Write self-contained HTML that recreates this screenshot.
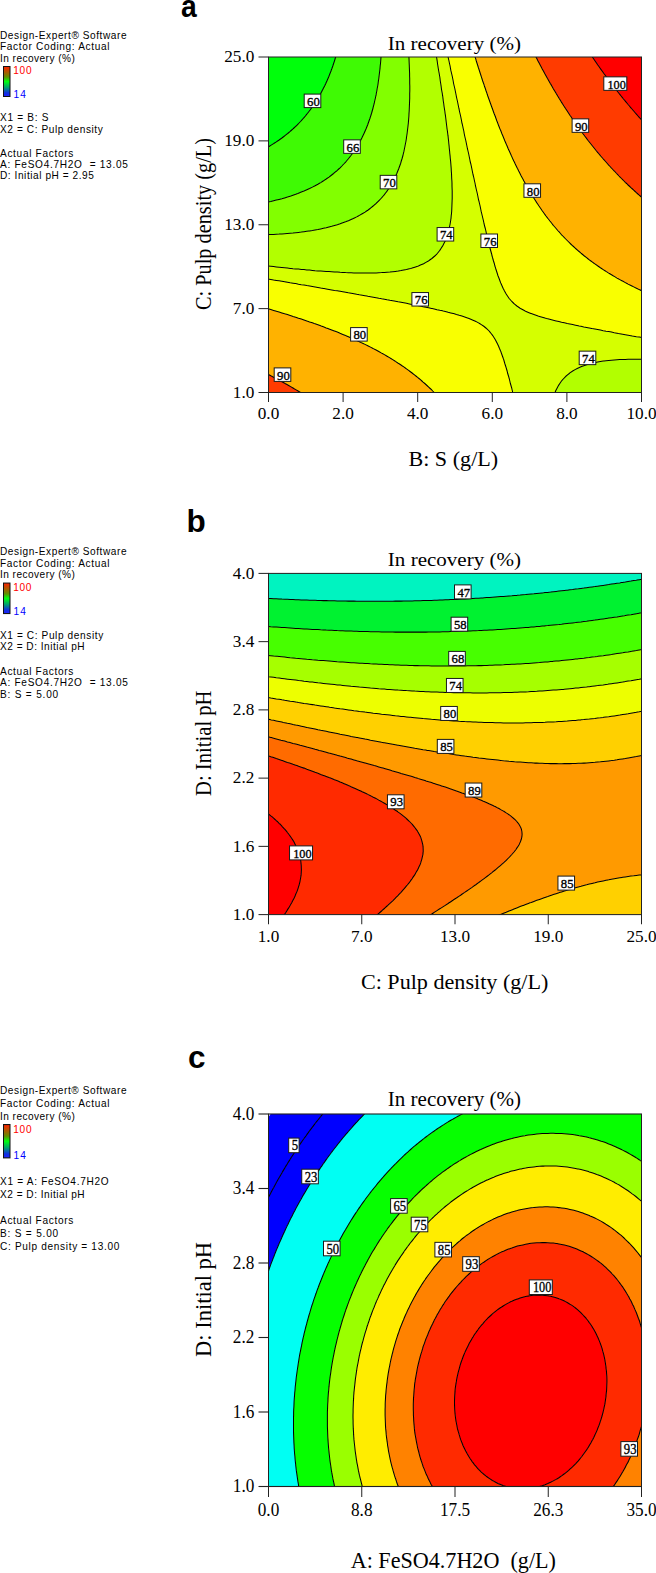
<!DOCTYPE html>
<html><head><meta charset="utf-8"><style>
html,body{margin:0;padding:0;background:#fff;width:656px;height:1573px;overflow:hidden}
svg{display:block}

</style></head><body>
<svg width="656" height="1573" viewBox="0 0 656 1573">
<defs><linearGradient id="gbar" x1="0" y1="0" x2="0" y2="1"><stop offset="0" stop-color="#ff2000"/><stop offset="0.18" stop-color="#b05800"/><stop offset="0.35" stop-color="#609000"/><stop offset="0.5" stop-color="#00ff10"/><stop offset="0.7" stop-color="#00a070"/><stop offset="0.88" stop-color="#1030e0"/><stop offset="1" stop-color="#2020ff"/></linearGradient></defs>
<clipPath id="clipa"><rect x="268.5" y="57.0" width="373.0" height="335.5"/></clipPath>
<g clip-path="url(#clipa)">
<path d="M268 51L270.8 51L273.6 51L276.3 51L279.1 51L281.9 51L284.7 51L287.4 51L290.2 51L293 51L295.7 51L298.5 51L301.3 51L304 51L306.8 51L309.6 51L312.4 51L315.1 51L317.9 51L320.7 51L323.4 51L326.2 51L329 51L331.7 51L334.5 51L337.3 51L337.4 51L337.3 51.4L336.7 53.5L336 56L335.2 58.5L334.5 60.8L334.5 61L333.6 63.5L332.8 66L331.9 68.5L331.7 69L331 71L330 73.5L329 76L329 76.1L328 78.5L326.9 81L326.2 82.5L325.8 83.5L324.6 86L323.4 88.3L323.3 88.5L322 91L320.7 93.5L320.7 93.5L319.3 96L317.9 98.4L317.8 98.5L316.3 101L315.1 102.8L314.7 103.5L313 106L312.4 106.9L311.2 108.5L309.6 110.7L309.3 111L307.4 113.5L306.8 114.2L305.4 116L304 117.6L303.2 118.5L301.3 120.7L301 121L298.6 123.5L298.5 123.6L296.1 126L295.7 126.3L293.4 128.5L293 128.9L290.6 131L290.2 131.4L287.7 133.5L287.4 133.7L284.7 135.9L284.5 136L281.9 138L281.2 138.5L279.1 140L277.6 141L276.3 141.9L273.8 143.5L273.6 143.7L270.8 145.4L269.8 146L268 147L265.4 148.5L265.3 148.6L262.5 150.1L262.5 148.5L262.5 146L262.5 143.5L262.5 141L262.5 138.5L262.5 136L262.5 133.5L262.5 131L262.5 128.5L262.5 126L262.5 123.5L262.5 121L262.5 118.5L262.5 116L262.5 113.5L262.5 111L262.5 108.5L262.5 106L262.5 103.5L262.5 101L262.5 98.5L262.5 96L262.5 93.5L262.5 91L262.5 88.5L262.5 86L262.5 83.5L262.5 81L262.5 78.5L262.5 76L262.5 73.5L262.5 71L262.5 68.5L262.5 66L262.5 63.5L262.5 61L262.5 58.5L262.5 58L264 56L265.3 54.2L265.7 53.5L267.4 51Z" fill="#00ff0b"/>
<path d="M337.3 51.4L337.4 51L340.1 51L342.8 51L345.6 51L348.4 51L351.1 51L353.9 51L356.7 51L359.4 51L362.2 51L365 51L367.8 51L370.5 51L373.3 51L376.1 51L378.8 51L381.4 51L381.3 53.5L381.1 56L380.9 58.5L380.7 61L380.5 63.5L380.2 66L380 68.5L379.7 71L379.4 73.5L379.1 76L378.8 78.3L378.8 78.5L378.4 81L378.1 83.5L377.7 86L377.2 88.5L376.8 91L376.3 93.5L376.1 94.9L375.8 96L375.3 98.5L374.7 101L374.2 103.5L373.5 106L373.3 107L372.9 108.5L372.2 111L371.5 113.5L370.7 116L370.5 116.6L369.9 118.5L369 121L368.1 123.5L367.8 124.5L367.2 126L366.2 128.5L365.1 131L365 131.3L364 133.5L362.8 136L362.2 137.3L361.6 138.5L360.3 141L359.4 142.5L358.9 143.5L357.4 146L356.7 147.2L355.9 148.5L354.2 151L353.9 151.5L352.5 153.5L351.1 155.3L350.6 156L348.6 158.5L348.4 158.8L346.5 161L345.6 162.1L344.3 163.5L342.8 165L341.9 166L340.1 167.8L339.3 168.5L337.3 170.4L336.6 171L334.5 172.7L333.6 173.5L331.7 175L330.4 176L329 177.1L326.9 178.5L326.2 179L323.4 180.8L323.2 181L320.7 182.6L319.1 183.5L317.9 184.2L315.1 185.7L314.6 186L312.4 187.1L309.6 188.5L309.6 188.5L306.8 189.8L304.1 191L304 191L301.3 192.1L298.5 193.2L297.8 193.5L295.7 194.3L293 195.2L290.8 196L290.2 196.2L287.4 197.1L284.7 197.9L282.6 198.5L281.9 198.7L279.1 199.4L276.3 200.1L273.6 200.8L272.8 201L270.8 201.5L268 202.1L265.3 202.6L262.5 203.2L262.5 201L262.5 198.5L262.5 196L262.5 193.5L262.5 191L262.5 188.5L262.5 186L262.5 183.5L262.5 181L262.5 178.5L262.5 176L262.5 173.5L262.5 171L262.5 168.5L262.5 166L262.5 163.5L262.5 161L262.5 158.5L262.5 156L262.5 153.5L262.5 151L262.5 150.1L265.3 148.6L265.4 148.5L268 147L269.8 146L270.8 145.4L273.6 143.7L273.8 143.5L276.3 141.9L277.6 141L279.1 140L281.2 138.5L281.9 138L284.5 136L284.7 135.9L287.4 133.7L287.7 133.5L290.2 131.4L290.6 131L293 128.9L293.4 128.5L295.7 126.3L296.1 126L298.5 123.6L298.6 123.5L301 121L301.3 120.7L303.2 118.5L304 117.6L305.4 116L306.8 114.2L307.4 113.5L309.3 111L309.6 110.7L311.2 108.5L312.4 106.9L313 106L314.7 103.5L315.1 102.8L316.3 101L317.8 98.5L317.9 98.4L319.3 96L320.7 93.5L320.7 93.5L322 91L323.3 88.5L323.4 88.3L324.6 86L325.8 83.5L326.2 82.5L326.9 81L328 78.5L329 76.1L329 76L330 73.5L331 71L331.7 69L331.9 68.5L332.8 66L333.6 63.5L334.5 61L334.5 60.8L335.2 58.5L336 56L336.7 53.5Z" fill="#3ffa04"/>
<path d="M381.6 51L384.4 51L387.1 51L389.9 51L392.7 51L395.4 51L398.2 51L401 51L403.8 51L406.5 51L408.6 51L408.7 53.5L408.9 56L409 58.5L409.1 61L409.2 63.5L409.3 65.6L409.3 66L409.4 68.5L409.5 71L409.6 73.5L409.6 76L409.7 78.5L409.7 81L409.7 83.5L409.8 86L409.8 88.5L409.8 91L409.7 93.5L409.7 96L409.7 98.5L409.6 101L409.5 103.5L409.4 106L409.3 108.5L409.3 108.5L409.2 111L409 113.5L408.9 116L408.7 118.5L408.5 121L408.3 123.5L408 126L407.7 128.5L407.4 131L407.1 133.5L406.7 136L406.5 137.4L406.4 138.5L406 141L405.5 143.5L405 146L404.5 148.5L404 151L403.8 151.9L403.4 153.5L402.8 156L402.1 158.5L401.3 161L401 162.1L400.6 163.5L399.7 166L398.8 168.5L398.2 170L397.8 171L396.8 173.5L395.7 176L395.4 176.6L394.5 178.5L393.3 181L392.7 182.1L391.9 183.5L390.4 186L389.9 186.8L388.8 188.5L387.1 190.9L387.1 191L385.2 193.5L384.4 194.6L383.2 196L381.6 197.9L381 198.5L378.8 200.8L378.7 201L376.1 203.5L376 203.5L373.3 205.9L373.2 206L370.5 208.1L370.1 208.5L367.8 210.2L366.6 211L365 212.1L362.7 213.5L362.2 213.8L359.4 215.4L358.3 216L356.7 216.9L353.9 218.2L353.3 218.5L351.1 219.5L348.4 220.7L347.6 221L345.6 221.8L342.8 222.8L340.8 223.5L340.1 223.8L337.3 224.7L334.5 225.5L332.7 226L331.7 226.3L329 227L326.2 227.7L323.4 228.3L322.5 228.5L320.7 228.9L317.9 229.5L315.1 230L312.4 230.5L309.6 230.9L308.9 231L306.8 231.3L304 231.7L301.3 232.1L298.5 232.4L295.7 232.7L293 233L290.2 233.2L287.4 233.5L287 233.5L284.7 233.7L281.9 233.9L279.1 234.1L276.3 234.2L273.6 234.4L270.8 234.5L268 234.6L265.3 234.7L262.5 234.8L262.5 233.5L262.5 231L262.5 228.5L262.5 226L262.5 223.5L262.5 221L262.5 218.5L262.5 216L262.5 213.5L262.5 211L262.5 208.5L262.5 206L262.5 203.5L262.5 203.2L265.3 202.6L268 202.1L270.8 201.5L272.8 201L273.6 200.8L276.3 200.1L279.1 199.4L281.9 198.7L282.6 198.5L284.7 197.9L287.4 197.1L290.2 196.2L290.8 196L293 195.2L295.7 194.3L297.8 193.5L298.5 193.2L301.3 192.1L304 191L304.1 191L306.8 189.8L309.6 188.5L309.6 188.5L312.4 187.1L314.6 186L315.1 185.7L317.9 184.2L319.1 183.5L320.7 182.6L323.2 181L323.4 180.8L326.2 179L326.9 178.5L329 177.1L330.4 176L331.7 175L333.6 173.5L334.5 172.7L336.6 171L337.3 170.4L339.3 168.5L340.1 167.8L341.9 166L342.8 165L344.3 163.5L345.6 162.1L346.5 161L348.4 158.8L348.6 158.5L350.6 156L351.1 155.3L352.5 153.5L353.9 151.5L354.2 151L355.9 148.5L356.7 147.2L357.4 146L358.9 143.5L359.4 142.5L360.3 141L361.6 138.5L362.2 137.3L362.8 136L364 133.5L365 131.3L365.1 131L366.2 128.5L367.2 126L367.8 124.5L368.1 123.5L369 121L369.9 118.5L370.5 116.6L370.7 116L371.5 113.5L372.2 111L372.9 108.5L373.3 107L373.5 106L374.2 103.5L374.7 101L375.3 98.5L375.8 96L376.1 94.9L376.3 93.5L376.8 91L377.2 88.5L377.7 86L378.1 83.5L378.4 81L378.8 78.5L378.8 78.3L379.1 76L379.4 73.5L379.7 71L380 68.5L380.2 66L380.5 63.5L380.7 61L380.9 58.5L381.1 56L381.3 53.5L381.4 51Z" fill="#82ff00"/>
<path d="M409.3 51L412.1 51L414.8 51L417.6 51L420.4 51L423.1 51L425.9 51L428.7 51L431.5 51L434.2 51L435.5 51L435.9 53.5L436.3 56L436.8 58.5L437 59.8L437.2 61L437.5 63.5L437.9 66L438.3 68.5L438.7 71L439.2 73.5L439.6 76L439.8 77L440 78.5L440.3 81L440.7 83.5L441.1 86L441.4 88.5L441.8 91L442.3 93.5L442.5 95.2L442.7 96L443 98.5L443.3 101L443.7 103.5L444 106L444.4 108.5L444.8 111L445.1 113.5L445.3 114.6L445.5 116L445.8 118.5L446.1 121L446.4 123.5L446.7 126L447 128.5L447.4 131L447.7 133.5L448 136L448.1 136.3L448.3 138.5L448.6 141L448.8 143.5L449.1 146L449.3 148.5L449.6 151L449.8 153.5L450.1 156L450.3 158.5L450.6 161L450.8 163.5L450.8 163.6L451 166L451.2 168.5L451.3 171L451.5 173.5L451.6 176L451.7 178.5L451.9 181L452 183.5L452 186L452.1 188.5L452.2 191L452.2 193.5L452.2 196L452.2 198.5L452.1 201L452 203.5L451.9 206L451.8 208.5L451.7 211L451.5 213.5L451.2 216L451 218.5L450.8 219.5L450.6 221L450.2 223.5L449.7 226L449.1 228.5L448.6 231L448.1 233L447.9 233.5L447 236L446.1 238.5L445.3 240.8L445.2 241L443.9 243.5L442.7 246L442.5 246.2L441 248.5L439.8 250.4L439.3 251L437.3 253.5L437 253.8L434.8 256L434.2 256.5L431.9 258.5L431.5 258.8L428.7 260.8L428.4 261L425.9 262.4L424 263.5L423.1 263.9L420.4 265.1L418.4 266L417.6 266.3L414.8 267.2L412.1 268.1L410.7 268.5L409.3 268.8L406.5 269.5L403.8 270L401 270.6L398.6 271L398.2 271.1L395.4 271.4L392.7 271.7L389.9 272L387.1 272.2L384.4 272.4L381.6 272.6L378.8 272.7L376.1 272.9L373.3 272.9L370.5 273L367.8 273L365 273L362.2 273L359.4 273L356.7 272.9L353.9 272.9L351.1 272.8L348.4 272.7L345.6 272.6L342.8 272.4L340.1 272.3L337.3 272.1L334.5 272L331.7 271.8L329 271.6L326.2 271.5L323.4 271.3L320.7 271.1L319 271L317.9 270.9L315.1 270.7L312.4 270.4L309.6 270.1L306.8 269.9L304 269.6L301.3 269.4L298.5 269.1L295.7 268.9L293 268.7L291.2 268.5L290.2 268.4L287.4 268.1L284.7 267.8L281.9 267.5L279.1 267.2L276.3 266.9L273.6 266.6L270.8 266.3L268 266L267.8 266L265.3 265.7L262.5 265.3L262.5 263.5L262.5 261L262.5 258.5L262.5 256L262.5 253.5L262.5 251L262.5 248.5L262.5 246L262.5 243.5L262.5 241L262.5 238.5L262.5 236L262.5 234.8L265.3 234.7L268 234.6L270.8 234.5L273.6 234.4L276.3 234.2L279.1 234.1L281.9 233.9L284.7 233.7L287 233.5L287.4 233.5L290.2 233.2L293 233L295.7 232.7L298.5 232.4L301.3 232.1L304 231.7L306.8 231.3L308.9 231L309.6 230.9L312.4 230.5L315.1 230L317.9 229.5L320.7 228.9L322.5 228.5L323.4 228.3L326.2 227.7L329 227L331.7 226.3L332.7 226L334.5 225.5L337.3 224.7L340.1 223.8L340.8 223.5L342.8 222.8L345.6 221.8L347.6 221L348.4 220.7L351.1 219.5L353.3 218.5L353.9 218.2L356.7 216.9L358.3 216L359.4 215.4L362.2 213.8L362.7 213.5L365 212.1L366.6 211L367.8 210.2L370.1 208.5L370.5 208.1L373.2 206L373.3 205.9L376 203.5L376.1 203.5L378.7 201L378.8 200.8L381 198.5L381.6 197.9L383.2 196L384.4 194.6L385.2 193.5L387.1 191L387.1 190.9L388.8 188.5L389.9 186.8L390.4 186L391.9 183.5L392.7 182.1L393.3 181L394.5 178.5L395.4 176.6L395.7 176L396.8 173.5L397.8 171L398.2 170L398.8 168.5L399.7 166L400.6 163.5L401 162.1L401.3 161L402.1 158.5L402.8 156L403.4 153.5L403.8 151.9L404 151L404.5 148.5L405 146L405.5 143.5L406 141L406.4 138.5L406.5 137.4L406.7 136L407.1 133.5L407.4 131L407.7 128.5L408 126L408.3 123.5L408.5 121L408.7 118.5L408.9 116L409 113.5L409.2 111L409.3 108.5L409.3 108.5L409.4 106L409.5 103.5L409.6 101L409.7 98.5L409.7 96L409.7 93.5L409.8 91L409.8 88.5L409.8 86L409.7 83.5L409.7 81L409.7 78.5L409.6 76L409.6 73.5L409.5 71L409.4 68.5L409.3 66L409.3 65.6L409.2 63.5L409.1 61L409 58.5L408.9 56L408.7 53.5L408.6 51ZM606 360.8L608.7 360.5L611.5 360.2L614.3 360L617 359.8L619.8 359.6L622.6 359.5L625.3 359.4L628.1 359.3L630.9 359.3L633.7 359.3L636.4 359.3L639.2 359.3L642 359.3L644.7 359.4L647.5 359.4L647.5 361L647.5 363.5L647.5 366L647.5 368.5L647.5 371L647.5 373.5L647.5 376L647.5 378.5L647.5 381L647.5 383.5L647.5 386L647.5 388.5L647.5 391L647.5 393.5L647.5 396L647.5 398.5L644.7 398.5L642 398.5L639.2 398.5L636.4 398.5L633.7 398.5L630.9 398.5L628.1 398.5L625.3 398.5L622.6 398.5L619.8 398.5L617 398.5L614.3 398.5L611.5 398.5L608.7 398.5L606 398.5L603.2 398.5L600.4 398.5L597.6 398.5L594.9 398.5L592.1 398.5L589.3 398.5L586.6 398.5L583.8 398.5L581 398.5L578.3 398.5L575.5 398.5L572.7 398.5L569.9 398.5L567.2 398.5L564.4 398.5L561.6 398.5L558.9 398.5L556.1 398.5L553.3 398.5L552.9 398.5L553.3 397L553.7 396L554.7 393.5L555.6 391L556.1 390L556.9 388.5L558.2 386L558.9 384.9L559.8 383.5L561.5 381L561.6 380.9L563.7 378.5L564.4 377.8L566.2 376L567.2 375.1L569.2 373.5L569.9 372.9L572.7 371L572.7 371L575.5 369.4L577.2 368.5L578.3 368L581 366.8L583 366L583.8 365.7L586.6 364.8L589.3 364L591 363.5L592.1 363.2L594.9 362.7L597.6 362.1L600.4 361.6L603.2 361.1L604 361Z" fill="#b2ff00"/>
<path d="M437 51L439.8 51L442.5 51L445.3 51L446.9 51L447.4 53.5L447.9 56L448.1 57L448.4 58.5L449 61L449.5 63.5L450.1 66L450.5 68.5L450.8 70.2L451 71L451.6 73.5L452.2 76L452.7 78.5L453.2 81L453.6 83.5L453.6 83.5L454.2 86L454.8 88.5L455.3 91L455.8 93.5L456.3 96L456.4 96.6L456.8 98.5L457.4 101L457.9 103.5L458.4 106L458.9 108.5L459.2 109.7L459.4 111L460 113.5L460.6 116L461.1 118.5L461.6 121L461.9 122.8L462.1 123.5L462.7 126L463.2 128.5L463.8 131L464.2 133.5L464.7 136L464.7 136L465.3 138.5L465.9 141L466.4 143.5L466.9 146L467.4 148.5L467.5 148.9L468 151L468.6 153.5L469.1 156L469.6 158.5L470.1 161L470.2 161.7L470.7 163.5L471.3 166L471.8 168.5L472.3 171L472.8 173.5L473 174.5L473.4 176L474 178.5L474.5 181L475.1 183.5L475.5 186L475.8 187.1L476.1 188.5L476.7 191L477.3 193.5L477.8 196L478.3 198.5L478.5 199.6L478.9 201L479.5 203.5L480.1 206L480.6 208.5L481.1 211L481.3 211.9L481.7 213.5L482.3 216L482.9 218.5L483.5 221L484 223.5L484.1 224L484.6 226L485.3 228.5L485.9 231L486.4 233.5L486.9 235.6L487 236L487.6 238.5L488.3 241L488.9 243.5L489.5 246L489.6 246.7L490.1 248.5L490.8 251L491.5 253.5L492.1 256L492.4 257.2L492.8 258.5L493.5 261L494.3 263.5L494.9 266L495.2 266.8L495.7 268.5L496.5 271L497.3 273.5L497.9 275.5L498.1 276L499.1 278.5L500 281L500.7 282.9L501 283.5L502.1 286L503.2 288.5L503.5 289.1L504.5 291L505.9 293.5L506.2 294.1L507.5 296L509 298.2L509.2 298.5L511.4 301L511.8 301.5L513.9 303.5L514.6 304.1L516.9 306L517.3 306.3L520.1 308.2L520.6 308.5L522.9 309.7L525.2 311L525.6 311.2L528.4 312.4L530.9 313.5L531.2 313.6L533.9 314.5L536.7 315.5L538.1 316L539.5 316.4L542.2 317.2L545 318.1L546.5 318.5L547.8 318.8L550.6 319.5L553.3 320.2L556.1 321L556.2 321L558.9 321.5L561.6 322.2L564.4 322.8L567.2 323.5L567.2 323.5L569.9 324L572.7 324.6L575.5 325.2L578.3 325.8L579.1 326L581 326.3L583.8 326.9L586.6 327.4L589.3 328L591.7 328.5L592.1 328.6L594.9 329L597.6 329.5L600.4 330.1L603.2 330.7L604.9 331L606 331.2L608.7 331.6L611.5 332.1L614.3 332.7L617 333.2L618.4 333.5L619.8 333.7L622.6 334.2L625.3 334.7L628.1 335.2L630.9 335.7L632.3 336L633.7 336.2L636.4 336.7L639.2 337.1L642 337.6L644.7 338.2L646.3 338.5L647.5 338.7L647.5 341L647.5 343.5L647.5 346L647.5 348.5L647.5 351L647.5 353.5L647.5 356L647.5 358.5L647.5 359.4L644.7 359.4L642 359.3L639.2 359.3L636.4 359.3L633.7 359.3L630.9 359.3L628.1 359.3L625.3 359.4L622.6 359.5L619.8 359.6L617 359.8L614.3 360L611.5 360.2L608.7 360.5L606 360.8L604 361L603.2 361.1L600.4 361.6L597.6 362.1L594.9 362.7L592.1 363.2L591 363.5L589.3 364L586.6 364.8L583.8 365.7L583 366L581 366.8L578.3 368L577.2 368.5L575.5 369.4L572.7 371L572.7 371L569.9 372.9L569.2 373.5L567.2 375.1L566.2 376L564.4 377.8L563.7 378.5L561.6 380.9L561.5 381L559.8 383.5L558.9 384.9L558.2 386L556.9 388.5L556.1 390L555.6 391L554.7 393.5L553.7 396L553.3 397L552.9 398.5L550.6 398.5L547.8 398.5L545 398.5L542.2 398.5L539.5 398.5L536.7 398.5L533.9 398.5L531.2 398.5L528.4 398.5L525.6 398.5L522.9 398.5L520.1 398.5L517.3 398.5L514.6 398.5L514.2 398.5L513.6 396L512.9 393.5L512.4 391L511.8 388.5L511.8 388.4L511.1 386L510.4 383.5L509.8 381L509.2 378.5L509 377.8L508.5 376L507.7 373.5L507.1 371L506.4 368.5L506.2 367.9L505.6 366L504.8 363.5L504.1 361L503.5 358.9L503.3 358.5L502.4 356L501.5 353.5L500.7 351.2L500.6 351L499.5 348.5L498.5 346L497.9 344.7L497.3 343.5L496 341L495.2 339.4L494.6 338.5L493 336L492.4 335.1L491.1 333.5L489.6 331.6L489.1 331L486.9 328.8L486.5 328.5L484.1 326.5L483.4 326L481.3 324.6L479.6 323.5L478.5 322.9L475.8 321.4L474.9 321L473 320.2L470.2 319L469 318.5L467.5 318L464.7 317L461.9 316L461.9 316L459.2 315.3L456.4 314.5L453.6 313.6L453.2 313.5L450.8 312.9L448.1 312.3L445.3 311.5L443.2 311L442.5 310.8L439.8 310.3L437 309.7L434.2 309L432.2 308.5L431.5 308.4L428.7 307.8L425.9 307.3L423.1 306.7L420.4 306L420.3 306L417.6 305.5L414.8 305L412.1 304.5L409.3 303.9L407.5 303.5L406.5 303.3L403.8 302.8L401 302.3L398.2 301.8L395.4 301.2L394.3 301L392.7 300.7L389.9 300.3L387.1 299.8L384.4 299.2L381.6 298.7L380.8 298.5L378.8 298.2L376.1 297.7L373.3 297.2L370.5 296.7L367.8 296.2L366.9 296L365 295.7L362.2 295.2L359.4 294.8L356.7 294.3L353.9 293.7L352.8 293.5L351.1 293.2L348.4 292.8L345.6 292.3L342.8 291.8L340.1 291.3L338.5 291L337.3 290.8L334.5 290.4L331.7 289.9L329 289.4L326.2 288.9L324.1 288.5L323.4 288.4L320.7 288L317.9 287.5L315.1 287L312.4 286.5L309.7 286L309.6 286L306.8 285.6L304 285.1L301.3 284.7L298.5 284.2L295.7 283.6L295 283.5L293 283.2L290.2 282.8L287.4 282.3L284.7 281.8L281.9 281.3L280.3 281L279.1 280.8L276.3 280.4L273.6 280L270.8 279.5L268 279L265.6 278.5L265.3 278.4L262.5 278L262.5 276L262.5 273.5L262.5 271L262.5 268.5L262.5 266L262.5 265.3L265.3 265.7L267.8 266L268 266L270.8 266.3L273.6 266.6L276.3 266.9L279.1 267.2L281.9 267.5L284.7 267.8L287.4 268.1L290.2 268.4L291.2 268.5L293 268.7L295.7 268.9L298.5 269.1L301.3 269.4L304 269.6L306.8 269.9L309.6 270.1L312.4 270.4L315.1 270.7L317.9 270.9L319 271L320.7 271.1L323.4 271.3L326.2 271.5L329 271.6L331.7 271.8L334.5 272L337.3 272.1L340.1 272.3L342.8 272.4L345.6 272.6L348.4 272.7L351.1 272.8L353.9 272.9L356.7 272.9L359.4 273L362.2 273L365 273L367.8 273L370.5 273L373.3 272.9L376.1 272.9L378.8 272.7L381.6 272.6L384.4 272.4L387.1 272.2L389.9 272L392.7 271.7L395.4 271.4L398.2 271.1L398.6 271L401 270.6L403.8 270L406.5 269.5L409.3 268.8L410.7 268.5L412.1 268.1L414.8 267.2L417.6 266.3L418.4 266L420.4 265.1L423.1 263.9L424 263.5L425.9 262.4L428.4 261L428.7 260.8L431.5 258.8L431.9 258.5L434.2 256.5L434.8 256L437 253.8L437.3 253.5L439.3 251L439.8 250.4L441 248.5L442.5 246.2L442.7 246L443.9 243.5L445.2 241L445.3 240.8L446.1 238.5L447 236L447.9 233.5L448.1 233L448.6 231L449.1 228.5L449.7 226L450.2 223.5L450.6 221L450.8 219.5L451 218.5L451.2 216L451.5 213.5L451.7 211L451.8 208.5L451.9 206L452 203.5L452.1 201L452.2 198.5L452.2 196L452.2 193.5L452.2 191L452.1 188.5L452 186L452 183.5L451.9 181L451.7 178.5L451.6 176L451.5 173.5L451.3 171L451.2 168.5L451 166L450.8 163.6L450.8 163.5L450.6 161L450.3 158.5L450.1 156L449.8 153.5L449.6 151L449.3 148.5L449.1 146L448.8 143.5L448.6 141L448.3 138.5L448.1 136.3L448 136L447.7 133.5L447.4 131L447 128.5L446.7 126L446.4 123.5L446.1 121L445.8 118.5L445.5 116L445.3 114.6L445.1 113.5L444.8 111L444.4 108.5L444 106L443.7 103.5L443.3 101L443 98.5L442.7 96L442.5 95.2L442.3 93.5L441.8 91L441.4 88.5L441.1 86L440.7 83.5L440.3 81L440 78.5L439.8 77L439.6 76L439.2 73.5L438.7 71L438.3 68.5L437.9 66L437.5 63.5L437.2 61L437 59.8L436.8 58.5L436.3 56L435.9 53.5L435.5 51Z" fill="#d5ff00"/>
<path d="M448.1 51L450.8 51L453.6 51L456.4 51L459.2 51L461.9 51L464.7 51L467.5 51L470.2 51L473 51L473.3 51L474 53.5L474.8 56L475.6 58.5L475.8 59.2L476.3 61L477.1 63.5L477.9 66L478.5 68L478.7 68.5L479.5 71L480.3 73.5L481.1 76L481.3 76.6L481.9 78.5L482.7 81L483.6 83.5L484.1 84.9L484.4 86L485.3 88.5L486.1 91L486.9 93.1L487 93.5L487.8 96L488.7 98.5L489.6 101L489.6 101L490.5 103.5L491.4 106L492.3 108.5L492.4 108.8L493.2 111L494.1 113.5L495.1 116L495.2 116.3L496 118.5L496.9 121L497.9 123.5L497.9 123.6L498.8 126L499.8 128.5L500.7 130.6L500.9 131L501.8 133.5L502.9 136L503.5 137.5L503.9 138.5L504.9 141L506 143.5L506.2 144.1L507.1 146L508.1 148.5L509 150.4L509.3 151L510.4 153.5L511.5 156L511.8 156.6L512.6 158.5L513.8 161L514.6 162.5L515 163.5L516.2 166L517.3 168.2L517.5 168.5L518.7 171L520 173.5L520.1 173.7L521.2 176L522.6 178.5L522.9 179L523.9 181L525.3 183.5L525.6 184.1L526.7 186L528.1 188.5L528.4 189L529.5 191L531.1 193.5L531.2 193.7L532.5 196L533.9 198.2L534.1 198.5L535.7 201L536.7 202.6L537.3 203.5L539 206L539.5 206.7L540.7 208.5L542.2 210.7L542.4 211L544.2 213.5L545 214.6L546 216L547.8 218.3L548 218.5L549.9 221L550.6 221.8L551.9 223.5L553.3 225.3L553.9 226L556.1 228.5L556.1 228.5L558.2 231L558.9 231.7L560.5 233.5L561.6 234.8L562.8 236L564.4 237.7L565.2 238.5L567.2 240.5L567.7 241L569.9 243.2L570.2 243.5L572.7 245.8L572.9 246L575.5 248.4L575.6 248.5L578.3 250.8L578.5 251L581 253.2L581.4 253.5L583.8 255.5L584.4 256L586.6 257.7L587.6 258.5L589.3 259.8L590.9 261L592.1 261.9L594.3 263.5L594.9 263.9L597.6 265.8L597.9 266L600.4 267.8L601.5 268.5L603.2 269.6L605.4 271L606 271.4L608.7 273.1L609.4 273.5L611.5 274.8L613.5 276L614.3 276.4L617 278.1L617.8 278.5L619.8 279.6L622.3 281L622.6 281.1L625.3 282.6L627 283.5L628.1 284.1L630.9 285.5L631.9 286L633.7 286.9L636.4 288.2L637 288.5L639.2 289.6L642 290.9L642.3 291L644.7 292.2L647.5 293.4L647.5 293.5L647.5 296L647.5 298.5L647.5 301L647.5 303.5L647.5 306L647.5 308.5L647.5 311L647.5 313.5L647.5 316L647.5 318.5L647.5 321L647.5 323.5L647.5 326L647.5 328.5L647.5 331L647.5 333.5L647.5 336L647.5 338.5L647.5 338.7L646.3 338.5L644.7 338.2L642 337.6L639.2 337.1L636.4 336.7L633.7 336.2L632.3 336L630.9 335.7L628.1 335.2L625.3 334.7L622.6 334.2L619.8 333.7L618.4 333.5L617 333.2L614.3 332.7L611.5 332.1L608.7 331.6L606 331.2L604.9 331L603.2 330.7L600.4 330.1L597.6 329.5L594.9 329L592.1 328.6L591.7 328.5L589.3 328L586.6 327.4L583.8 326.9L581 326.3L579.1 326L578.3 325.8L575.5 325.2L572.7 324.6L569.9 324L567.2 323.5L567.2 323.5L564.4 322.8L561.6 322.2L558.9 321.5L556.2 321L556.1 321L553.3 320.2L550.6 319.5L547.8 318.8L546.5 318.5L545 318.1L542.2 317.2L539.5 316.4L538.1 316L536.7 315.5L533.9 314.5L531.2 313.6L530.9 313.5L528.4 312.4L525.6 311.2L525.2 311L522.9 309.7L520.6 308.5L520.1 308.2L517.3 306.3L516.9 306L514.6 304.1L513.9 303.5L511.8 301.5L511.4 301L509.2 298.5L509 298.2L507.5 296L506.2 294.1L505.9 293.5L504.5 291L503.5 289.1L503.2 288.5L502.1 286L501 283.5L500.7 282.9L500 281L499.1 278.5L498.1 276L497.9 275.5L497.3 273.5L496.5 271L495.7 268.5L495.2 266.8L494.9 266L494.3 263.5L493.5 261L492.8 258.5L492.4 257.2L492.1 256L491.5 253.5L490.8 251L490.1 248.5L489.6 246.7L489.5 246L488.9 243.5L488.3 241L487.6 238.5L487 236L486.9 235.6L486.4 233.5L485.9 231L485.3 228.5L484.6 226L484.1 224L484 223.5L483.5 221L482.9 218.5L482.3 216L481.7 213.5L481.3 211.9L481.1 211L480.6 208.5L480.1 206L479.5 203.5L478.9 201L478.5 199.6L478.3 198.5L477.8 196L477.3 193.5L476.7 191L476.1 188.5L475.8 187.1L475.5 186L475.1 183.5L474.5 181L474 178.5L473.4 176L473 174.5L472.8 173.5L472.3 171L471.8 168.5L471.3 166L470.7 163.5L470.2 161.7L470.1 161L469.6 158.5L469.1 156L468.6 153.5L468 151L467.5 148.9L467.4 148.5L466.9 146L466.4 143.5L465.9 141L465.3 138.5L464.7 136L464.7 136L464.2 133.5L463.8 131L463.2 128.5L462.7 126L462.1 123.5L461.9 122.8L461.6 121L461.1 118.5L460.6 116L460 113.5L459.4 111L459.2 109.7L458.9 108.5L458.4 106L457.9 103.5L457.4 101L456.8 98.5L456.4 96.6L456.3 96L455.8 93.5L455.3 91L454.8 88.5L454.2 86L453.6 83.5L453.6 83.5L453.2 81L452.7 78.5L452.2 76L451.6 73.5L451 71L450.8 70.2L450.5 68.5L450.1 66L449.5 63.5L449 61L448.4 58.5L448.1 57L447.9 56L447.4 53.5L446.9 51ZM265.3 278.4L265.6 278.5L268 279L270.8 279.5L273.6 280L276.3 280.4L279.1 280.8L280.3 281L281.9 281.3L284.7 281.8L287.4 282.3L290.2 282.8L293 283.2L295 283.5L295.7 283.6L298.5 284.2L301.3 284.7L304 285.1L306.8 285.6L309.6 286L309.7 286L312.4 286.5L315.1 287L317.9 287.5L320.7 288L323.4 288.4L324.1 288.5L326.2 288.9L329 289.4L331.7 289.9L334.5 290.4L337.3 290.8L338.5 291L340.1 291.3L342.8 291.8L345.6 292.3L348.4 292.8L351.1 293.2L352.8 293.5L353.9 293.7L356.7 294.3L359.4 294.8L362.2 295.2L365 295.7L366.9 296L367.8 296.2L370.5 296.7L373.3 297.2L376.1 297.7L378.8 298.2L380.8 298.5L381.6 298.7L384.4 299.2L387.1 299.8L389.9 300.3L392.7 300.7L394.3 301L395.4 301.2L398.2 301.8L401 302.3L403.8 302.8L406.5 303.3L407.5 303.5L409.3 303.9L412.1 304.5L414.8 305L417.6 305.5L420.3 306L420.4 306L423.1 306.7L425.9 307.3L428.7 307.8L431.5 308.4L432.2 308.5L434.2 309L437 309.7L439.8 310.3L442.5 310.8L443.2 311L445.3 311.5L448.1 312.3L450.8 312.9L453.2 313.5L453.6 313.6L456.4 314.5L459.2 315.3L461.9 316L461.9 316L464.7 317L467.5 318L469 318.5L470.2 319L473 320.2L474.9 321L475.8 321.4L478.5 322.9L479.6 323.5L481.3 324.6L483.4 326L484.1 326.5L486.5 328.5L486.9 328.8L489.1 331L489.6 331.6L491.1 333.5L492.4 335.1L493 336L494.6 338.5L495.2 339.4L496 341L497.3 343.5L497.9 344.7L498.5 346L499.5 348.5L500.6 351L500.7 351.2L501.5 353.5L502.4 356L503.3 358.5L503.5 358.9L504.1 361L504.8 363.5L505.6 366L506.2 367.9L506.4 368.5L507.1 371L507.7 373.5L508.5 376L509 377.8L509.2 378.5L509.8 381L510.4 383.5L511.1 386L511.8 388.4L511.8 388.5L512.4 391L512.9 393.5L513.6 396L514.2 398.5L511.8 398.5L509 398.5L506.2 398.5L503.5 398.5L500.7 398.5L497.9 398.5L495.2 398.5L492.4 398.5L489.6 398.5L486.9 398.5L484.1 398.5L481.3 398.5L478.5 398.5L475.8 398.5L473 398.5L470.2 398.5L467.5 398.5L464.7 398.5L461.9 398.5L459.2 398.5L456.4 398.5L453.6 398.5L450.8 398.5L448.1 398.5L445.3 398.5L442.5 398.5L439.9 398.5L439.8 398.3L437.6 396L437 395.4L435.2 393.5L434.2 392.5L432.7 391L431.5 389.7L430.2 388.5L428.7 387.1L427.5 386L425.9 384.5L424.8 383.5L423.1 382.1L421.9 381L420.4 379.7L419 378.5L417.6 377.4L415.9 376L414.8 375.1L412.7 373.5L412.1 373L409.4 371L409.3 370.9L406.5 368.9L406 368.5L403.8 366.9L402.4 366L401 365L398.7 363.5L398.2 363.2L395.4 361.4L394.9 361L392.7 359.6L390.9 358.5L389.9 357.9L387.1 356.3L386.7 356L384.4 354.6L382.4 353.5L381.6 353.1L378.8 351.5L377.9 351L376.1 350L373.3 348.6L373.1 348.5L370.5 347.1L368.2 346L367.8 345.8L365 344.4L363.1 343.5L362.2 343.1L359.4 341.7L357.8 341L356.7 340.5L353.9 339.2L352.3 338.5L351.1 338L348.4 336.8L346.6 336L345.6 335.6L342.8 334.4L340.6 333.5L340.1 333.3L337.3 332.1L334.5 331.1L334.3 331L331.7 330L329 328.9L327.9 328.5L326.2 327.9L323.4 326.8L321.2 326L320.7 325.8L317.9 324.8L315.1 323.8L314.2 323.5L312.4 322.8L309.6 321.9L307 321L306.8 320.9L304 320L301.3 319.1L299.6 318.5L298.5 318.2L295.7 317.2L293 316.4L291.8 316L290.2 315.5L287.4 314.6L284.7 313.8L283.8 313.5L281.9 312.9L279.1 312L276.3 311.2L275.6 311L273.6 310.4L270.8 309.6L268 308.8L267.1 308.5L265.3 308L262.5 307.2L262.5 306L262.5 303.5L262.5 301L262.5 298.5L262.5 296L262.5 293.5L262.5 291L262.5 288.5L262.5 286L262.5 283.5L262.5 281L262.5 278.5L262.5 278Z" fill="#f9ff00"/>
<path d="M475.8 51L478.5 51L481.3 51L484.1 51L486.9 51L489.6 51L492.4 51L495.2 51L497.9 51L500.7 51L503.5 51L506.2 51L509 51L511.8 51L514.6 51L517.3 51L520.1 51L522.9 51L525.6 51L528.4 51L531.2 51L532.9 51L533.9 53L534.2 53.5L535.5 56L536.7 58.4L536.8 58.5L538 61L539.4 63.5L539.5 63.7L540.7 66L542 68.5L542.2 68.9L543.4 71L544.7 73.5L545 74L546.1 76L547.5 78.5L547.8 79L548.9 81L550.3 83.5L550.6 83.9L551.8 86L553.2 88.5L553.3 88.7L554.7 91L556.1 93.3L556.2 93.5L557.7 96L558.9 97.9L559.2 98.5L560.8 101L561.6 102.4L562.3 103.5L563.9 106L564.4 106.7L565.5 108.5L567.2 111L567.2 111L568.8 113.5L569.9 115.2L570.5 116L572.2 118.5L572.7 119.3L573.9 121L575.5 123.3L575.6 123.5L577.4 126L578.3 127.2L579.2 128.5L581 131L581 131L582.8 133.5L583.8 134.8L584.7 136L586.6 138.4L586.6 138.5L588.5 141L589.3 142L590.5 143.5L592.1 145.5L592.5 146L594.5 148.5L594.9 149L596.5 151L597.6 152.3L598.6 153.5L600.4 155.6L600.7 156L602.9 158.5L603.2 158.8L605.1 161L606 162L607.3 163.5L608.7 165.1L609.6 166L611.5 168.1L611.9 168.5L614.2 171L614.3 171L616.6 173.5L617 173.9L619 176L619.8 176.8L621.5 178.5L622.6 179.6L624 181L625.3 182.3L626.6 183.5L628.1 185L629.2 186L630.9 187.6L631.9 188.5L633.7 190.2L634.6 191L636.4 192.7L637.3 193.5L639.2 195.2L640.2 196L642 197.6L643 198.5L644.7 200L646 201L647.5 202.3L647.5 203.5L647.5 206L647.5 208.5L647.5 211L647.5 213.5L647.5 216L647.5 218.5L647.5 221L647.5 223.5L647.5 226L647.5 228.5L647.5 231L647.5 233.5L647.5 236L647.5 238.5L647.5 241L647.5 243.5L647.5 246L647.5 248.5L647.5 251L647.5 253.5L647.5 256L647.5 258.5L647.5 261L647.5 263.5L647.5 266L647.5 268.5L647.5 271L647.5 273.5L647.5 276L647.5 278.5L647.5 281L647.5 283.5L647.5 286L647.5 288.5L647.5 291L647.5 293.4L644.7 292.2L642.3 291L642 290.9L639.2 289.6L637 288.5L636.4 288.2L633.7 286.9L631.9 286L630.9 285.5L628.1 284.1L627 283.5L625.3 282.6L622.6 281.1L622.3 281L619.8 279.6L617.8 278.5L617 278.1L614.3 276.4L613.5 276L611.5 274.8L609.4 273.5L608.7 273.1L606 271.4L605.4 271L603.2 269.6L601.5 268.5L600.4 267.8L597.9 266L597.6 265.8L594.9 263.9L594.3 263.5L592.1 261.9L590.9 261L589.3 259.8L587.6 258.5L586.6 257.7L584.4 256L583.8 255.5L581.4 253.5L581 253.2L578.5 251L578.3 250.8L575.6 248.5L575.5 248.4L572.9 246L572.7 245.8L570.2 243.5L569.9 243.2L567.7 241L567.2 240.5L565.2 238.5L564.4 237.7L562.8 236L561.6 234.8L560.5 233.5L558.9 231.7L558.2 231L556.1 228.5L556.1 228.5L553.9 226L553.3 225.3L551.9 223.5L550.6 221.8L549.9 221L548 218.5L547.8 218.3L546 216L545 214.6L544.2 213.5L542.4 211L542.2 210.7L540.7 208.5L539.5 206.7L539 206L537.3 203.5L536.7 202.6L535.7 201L534.1 198.5L533.9 198.2L532.5 196L531.2 193.7L531.1 193.5L529.5 191L528.4 189L528.1 188.5L526.7 186L525.6 184.1L525.3 183.5L523.9 181L522.9 179L522.6 178.5L521.2 176L520.1 173.7L520 173.5L518.7 171L517.5 168.5L517.3 168.2L516.2 166L515 163.5L514.6 162.5L513.8 161L512.6 158.5L511.8 156.6L511.5 156L510.4 153.5L509.3 151L509 150.4L508.1 148.5L507.1 146L506.2 144.1L506 143.5L504.9 141L503.9 138.5L503.5 137.5L502.9 136L501.8 133.5L500.9 131L500.7 130.6L499.8 128.5L498.8 126L497.9 123.6L497.9 123.5L496.9 121L496 118.5L495.2 116.3L495.1 116L494.1 113.5L493.2 111L492.4 108.8L492.3 108.5L491.4 106L490.5 103.5L489.6 101L489.6 101L488.7 98.5L487.8 96L487 93.5L486.9 93.1L486.1 91L485.3 88.5L484.4 86L484.1 84.9L483.6 83.5L482.7 81L481.9 78.5L481.3 76.6L481.1 76L480.3 73.5L479.5 71L478.7 68.5L478.5 68L477.9 66L477.1 63.5L476.3 61L475.8 59.2L475.6 58.5L474.8 56L474 53.5L473.3 51ZM265.3 308L267.1 308.5L268 308.8L270.8 309.6L273.6 310.4L275.6 311L276.3 311.2L279.1 312L281.9 312.9L283.8 313.5L284.7 313.8L287.4 314.6L290.2 315.5L291.8 316L293 316.4L295.7 317.2L298.5 318.2L299.6 318.5L301.3 319.1L304 320L306.8 320.9L307 321L309.6 321.9L312.4 322.8L314.2 323.5L315.1 323.8L317.9 324.8L320.7 325.8L321.2 326L323.4 326.8L326.2 327.9L327.9 328.5L329 328.9L331.7 330L334.3 331L334.5 331.1L337.3 332.1L340.1 333.3L340.6 333.5L342.8 334.4L345.6 335.6L346.6 336L348.4 336.8L351.1 338L352.3 338.5L353.9 339.2L356.7 340.5L357.8 341L359.4 341.7L362.2 343.1L363.1 343.5L365 344.4L367.8 345.8L368.2 346L370.5 347.1L373.1 348.5L373.3 348.6L376.1 350L377.9 351L378.8 351.5L381.6 353.1L382.4 353.5L384.4 354.6L386.7 356L387.1 356.3L389.9 357.9L390.9 358.5L392.7 359.6L394.9 361L395.4 361.4L398.2 363.2L398.7 363.5L401 365L402.4 366L403.8 366.9L406 368.5L406.5 368.9L409.3 370.9L409.4 371L412.1 373L412.7 373.5L414.8 375.1L415.9 376L417.6 377.4L419 378.5L420.4 379.7L421.9 381L423.1 382.1L424.8 383.5L425.9 384.5L427.5 386L428.7 387.1L430.2 388.5L431.5 389.7L432.7 391L434.2 392.5L435.2 393.5L437 395.4L437.6 396L439.8 398.3L439.9 398.5L439.8 398.5L437 398.5L434.2 398.5L431.5 398.5L428.7 398.5L425.9 398.5L423.1 398.5L420.4 398.5L417.6 398.5L414.8 398.5L412.1 398.5L409.3 398.5L406.5 398.5L403.8 398.5L401 398.5L398.2 398.5L395.4 398.5L392.7 398.5L389.9 398.5L387.1 398.5L384.4 398.5L381.6 398.5L378.8 398.5L376.1 398.5L373.3 398.5L370.5 398.5L367.8 398.5L365 398.5L362.2 398.5L359.4 398.5L356.7 398.5L353.9 398.5L351.1 398.5L348.4 398.5L345.6 398.5L342.8 398.5L340.1 398.5L337.3 398.5L334.5 398.5L331.7 398.5L329 398.5L326.2 398.5L323.4 398.5L320.7 398.5L317.9 398.5L315.1 398.5L312.4 398.5L310.1 398.5L309.6 398.1L306.8 396.4L306.2 396L304 394.7L302.2 393.5L301.3 393L298.5 391.3L298.1 391L295.7 389.6L293.8 388.5L293 388L290.2 386.4L289.5 386L287.4 384.8L285.1 383.5L284.7 383.2L281.9 381.7L280.6 381L279.1 380.2L276.3 378.7L276 378.5L273.6 377.2L271.3 376L270.8 375.7L268 374.3L266.5 373.5L265.3 372.8L262.5 371.4L262.5 371L262.5 368.5L262.5 366L262.5 363.5L262.5 361L262.5 358.5L262.5 356L262.5 353.5L262.5 351L262.5 348.5L262.5 346L262.5 343.5L262.5 341L262.5 338.5L262.5 336L262.5 333.5L262.5 331L262.5 328.5L262.5 326L262.5 323.5L262.5 321L262.5 318.5L262.5 316L262.5 313.5L262.5 311L262.5 308.5L262.5 307.2Z" fill="#ffb200"/>
<path d="M533.9 51L536.7 51L539.5 51L542.2 51L545 51L547.8 51L550.6 51L553.3 51L556.1 51L558.9 51L561.6 51L564.4 51L567.2 51L569.9 51L572.7 51L575.5 51L578.3 51L581 51L583.8 51L586.6 51L588.4 51L589.3 52.5L590 53.5L591.7 56L592.1 56.6L593.4 58.5L594.9 60.7L595.1 61L596.8 63.5L597.6 64.7L598.6 66L600.3 68.5L600.4 68.6L602.1 71L603.2 72.5L603.9 73.5L605.8 76L606 76.3L607.6 78.5L608.7 80L609.5 81L611.3 83.5L611.5 83.7L613.3 86L614.3 87.3L615.2 88.5L617 90.9L617.1 91L619.1 93.5L619.8 94.4L621.1 96L622.6 97.8L623.1 98.5L625.2 101L625.3 101.2L627.3 103.5L628.1 104.5L629.4 106L630.9 107.8L631.5 108.5L633.7 111L633.7 111L635.8 113.5L636.4 114.2L638 116L639.2 117.3L640.3 118.5L642 120.3L642.6 121L644.7 123.4L644.9 123.5L647.2 126L647.5 126.3L647.5 128.5L647.5 131L647.5 133.5L647.5 136L647.5 138.5L647.5 141L647.5 143.5L647.5 146L647.5 148.5L647.5 151L647.5 153.5L647.5 156L647.5 158.5L647.5 161L647.5 163.5L647.5 166L647.5 168.5L647.5 171L647.5 173.5L647.5 176L647.5 178.5L647.5 181L647.5 183.5L647.5 186L647.5 188.5L647.5 191L647.5 193.5L647.5 196L647.5 198.5L647.5 201L647.5 202.3L646 201L644.7 200L643 198.5L642 197.6L640.2 196L639.2 195.2L637.3 193.5L636.4 192.7L634.6 191L633.7 190.2L631.9 188.5L630.9 187.6L629.2 186L628.1 185L626.6 183.5L625.3 182.3L624 181L622.6 179.6L621.5 178.5L619.8 176.8L619 176L617 173.9L616.6 173.5L614.3 171L614.2 171L611.9 168.5L611.5 168.1L609.6 166L608.7 165.1L607.3 163.5L606 162L605.1 161L603.2 158.8L602.9 158.5L600.7 156L600.4 155.6L598.6 153.5L597.6 152.3L596.5 151L594.9 149L594.5 148.5L592.5 146L592.1 145.5L590.5 143.5L589.3 142L588.5 141L586.6 138.5L586.6 138.4L584.7 136L583.8 134.8L582.8 133.5L581 131L581 131L579.2 128.5L578.3 127.2L577.4 126L575.6 123.5L575.5 123.3L573.9 121L572.7 119.3L572.2 118.5L570.5 116L569.9 115.2L568.8 113.5L567.2 111L567.2 111L565.5 108.5L564.4 106.7L563.9 106L562.3 103.5L561.6 102.4L560.8 101L559.2 98.5L558.9 97.9L557.7 96L556.2 93.5L556.1 93.3L554.7 91L553.3 88.7L553.2 88.5L551.8 86L550.6 83.9L550.3 83.5L548.9 81L547.8 79L547.5 78.5L546.1 76L545 74L544.7 73.5L543.4 71L542.2 68.9L542 68.5L540.7 66L539.5 63.7L539.4 63.5L538 61L536.8 58.5L536.7 58.4L535.5 56L534.2 53.5L533.9 53L532.9 51ZM265.3 372.8L266.5 373.5L268 374.3L270.8 375.7L271.3 376L273.6 377.2L276 378.5L276.3 378.7L279.1 380.2L280.6 381L281.9 381.7L284.7 383.2L285.1 383.5L287.4 384.8L289.5 386L290.2 386.4L293 388L293.8 388.5L295.7 389.6L298.1 391L298.5 391.3L301.3 393L302.2 393.5L304 394.7L306.2 396L306.8 396.4L309.6 398.1L310.1 398.5L309.6 398.5L306.8 398.5L304 398.5L301.3 398.5L298.5 398.5L295.7 398.5L293 398.5L290.2 398.5L287.4 398.5L284.7 398.5L281.9 398.5L279.1 398.5L276.3 398.5L273.6 398.5L270.8 398.5L268 398.5L265.3 398.5L262.5 398.5L262.5 396L262.5 393.5L262.5 391L262.5 388.5L262.5 386L262.5 383.5L262.5 381L262.5 378.5L262.5 376L262.5 373.5L262.5 371.4Z" fill="#ff3b00"/>
<path d="M589.3 51L592.1 51L594.9 51L597.6 51L600.4 51L603.2 51L606 51L608.7 51L611.5 51L614.3 51L617 51L619.8 51L622.6 51L625.3 51L628.1 51L630.9 51L633.7 51L636.4 51L638.4 51L639.2 52L640.4 53.5L642 55.4L642.4 56L644.4 58.5L644.7 58.9L646.5 61L647.5 62.2L647.5 63.5L647.5 66L647.5 68.5L647.5 71L647.5 73.5L647.5 76L647.5 78.5L647.5 81L647.5 83.5L647.5 86L647.5 88.5L647.5 91L647.5 93.5L647.5 96L647.5 98.5L647.5 101L647.5 103.5L647.5 106L647.5 108.5L647.5 111L647.5 113.5L647.5 116L647.5 118.5L647.5 121L647.5 123.5L647.5 126L647.5 126.3L647.2 126L644.9 123.5L644.7 123.4L642.6 121L642 120.3L640.3 118.5L639.2 117.3L638 116L636.4 114.2L635.8 113.5L633.7 111L633.7 111L631.5 108.5L630.9 107.8L629.4 106L628.1 104.5L627.3 103.5L625.3 101.2L625.2 101L623.1 98.5L622.6 97.8L621.1 96L619.8 94.4L619.1 93.5L617.1 91L617 90.9L615.2 88.5L614.3 87.3L613.3 86L611.5 83.7L611.3 83.5L609.5 81L608.7 80L607.6 78.5L606 76.3L605.8 76L603.9 73.5L603.2 72.5L602.1 71L600.4 68.6L600.3 68.5L598.6 66L597.6 64.7L596.8 63.5L595.1 61L594.9 60.7L593.4 58.5L592.1 56.6L591.7 56L590 53.5L589.3 52.5L588.4 51Z" fill="#ff0000"/>
<path d="M262.5 150.1L265.3 148.6L265.4 148.5L268 147L269.8 146L270.8 145.4L273.6 143.7L273.8 143.5L276.3 141.9L277.6 141L279.1 140L281.2 138.5L281.9 138L284.5 136L284.7 135.9L287.4 133.7L287.7 133.5L290.2 131.4L290.6 131L293 128.9L293.4 128.5L295.7 126.3L296.1 126L298.5 123.6L298.6 123.5L301 121L301.3 120.7L303.2 118.5L304 117.6L305.4 116L306.8 114.2L307.4 113.5L309.3 111L309.6 110.7L311.2 108.5L312.4 106.9L313 106L314.7 103.5L315.1 102.8L316.3 101L317.8 98.5L317.9 98.4L319.3 96L320.7 93.5L320.7 93.5L322 91L323.3 88.5L323.4 88.3L324.6 86L325.8 83.5L326.2 82.5L326.9 81L328 78.5L329 76.1L329 76L330 73.5L331 71L331.7 69L331.9 68.5L332.8 66L333.6 63.5L334.5 61L334.5 60.8L335.2 58.5L336 56L336.7 53.5L337.3 51.4L337.4 51" fill="none" stroke="#000" stroke-width="1.05"/>
<path d="M262.5 203.2L265.3 202.6L268 202.1L270.8 201.5L272.8 201L273.6 200.8L276.3 200.1L279.1 199.4L281.9 198.7L282.6 198.5L284.7 197.9L287.4 197.1L290.2 196.2L290.8 196L293 195.2L295.7 194.3L297.8 193.5L298.5 193.2L301.3 192.1L304 191L304.1 191L306.8 189.8L309.6 188.5L309.6 188.5L312.4 187.1L314.6 186L315.1 185.7L317.9 184.2L319.1 183.5L320.7 182.6L323.2 181L323.4 180.8L326.2 179L326.9 178.5L329 177.1L330.4 176L331.7 175L333.6 173.5L334.5 172.7L336.6 171L337.3 170.4L339.3 168.5L340.1 167.8L341.9 166L342.8 165L344.3 163.5L345.6 162.1L346.5 161L348.4 158.8L348.6 158.5L350.6 156L351.1 155.3L352.5 153.5L353.9 151.5L354.2 151L355.9 148.5L356.7 147.2L357.4 146L358.9 143.5L359.4 142.5L360.3 141L361.6 138.5L362.2 137.3L362.8 136L364 133.5L365 131.3L365.1 131L366.2 128.5L367.2 126L367.8 124.5L368.1 123.5L369 121L369.9 118.5L370.5 116.6L370.7 116L371.5 113.5L372.2 111L372.9 108.5L373.3 107L373.5 106L374.2 103.5L374.7 101L375.3 98.5L375.8 96L376.1 94.9L376.3 93.5L376.8 91L377.2 88.5L377.7 86L378.1 83.5L378.4 81L378.8 78.5L378.8 78.3L379.1 76L379.4 73.5L379.7 71L380 68.5L380.2 66L380.5 63.5L380.7 61L380.9 58.5L381.1 56L381.3 53.5L381.4 51" fill="none" stroke="#000" stroke-width="1.05"/>
<path d="M262.5 234.8L265.3 234.7L268 234.6L270.8 234.5L273.6 234.4L276.3 234.2L279.1 234.1L281.9 233.9L284.7 233.7L287 233.5L287.4 233.5L290.2 233.2L293 233L295.7 232.7L298.5 232.4L301.3 232.1L304 231.7L306.8 231.3L308.9 231L309.6 230.9L312.4 230.5L315.1 230L317.9 229.5L320.7 228.9L322.5 228.5L323.4 228.3L326.2 227.7L329 227L331.7 226.3L332.7 226L334.5 225.5L337.3 224.7L340.1 223.8L340.8 223.5L342.8 222.8L345.6 221.8L347.6 221L348.4 220.7L351.1 219.5L353.3 218.5L353.9 218.2L356.7 216.9L358.3 216L359.4 215.4L362.2 213.8L362.7 213.5L365 212.1L366.6 211L367.8 210.2L370.1 208.5L370.5 208.1L373.2 206L373.3 205.9L376 203.5L376.1 203.5L378.7 201L378.8 200.8L381 198.5L381.6 197.9L383.2 196L384.4 194.6L385.2 193.5L387.1 191L387.1 190.9L388.8 188.5L389.9 186.8L390.4 186L391.9 183.5L392.7 182.1L393.3 181L394.5 178.5L395.4 176.6L395.7 176L396.8 173.5L397.8 171L398.2 170L398.8 168.5L399.7 166L400.6 163.5L401 162.1L401.3 161L402.1 158.5L402.8 156L403.4 153.5L403.8 151.9L404 151L404.5 148.5L405 146L405.5 143.5L406 141L406.4 138.5L406.5 137.4L406.7 136L407.1 133.5L407.4 131L407.7 128.5L408 126L408.3 123.5L408.5 121L408.7 118.5L408.9 116L409 113.5L409.2 111L409.3 108.5L409.3 108.5L409.4 106L409.5 103.5L409.6 101L409.7 98.5L409.7 96L409.7 93.5L409.8 91L409.8 88.5L409.8 86L409.7 83.5L409.7 81L409.7 78.5L409.6 76L409.6 73.5L409.5 71L409.4 68.5L409.3 66L409.3 65.6L409.2 63.5L409.1 61L409 58.5L408.9 56L408.7 53.5L408.6 51" fill="none" stroke="#000" stroke-width="1.05"/>
<path d="M262.5 265.3L265.3 265.7L267.8 266L268 266L270.8 266.3L273.6 266.6L276.3 266.9L279.1 267.2L281.9 267.5L284.7 267.8L287.4 268.1L290.2 268.4L291.2 268.5L293 268.7L295.7 268.9L298.5 269.1L301.3 269.4L304 269.6L306.8 269.9L309.6 270.1L312.4 270.4L315.1 270.7L317.9 270.9L319 271L320.7 271.1L323.4 271.3L326.2 271.5L329 271.6L331.7 271.8L334.5 272L337.3 272.1L340.1 272.3L342.8 272.4L345.6 272.6L348.4 272.7L351.1 272.8L353.9 272.9L356.7 272.9L359.4 273L362.2 273L365 273L367.8 273L370.5 273L373.3 272.9L376.1 272.9L378.8 272.7L381.6 272.6L384.4 272.4L387.1 272.2L389.9 272L392.7 271.7L395.4 271.4L398.2 271.1L398.6 271L401 270.6L403.8 270L406.5 269.5L409.3 268.8L410.7 268.5L412.1 268.1L414.8 267.2L417.6 266.3L418.4 266L420.4 265.1L423.1 263.9L424 263.5L425.9 262.4L428.4 261L428.7 260.8L431.5 258.8L431.9 258.5L434.2 256.5L434.8 256L437 253.8L437.3 253.5L439.3 251L439.8 250.4L441 248.5L442.5 246.2L442.7 246L443.9 243.5L445.2 241L445.3 240.8L446.1 238.5L447 236L447.9 233.5L448.1 233L448.6 231L449.1 228.5L449.7 226L450.2 223.5L450.6 221L450.8 219.5L451 218.5L451.2 216L451.5 213.5L451.7 211L451.8 208.5L451.9 206L452 203.5L452.1 201L452.2 198.5L452.2 196L452.2 193.5L452.2 191L452.1 188.5L452 186L452 183.5L451.9 181L451.7 178.5L451.6 176L451.5 173.5L451.3 171L451.2 168.5L451 166L450.8 163.6L450.8 163.5L450.6 161L450.3 158.5L450.1 156L449.8 153.5L449.6 151L449.3 148.5L449.1 146L448.8 143.5L448.6 141L448.3 138.5L448.1 136.3L448 136L447.7 133.5L447.4 131L447 128.5L446.7 126L446.4 123.5L446.1 121L445.8 118.5L445.5 116L445.3 114.6L445.1 113.5L444.8 111L444.4 108.5L444 106L443.7 103.5L443.3 101L443 98.5L442.7 96L442.5 95.2L442.3 93.5L441.8 91L441.4 88.5L441.1 86L440.7 83.5L440.3 81L440 78.5L439.8 77L439.6 76L439.2 73.5L438.7 71L438.3 68.5L437.9 66L437.5 63.5L437.2 61L437 59.8L436.8 58.5L436.3 56L435.9 53.5L435.5 51M647.5 359.4L644.7 359.4L642 359.3L639.2 359.3L636.4 359.3L633.7 359.3L630.9 359.3L628.1 359.3L625.3 359.4L622.6 359.5L619.8 359.6L617 359.8L614.3 360L611.5 360.2L608.7 360.5L606 360.8L604 361L603.2 361.1L600.4 361.6L597.6 362.1L594.9 362.7L592.1 363.2L591 363.5L589.3 364L586.6 364.8L583.8 365.7L583 366L581 366.8L578.3 368L577.2 368.5L575.5 369.4L572.7 371L572.7 371L569.9 372.9L569.2 373.5L567.2 375.1L566.2 376L564.4 377.8L563.7 378.5L561.6 380.9L561.5 381L559.8 383.5L558.9 384.9L558.2 386L556.9 388.5L556.1 390L555.6 391L554.7 393.5L553.7 396L553.3 397L552.9 398.5" fill="none" stroke="#000" stroke-width="1.05"/>
<path d="M262.5 278L265.3 278.4L265.6 278.5L268 279L270.8 279.5L273.6 280L276.3 280.4L279.1 280.8L280.3 281L281.9 281.3L284.7 281.8L287.4 282.3L290.2 282.8L293 283.2L295 283.5L295.7 283.6L298.5 284.2L301.3 284.7L304 285.1L306.8 285.6L309.6 286L309.7 286L312.4 286.5L315.1 287L317.9 287.5L320.7 288L323.4 288.4L324.1 288.5L326.2 288.9L329 289.4L331.7 289.9L334.5 290.4L337.3 290.8L338.5 291L340.1 291.3L342.8 291.8L345.6 292.3L348.4 292.8L351.1 293.2L352.8 293.5L353.9 293.7L356.7 294.3L359.4 294.8L362.2 295.2L365 295.7L366.9 296L367.8 296.2L370.5 296.7L373.3 297.2L376.1 297.7L378.8 298.2L380.8 298.5L381.6 298.7L384.4 299.2L387.1 299.8L389.9 300.3L392.7 300.7L394.3 301L395.4 301.2L398.2 301.8L401 302.3L403.8 302.8L406.5 303.3L407.5 303.5L409.3 303.9L412.1 304.5L414.8 305L417.6 305.5L420.3 306L420.4 306L423.1 306.7L425.9 307.3L428.7 307.8L431.5 308.4L432.2 308.5L434.2 309L437 309.7L439.8 310.3L442.5 310.8L443.2 311L445.3 311.5L448.1 312.3L450.8 312.9L453.2 313.5L453.6 313.6L456.4 314.5L459.2 315.3L461.9 316L461.9 316L464.7 317L467.5 318L469 318.5L470.2 319L473 320.2L474.9 321L475.8 321.4L478.5 322.9L479.6 323.5L481.3 324.6L483.4 326L484.1 326.5L486.5 328.5L486.9 328.8L489.1 331L489.6 331.6L491.1 333.5L492.4 335.1L493 336L494.6 338.5L495.2 339.4L496 341L497.3 343.5L497.9 344.7L498.5 346L499.5 348.5L500.6 351L500.7 351.2L501.5 353.5L502.4 356L503.3 358.5L503.5 358.9L504.1 361L504.8 363.5L505.6 366L506.2 367.9L506.4 368.5L507.1 371L507.7 373.5L508.5 376L509 377.8L509.2 378.5L509.8 381L510.4 383.5L511.1 386L511.8 388.4L511.8 388.5L512.4 391L512.9 393.5L513.6 396L514.2 398.5M647.5 338.7L646.3 338.5L644.7 338.2L642 337.6L639.2 337.1L636.4 336.7L633.7 336.2L632.3 336L630.9 335.7L628.1 335.2L625.3 334.7L622.6 334.2L619.8 333.7L618.4 333.5L617 333.2L614.3 332.7L611.5 332.1L608.7 331.6L606 331.2L604.9 331L603.2 330.7L600.4 330.1L597.6 329.5L594.9 329L592.1 328.6L591.7 328.5L589.3 328L586.6 327.4L583.8 326.9L581 326.3L579.1 326L578.3 325.8L575.5 325.2L572.7 324.6L569.9 324L567.2 323.5L567.2 323.5L564.4 322.8L561.6 322.2L558.9 321.5L556.2 321L556.1 321L553.3 320.2L550.6 319.5L547.8 318.8L546.5 318.5L545 318.1L542.2 317.2L539.5 316.4L538.1 316L536.7 315.5L533.9 314.5L531.2 313.6L530.9 313.5L528.4 312.4L525.6 311.2L525.2 311L522.9 309.7L520.6 308.5L520.1 308.2L517.3 306.3L516.9 306L514.6 304.1L513.9 303.5L511.8 301.5L511.4 301L509.2 298.5L509 298.2L507.5 296L506.2 294.1L505.9 293.5L504.5 291L503.5 289.1L503.2 288.5L502.1 286L501 283.5L500.7 282.9L500 281L499.1 278.5L498.1 276L497.9 275.5L497.3 273.5L496.5 271L495.7 268.5L495.2 266.8L494.9 266L494.3 263.5L493.5 261L492.8 258.5L492.4 257.2L492.1 256L491.5 253.5L490.8 251L490.1 248.5L489.6 246.7L489.5 246L488.9 243.5L488.3 241L487.6 238.5L487 236L486.9 235.6L486.4 233.5L485.9 231L485.3 228.5L484.6 226L484.1 224L484 223.5L483.5 221L482.9 218.5L482.3 216L481.7 213.5L481.3 211.9L481.1 211L480.6 208.5L480.1 206L479.5 203.5L478.9 201L478.5 199.6L478.3 198.5L477.8 196L477.3 193.5L476.7 191L476.1 188.5L475.8 187.1L475.5 186L475.1 183.5L474.5 181L474 178.5L473.4 176L473 174.5L472.8 173.5L472.3 171L471.8 168.5L471.3 166L470.7 163.5L470.2 161.7L470.1 161L469.6 158.5L469.1 156L468.6 153.5L468 151L467.5 148.9L467.4 148.5L466.9 146L466.4 143.5L465.9 141L465.3 138.5L464.7 136L464.7 136L464.2 133.5L463.8 131L463.2 128.5L462.7 126L462.1 123.5L461.9 122.8L461.6 121L461.1 118.5L460.6 116L460 113.5L459.4 111L459.2 109.7L458.9 108.5L458.4 106L457.9 103.5L457.4 101L456.8 98.5L456.4 96.6L456.3 96L455.8 93.5L455.3 91L454.8 88.5L454.2 86L453.6 83.5L453.6 83.5L453.2 81L452.7 78.5L452.2 76L451.6 73.5L451 71L450.8 70.2L450.5 68.5L450.1 66L449.5 63.5L449 61L448.4 58.5L448.1 57L447.9 56L447.4 53.5L446.9 51" fill="none" stroke="#000" stroke-width="1.05"/>
<path d="M647.5 293.4L644.7 292.2L642.3 291L642 290.9L639.2 289.6L637 288.5L636.4 288.2L633.7 286.9L631.9 286L630.9 285.5L628.1 284.1L627 283.5L625.3 282.6L622.6 281.1L622.3 281L619.8 279.6L617.8 278.5L617 278.1L614.3 276.4L613.5 276L611.5 274.8L609.4 273.5L608.7 273.1L606 271.4L605.4 271L603.2 269.6L601.5 268.5L600.4 267.8L597.9 266L597.6 265.8L594.9 263.9L594.3 263.5L592.1 261.9L590.9 261L589.3 259.8L587.6 258.5L586.6 257.7L584.4 256L583.8 255.5L581.4 253.5L581 253.2L578.5 251L578.3 250.8L575.6 248.5L575.5 248.4L572.9 246L572.7 245.8L570.2 243.5L569.9 243.2L567.7 241L567.2 240.5L565.2 238.5L564.4 237.7L562.8 236L561.6 234.8L560.5 233.5L558.9 231.7L558.2 231L556.1 228.5L556.1 228.5L553.9 226L553.3 225.3L551.9 223.5L550.6 221.8L549.9 221L548 218.5L547.8 218.3L546 216L545 214.6L544.2 213.5L542.4 211L542.2 210.7L540.7 208.5L539.5 206.7L539 206L537.3 203.5L536.7 202.6L535.7 201L534.1 198.5L533.9 198.2L532.5 196L531.2 193.7L531.1 193.5L529.5 191L528.4 189L528.1 188.5L526.7 186L525.6 184.1L525.3 183.5L523.9 181L522.9 179L522.6 178.5L521.2 176L520.1 173.7L520 173.5L518.7 171L517.5 168.5L517.3 168.2L516.2 166L515 163.5L514.6 162.5L513.8 161L512.6 158.5L511.8 156.6L511.5 156L510.4 153.5L509.3 151L509 150.4L508.1 148.5L507.1 146L506.2 144.1L506 143.5L504.9 141L503.9 138.5L503.5 137.5L502.9 136L501.8 133.5L500.9 131L500.7 130.6L499.8 128.5L498.8 126L497.9 123.6L497.9 123.5L496.9 121L496 118.5L495.2 116.3L495.1 116L494.1 113.5L493.2 111L492.4 108.8L492.3 108.5L491.4 106L490.5 103.5L489.6 101L489.6 101L488.7 98.5L487.8 96L487 93.5L486.9 93.1L486.1 91L485.3 88.5L484.4 86L484.1 84.9L483.6 83.5L482.7 81L481.9 78.5L481.3 76.6L481.1 76L480.3 73.5L479.5 71L478.7 68.5L478.5 68L477.9 66L477.1 63.5L476.3 61L475.8 59.2L475.6 58.5L474.8 56L474 53.5L473.3 51M262.5 307.2L265.3 308L267.1 308.5L268 308.8L270.8 309.6L273.6 310.4L275.6 311L276.3 311.2L279.1 312L281.9 312.9L283.8 313.5L284.7 313.8L287.4 314.6L290.2 315.5L291.8 316L293 316.4L295.7 317.2L298.5 318.2L299.6 318.5L301.3 319.1L304 320L306.8 320.9L307 321L309.6 321.9L312.4 322.8L314.2 323.5L315.1 323.8L317.9 324.8L320.7 325.8L321.2 326L323.4 326.8L326.2 327.9L327.9 328.5L329 328.9L331.7 330L334.3 331L334.5 331.1L337.3 332.1L340.1 333.3L340.6 333.5L342.8 334.4L345.6 335.6L346.6 336L348.4 336.8L351.1 338L352.3 338.5L353.9 339.2L356.7 340.5L357.8 341L359.4 341.7L362.2 343.1L363.1 343.5L365 344.4L367.8 345.8L368.2 346L370.5 347.1L373.1 348.5L373.3 348.6L376.1 350L377.9 351L378.8 351.5L381.6 353.1L382.4 353.5L384.4 354.6L386.7 356L387.1 356.3L389.9 357.9L390.9 358.5L392.7 359.6L394.9 361L395.4 361.4L398.2 363.2L398.7 363.5L401 365L402.4 366L403.8 366.9L406 368.5L406.5 368.9L409.3 370.9L409.4 371L412.1 373L412.7 373.5L414.8 375.1L415.9 376L417.6 377.4L419 378.5L420.4 379.7L421.9 381L423.1 382.1L424.8 383.5L425.9 384.5L427.5 386L428.7 387.1L430.2 388.5L431.5 389.7L432.7 391L434.2 392.5L435.2 393.5L437 395.4L437.6 396L439.8 398.3L439.9 398.5" fill="none" stroke="#000" stroke-width="1.05"/>
<path d="M647.5 202.3L646 201L644.7 200L643 198.5L642 197.6L640.2 196L639.2 195.2L637.3 193.5L636.4 192.7L634.6 191L633.7 190.2L631.9 188.5L630.9 187.6L629.2 186L628.1 185L626.6 183.5L625.3 182.3L624 181L622.6 179.6L621.5 178.5L619.8 176.8L619 176L617 173.9L616.6 173.5L614.3 171L614.2 171L611.9 168.5L611.5 168.1L609.6 166L608.7 165.1L607.3 163.5L606 162L605.1 161L603.2 158.8L602.9 158.5L600.7 156L600.4 155.6L598.6 153.5L597.6 152.3L596.5 151L594.9 149L594.5 148.5L592.5 146L592.1 145.5L590.5 143.5L589.3 142L588.5 141L586.6 138.5L586.6 138.4L584.7 136L583.8 134.8L582.8 133.5L581 131L581 131L579.2 128.5L578.3 127.2L577.4 126L575.6 123.5L575.5 123.3L573.9 121L572.7 119.3L572.2 118.5L570.5 116L569.9 115.2L568.8 113.5L567.2 111L567.2 111L565.5 108.5L564.4 106.7L563.9 106L562.3 103.5L561.6 102.4L560.8 101L559.2 98.5L558.9 97.9L557.7 96L556.2 93.5L556.1 93.3L554.7 91L553.3 88.7L553.2 88.5L551.8 86L550.6 83.9L550.3 83.5L548.9 81L547.8 79L547.5 78.5L546.1 76L545 74L544.7 73.5L543.4 71L542.2 68.9L542 68.5L540.7 66L539.5 63.7L539.4 63.5L538 61L536.8 58.5L536.7 58.4L535.5 56L534.2 53.5L533.9 53L532.9 51M262.5 371.4L265.3 372.8L266.5 373.5L268 374.3L270.8 375.7L271.3 376L273.6 377.2L276 378.5L276.3 378.7L279.1 380.2L280.6 381L281.9 381.7L284.7 383.2L285.1 383.5L287.4 384.8L289.5 386L290.2 386.4L293 388L293.8 388.5L295.7 389.6L298.1 391L298.5 391.3L301.3 393L302.2 393.5L304 394.7L306.2 396L306.8 396.4L309.6 398.1L310.1 398.5" fill="none" stroke="#000" stroke-width="1.05"/>
<path d="M647.5 126.3L647.2 126L644.9 123.5L644.7 123.4L642.6 121L642 120.3L640.3 118.5L639.2 117.3L638 116L636.4 114.2L635.8 113.5L633.7 111L633.7 111L631.5 108.5L630.9 107.8L629.4 106L628.1 104.5L627.3 103.5L625.3 101.2L625.2 101L623.1 98.5L622.6 97.8L621.1 96L619.8 94.4L619.1 93.5L617.1 91L617 90.9L615.2 88.5L614.3 87.3L613.3 86L611.5 83.7L611.3 83.5L609.5 81L608.7 80L607.6 78.5L606 76.3L605.8 76L603.9 73.5L603.2 72.5L602.1 71L600.4 68.6L600.3 68.5L598.6 66L597.6 64.7L596.8 63.5L595.1 61L594.9 60.7L593.4 58.5L592.1 56.6L591.7 56L590 53.5L589.3 52.5L588.4 51" fill="none" stroke="#000" stroke-width="1.05"/>
</g>
<g transform="translate(0 0.000) scale(1 1.00000)">
<text x="0.00" y="38.90" font-family="Liberation Sans" font-size="10.10" fill="#000" textLength="126.60" lengthAdjust="spacing">Design-Expert® Software</text>
<text x="0.00" y="50.40" font-family="Liberation Sans" font-size="10.10" fill="#000" textLength="109.50" lengthAdjust="spacing">Factor Coding: Actual</text>
<text x="0.00" y="62.00" font-family="Liberation Sans" font-size="10.10" fill="#000" textLength="74.80" lengthAdjust="spacing">In recovery (%)</text>
<rect x="3.5" y="66.5" width="6.5" height="30" fill="url(#gbar)" stroke="#111" stroke-width="1"/>
<text x="13.20" y="74.30" font-family="Liberation Sans" font-size="10.10" fill="#ff0000" textLength="18.30" lengthAdjust="spacing">100</text>
<text x="13.50" y="97.60" font-family="Liberation Sans" font-size="10.10" fill="#0000ff" textLength="12.30" lengthAdjust="spacing">14</text>
<text x="0.00" y="121.20" font-family="Liberation Sans" font-size="10.10" fill="#000" textLength="48.40" lengthAdjust="spacing">X1 = B: S</text>
<text x="0.00" y="132.70" font-family="Liberation Sans" font-size="10.10" fill="#000" textLength="102.80" lengthAdjust="spacing">X2 = C: Pulp density</text>
<text x="0.00" y="156.50" font-family="Liberation Sans" font-size="10.10" fill="#000" textLength="73.30" lengthAdjust="spacing">Actual Factors</text>
<text x="0.00" y="168.00" font-family="Liberation Sans" font-size="10.10" fill="#000" textLength="127.90" lengthAdjust="spacing">A: FeSO4.7H2O  = 13.05</text>
<text x="0.00" y="179.30" font-family="Liberation Sans" font-size="10.10" fill="#000" textLength="93.90" lengthAdjust="spacing">D: Initial pH = 2.95</text>
<text transform="translate(454.40 49.80) scale(1.0850 1)" font-family="Liberation Serif" font-size="19.40" text-anchor="middle" fill="#000">In recovery (%)</text>
<rect x="268.5" y="57.0" width="373.0" height="335.5" fill="none" stroke="#222" stroke-width="1"/>
<line x1="268.50" y1="392.5" x2="268.50" y2="402.0" stroke="#222" stroke-width="1"/>
<text transform="translate(268.50 419.20) scale(1.0500 1)" font-family="Liberation Serif" font-size="16.40" text-anchor="middle" fill="#000">0.0</text>
<line x1="343.10" y1="392.5" x2="343.10" y2="402.0" stroke="#222" stroke-width="1"/>
<text transform="translate(343.10 419.20) scale(1.0500 1)" font-family="Liberation Serif" font-size="16.40" text-anchor="middle" fill="#000">2.0</text>
<line x1="417.70" y1="392.5" x2="417.70" y2="402.0" stroke="#222" stroke-width="1"/>
<text transform="translate(417.70 419.20) scale(1.0500 1)" font-family="Liberation Serif" font-size="16.40" text-anchor="middle" fill="#000">4.0</text>
<line x1="492.30" y1="392.5" x2="492.30" y2="402.0" stroke="#222" stroke-width="1"/>
<text transform="translate(492.30 419.20) scale(1.0500 1)" font-family="Liberation Serif" font-size="16.40" text-anchor="middle" fill="#000">6.0</text>
<line x1="566.90" y1="392.5" x2="566.90" y2="402.0" stroke="#222" stroke-width="1"/>
<text transform="translate(566.90 419.20) scale(1.0500 1)" font-family="Liberation Serif" font-size="16.40" text-anchor="middle" fill="#000">8.0</text>
<line x1="641.50" y1="392.5" x2="641.50" y2="402.0" stroke="#222" stroke-width="1"/>
<text transform="translate(641.50 419.20) scale(1.0500 1)" font-family="Liberation Serif" font-size="16.40" text-anchor="middle" fill="#000">10.0</text>
<line x1="258.5" y1="392.50" x2="268.5" y2="392.50" stroke="#222" stroke-width="1"/>
<text transform="translate(254.30 397.60) scale(1.0500 1)" font-family="Liberation Serif" font-size="16.40" text-anchor="end" fill="#000">1.0</text>
<line x1="258.5" y1="308.62" x2="268.5" y2="308.62" stroke="#222" stroke-width="1"/>
<text transform="translate(254.30 313.73) scale(1.0500 1)" font-family="Liberation Serif" font-size="16.40" text-anchor="end" fill="#000">7.0</text>
<line x1="258.5" y1="224.75" x2="268.5" y2="224.75" stroke="#222" stroke-width="1"/>
<text transform="translate(254.30 229.85) scale(1.0500 1)" font-family="Liberation Serif" font-size="16.40" text-anchor="end" fill="#000">13.0</text>
<line x1="258.5" y1="140.88" x2="268.5" y2="140.88" stroke="#222" stroke-width="1"/>
<text transform="translate(254.30 145.97) scale(1.0500 1)" font-family="Liberation Serif" font-size="16.40" text-anchor="end" fill="#000">19.0</text>
<line x1="258.5" y1="57.00" x2="268.5" y2="57.00" stroke="#222" stroke-width="1"/>
<text transform="translate(254.30 62.10) scale(1.0500 1)" font-family="Liberation Serif" font-size="16.40" text-anchor="end" fill="#000">25.0</text>
<text transform="translate(453.30 465.90) scale(1.0800 1)" font-family="Liberation Serif" font-size="20.50" text-anchor="middle" fill="#000">B: S (g/L)</text>
<text transform="translate(210.6 224) scale(1.13 1) rotate(-90)" font-family="Liberation Serif" font-size="20.3" text-anchor="middle">C: Pulp density (g/L)</text>
</g>
<rect x="304.20" y="94.10" width="16.60" height="13.50" fill="#fff" stroke="#1a1a1a" stroke-width="1"/>
<text x="307.10" y="105.85" font-family="Liberation Serif" font-size="13.5" textLength="12.7" lengthAdjust="spacingAndGlyphs" stroke="#000" stroke-width="0.35">60</text>
<rect x="343.70" y="139.85" width="16.60" height="13.50" fill="#fff" stroke="#1a1a1a" stroke-width="1"/>
<text x="346.60" y="151.60" font-family="Liberation Serif" font-size="13.5" textLength="12.7" lengthAdjust="spacingAndGlyphs" stroke="#000" stroke-width="0.35">66</text>
<rect x="380.20" y="175.35" width="16.60" height="13.50" fill="#fff" stroke="#1a1a1a" stroke-width="1"/>
<text x="383.10" y="187.10" font-family="Liberation Serif" font-size="13.5" textLength="12.7" lengthAdjust="spacingAndGlyphs" stroke="#000" stroke-width="0.35">70</text>
<rect x="437.10" y="227.55" width="16.60" height="13.50" fill="#fff" stroke="#1a1a1a" stroke-width="1"/>
<text x="440.00" y="239.30" font-family="Liberation Serif" font-size="13.5" textLength="12.7" lengthAdjust="spacingAndGlyphs" stroke="#000" stroke-width="0.35">74</text>
<rect x="480.90" y="234.00" width="16.60" height="13.50" fill="#fff" stroke="#1a1a1a" stroke-width="1"/>
<text x="483.80" y="245.75" font-family="Liberation Serif" font-size="13.5" textLength="12.7" lengthAdjust="spacingAndGlyphs" stroke="#000" stroke-width="0.35">76</text>
<rect x="523.95" y="183.80" width="16.60" height="13.50" fill="#fff" stroke="#1a1a1a" stroke-width="1"/>
<text x="526.85" y="195.55" font-family="Liberation Serif" font-size="13.5" textLength="12.7" lengthAdjust="spacingAndGlyphs" stroke="#000" stroke-width="0.35">80</text>
<rect x="572.10" y="118.85" width="16.60" height="13.50" fill="#fff" stroke="#1a1a1a" stroke-width="1"/>
<text x="575.00" y="130.60" font-family="Liberation Serif" font-size="13.5" textLength="12.7" lengthAdjust="spacingAndGlyphs" stroke="#000" stroke-width="0.35">90</text>
<rect x="603.80" y="76.85" width="23.00" height="13.50" fill="#fff" stroke="#1a1a1a" stroke-width="1"/>
<text x="607.40" y="88.60" font-family="Liberation Serif" font-size="13.5" textLength="18.4" lengthAdjust="spacingAndGlyphs" stroke="#000" stroke-width="0.35">100</text>
<rect x="411.90" y="292.55" width="16.60" height="13.50" fill="#fff" stroke="#1a1a1a" stroke-width="1"/>
<text x="414.80" y="304.30" font-family="Liberation Serif" font-size="13.5" textLength="12.7" lengthAdjust="spacingAndGlyphs" stroke="#000" stroke-width="0.35">76</text>
<rect x="350.60" y="327.60" width="16.60" height="13.50" fill="#fff" stroke="#1a1a1a" stroke-width="1"/>
<text x="353.50" y="339.35" font-family="Liberation Serif" font-size="13.5" textLength="12.7" lengthAdjust="spacingAndGlyphs" stroke="#000" stroke-width="0.35">80</text>
<rect x="579.20" y="351.15" width="16.60" height="13.50" fill="#fff" stroke="#1a1a1a" stroke-width="1"/>
<text x="582.10" y="362.90" font-family="Liberation Serif" font-size="13.5" textLength="12.7" lengthAdjust="spacingAndGlyphs" stroke="#000" stroke-width="0.35">74</text>
<rect x="274.20" y="367.90" width="16.60" height="13.50" fill="#fff" stroke="#1a1a1a" stroke-width="1"/>
<text x="277.10" y="379.65" font-family="Liberation Serif" font-size="13.5" textLength="12.7" lengthAdjust="spacingAndGlyphs" stroke="#000" stroke-width="0.35">90</text>
<clipPath id="clipb"><rect x="268.5" y="573.4" width="373.0" height="341.20000000000005"/></clipPath>
<g clip-path="url(#clipb)">
<path d="M448.1 569.8L450.8 569.7L453.6 569.5L456.4 569.3L459.2 569.2L461.9 569L464.7 568.8L467.5 568.6L470.2 568.5L473 568.3L475.8 568.1L478.5 567.9L481.3 567.7L484.1 567.5L485 567.4L486.9 567.4L489.6 567.4L492.4 567.4L495.2 567.4L497.9 567.4L500.7 567.4L503.5 567.4L506.2 567.4L509 567.4L511.8 567.4L514.6 567.4L517.3 567.4L520.1 567.4L522.9 567.4L525.6 567.4L528.4 567.4L531.2 567.4L533.9 567.4L536.7 567.4L539.5 567.4L542.2 567.4L545 567.4L547.8 567.4L550.6 567.4L553.3 567.4L556.1 567.4L558.9 567.4L561.6 567.4L564.4 567.4L567.2 567.4L569.9 567.4L572.7 567.4L575.5 567.4L578.3 567.4L581 567.4L583.8 567.4L586.6 567.4L589.3 567.4L592.1 567.4L594.9 567.4L597.6 567.4L600.4 567.4L603.2 567.4L606 567.4L608.7 567.4L611.5 567.4L614.3 567.4L617 567.4L619.8 567.4L622.6 567.4L625.3 567.4L628.1 567.4L630.9 567.4L633.7 567.4L636.4 567.4L639.2 567.4L642 567.4L644.7 567.4L647.5 567.4L647.5 569.9L647.5 572.5L647.5 575L647.5 577.6L647.5 578.3L644.7 578.8L642 579.2L639.2 579.7L636.9 580.1L636.4 580.2L633.7 580.6L630.9 581.1L628.1 581.5L625.3 582L622.6 582.4L621.3 582.6L619.8 582.9L617 583.3L614.3 583.7L611.5 584.1L608.7 584.6L606 585L604.5 585.2L603.2 585.4L600.4 585.8L597.6 586.2L594.9 586.6L592.1 586.9L589.3 587.3L586.6 587.7L586.4 587.7L583.8 588.1L581 588.4L578.3 588.8L575.5 589.1L572.7 589.5L569.9 589.8L567.2 590.2L566.2 590.3L564.4 590.5L561.6 590.8L558.9 591.1L556.1 591.4L553.3 591.7L550.6 592.1L547.8 592.4L545 592.6L543.5 592.8L542.2 592.9L539.5 593.2L536.7 593.5L533.9 593.8L531.2 594L528.4 594.3L525.6 594.6L522.9 594.8L520.1 595.1L517.3 595.3L516.7 595.4L514.6 595.5L511.8 595.8L509 596L506.2 596.2L503.5 596.4L500.7 596.6L497.9 596.8L495.2 597L492.4 597.2L489.6 597.4L486.9 597.6L484.1 597.8L482.9 597.9L481.3 598L478.5 598.2L475.8 598.3L473 598.5L470.2 598.6L467.5 598.8L464.7 598.9L461.9 599.1L459.2 599.2L456.4 599.4L453.6 599.5L450.8 599.6L448.1 599.7L445.3 599.8L442.5 600L439.8 600.1L437 600.2L434.2 600.3L431.5 600.4L429.1 600.4L428.7 600.4L425.9 600.5L423.1 600.6L420.4 600.7L417.6 600.7L414.8 600.8L412.1 600.9L409.3 600.9L406.5 601L403.8 601L401 601.1L398.2 601.1L395.4 601.1L392.7 601.2L389.9 601.2L387.1 601.2L384.4 601.2L381.6 601.2L378.8 601.2L376.1 601.3L373.3 601.3L370.5 601.2L367.8 601.2L365 601.2L362.2 601.2L359.4 601.2L356.7 601.2L353.9 601.1L351.1 601.1L348.4 601.1L345.6 601L342.8 601L340.1 600.9L337.3 600.9L334.5 600.8L331.7 600.8L329 600.7L326.2 600.6L323.4 600.6L320.7 600.5L318.2 600.4L317.9 600.4L315.1 600.3L312.4 600.3L309.6 600.2L306.8 600.1L304 600L301.3 599.9L298.5 599.8L295.7 599.7L293 599.5L290.2 599.4L287.4 599.3L284.7 599.2L281.9 599.1L279.1 598.9L276.3 598.8L273.6 598.7L270.8 598.5L268 598.4L265.3 598.2L262.5 598.1L262.5 597.9L262.5 595.4L262.5 592.8L262.5 590.3L262.5 587.7L262.5 585.2L262.5 582.6L262.5 580.1L262.5 577.6L262.5 575L262.5 572.5L262.5 571.2L265.3 571.3L268 571.4L270.8 571.5L273.6 571.6L276.3 571.7L279.1 571.7L281.9 571.8L284.7 571.9L287.4 572L290.2 572L293 572.1L295.7 572.2L298.5 572.2L301.3 572.3L304 572.3L306.8 572.4L309.6 572.4L312.4 572.4L314.8 572.5L315.1 572.5L317.9 572.5L320.7 572.5L323.4 572.6L326.2 572.6L329 572.6L331.7 572.6L334.5 572.6L337.3 572.7L340.1 572.7L342.8 572.7L345.6 572.7L348.4 572.6L351.1 572.6L353.9 572.6L356.7 572.6L359.4 572.6L362.2 572.6L365 572.5L367.8 572.5L368.6 572.5L370.5 572.5L373.3 572.4L376.1 572.4L378.8 572.3L381.6 572.3L384.4 572.2L387.1 572.2L389.9 572.1L392.7 572L395.4 572L398.2 571.9L401 571.8L403.8 571.7L406.5 571.6L409.3 571.5L412.1 571.4L414.8 571.3L417.6 571.2L420.4 571.1L423.1 571L425.9 570.9L428.7 570.8L431.5 570.7L434.2 570.5L437 570.4L439.8 570.3L442.5 570.1L445.3 570L445.7 569.9Z" fill="#00f3c0"/>
<path d="M639.2 579.7L642 579.2L644.7 578.8L647.5 578.3L647.5 580.1L647.5 582.6L647.5 585.2L647.5 587.7L647.5 590.3L647.5 592.8L647.5 595.4L647.5 597.9L647.5 600.4L647.5 603L647.5 605.5L647.5 608.1L647.5 610.6L647.5 611.8L644.7 612.3L642 612.8L639.8 613.1L639.2 613.2L636.4 613.7L633.7 614.2L630.9 614.7L628.1 615.1L625.3 615.5L624.5 615.7L622.6 616L619.8 616.4L617 616.9L614.3 617.3L611.5 617.7L608.7 618.1L607.9 618.2L606 618.5L603.2 618.9L600.4 619.3L597.6 619.7L594.9 620.1L592.1 620.4L589.7 620.8L589.3 620.8L586.6 621.2L583.8 621.5L581 621.9L578.3 622.2L575.5 622.6L572.7 622.9L569.9 623.2L569.1 623.3L567.2 623.5L564.4 623.8L561.6 624.2L558.9 624.5L556.1 624.7L553.3 625L550.6 625.3L547.8 625.6L545.1 625.8L545 625.9L542.2 626.1L539.5 626.4L536.7 626.6L533.9 626.9L531.2 627.1L528.4 627.4L525.6 627.6L522.9 627.8L520.1 628L517.3 628.2L515.1 628.4L514.6 628.4L511.8 628.6L509 628.8L506.2 629L503.5 629.2L500.7 629.4L497.9 629.5L495.2 629.7L492.4 629.9L489.6 630L486.9 630.2L484.1 630.3L481.3 630.4L478.5 630.6L475.8 630.7L473 630.8L470.4 630.9L470.2 630.9L467.5 631L464.7 631.1L461.9 631.2L459.2 631.3L456.4 631.4L453.6 631.5L450.8 631.6L448.1 631.7L445.3 631.7L442.5 631.8L439.8 631.9L437 631.9L434.2 631.9L431.5 632L428.7 632L425.9 632.1L423.1 632.1L420.4 632.1L417.6 632.1L414.8 632.1L412.1 632.1L409.3 632.1L406.5 632.1L403.8 632.1L401 632.1L398.2 632.1L395.4 632.1L392.7 632L389.9 632L387.1 632L384.4 631.9L381.6 631.9L378.8 631.8L376.1 631.8L373.3 631.7L370.5 631.7L367.8 631.6L365 631.5L362.2 631.4L359.4 631.4L356.7 631.3L353.9 631.2L351.1 631.1L348.4 631L346.7 630.9L345.6 630.9L342.8 630.8L340.1 630.7L337.3 630.6L334.5 630.4L331.7 630.3L329 630.2L326.2 630.1L323.4 629.9L320.7 629.8L317.9 629.6L315.1 629.5L312.4 629.4L309.6 629.2L306.8 629L304 628.9L301.3 628.7L298.5 628.5L296.1 628.4L295.7 628.4L293 628.2L290.2 628L287.4 627.8L284.7 627.6L281.9 627.5L279.1 627.3L276.3 627.1L273.6 626.9L270.8 626.7L268 626.4L265.3 626.2L262.5 626L262.5 625.8L262.5 623.3L262.5 620.8L262.5 618.2L262.5 615.7L262.5 613.1L262.5 610.6L262.5 608.1L262.5 605.5L262.5 603L262.5 600.4L262.5 598.1L265.3 598.2L268 598.4L270.8 598.5L273.6 598.7L276.3 598.8L279.1 598.9L281.9 599.1L284.7 599.2L287.4 599.3L290.2 599.4L293 599.5L295.7 599.7L298.5 599.8L301.3 599.9L304 600L306.8 600.1L309.6 600.2L312.4 600.3L315.1 600.3L317.9 600.4L318.2 600.4L320.7 600.5L323.4 600.6L326.2 600.6L329 600.7L331.7 600.8L334.5 600.8L337.3 600.9L340.1 600.9L342.8 601L345.6 601L348.4 601.1L351.1 601.1L353.9 601.1L356.7 601.2L359.4 601.2L362.2 601.2L365 601.2L367.8 601.2L370.5 601.2L373.3 601.3L376.1 601.3L378.8 601.2L381.6 601.2L384.4 601.2L387.1 601.2L389.9 601.2L392.7 601.2L395.4 601.1L398.2 601.1L401 601.1L403.8 601L406.5 601L409.3 600.9L412.1 600.9L414.8 600.8L417.6 600.7L420.4 600.7L423.1 600.6L425.9 600.5L428.7 600.4L429.1 600.4L431.5 600.4L434.2 600.3L437 600.2L439.8 600.1L442.5 600L445.3 599.8L448.1 599.7L450.8 599.6L453.6 599.5L456.4 599.4L459.2 599.2L461.9 599.1L464.7 598.9L467.5 598.8L470.2 598.6L473 598.5L475.8 598.3L478.5 598.2L481.3 598L482.9 597.9L484.1 597.8L486.9 597.6L489.6 597.4L492.4 597.2L495.2 597L497.9 596.8L500.7 596.6L503.5 596.4L506.2 596.2L509 596L511.8 595.8L514.6 595.5L516.7 595.4L517.3 595.3L520.1 595.1L522.9 594.8L525.6 594.6L528.4 594.3L531.2 594L533.9 593.8L536.7 593.5L539.5 593.2L542.2 592.9L543.5 592.8L545 592.6L547.8 592.4L550.6 592.1L553.3 591.7L556.1 591.4L558.9 591.1L561.6 590.8L564.4 590.5L566.2 590.3L567.2 590.2L569.9 589.8L572.7 589.5L575.5 589.1L578.3 588.8L581 588.4L583.8 588.1L586.4 587.7L586.6 587.7L589.3 587.3L592.1 586.9L594.9 586.6L597.6 586.2L600.4 585.8L603.2 585.4L604.5 585.2L606 585L608.7 584.6L611.5 584.1L614.3 583.7L617 583.3L619.8 582.9L621.3 582.6L622.6 582.4L625.3 582L628.1 581.5L630.9 581.1L633.7 580.6L636.4 580.2L636.9 580.1Z" fill="#00f230"/>
<path d="M642 612.8L644.7 612.3L647.5 611.8L647.5 613.1L647.5 615.7L647.5 618.2L647.5 620.8L647.5 623.3L647.5 625.8L647.5 628.4L647.5 630.9L647.5 633.5L647.5 636L647.5 638.5L647.5 641.1L647.5 643.6L647.5 646.2L647.5 648.5L646.2 648.7L644.7 649L642 649.5L639.2 650L636.4 650.5L633.7 650.9L631.6 651.3L630.9 651.4L628.1 651.9L625.3 652.3L622.6 652.8L619.8 653.2L617 653.6L615.7 653.8L614.3 654L611.5 654.5L608.7 654.9L606 655.3L603.2 655.7L600.4 656L597.9 656.3L597.6 656.4L594.9 656.8L592.1 657.1L589.3 657.5L586.6 657.8L583.8 658.2L581 658.5L578.3 658.8L577.4 658.9L575.5 659.1L572.7 659.4L569.9 659.7L567.2 660L564.4 660.3L561.6 660.6L558.9 660.9L556.1 661.1L553.3 661.3L552.5 661.4L550.6 661.6L547.8 661.9L545 662.1L542.2 662.3L539.5 662.6L536.7 662.8L533.9 663L531.2 663.2L528.4 663.4L525.6 663.5L522.9 663.7L520.1 663.9L518.1 664L517.3 664L514.6 664.2L511.8 664.3L509 664.5L506.2 664.6L503.5 664.8L500.7 664.9L497.9 665L495.2 665.1L492.4 665.2L489.6 665.3L486.9 665.4L484.1 665.5L481.3 665.6L478.5 665.6L475.8 665.7L473 665.7L470.2 665.8L467.5 665.8L464.7 665.9L461.9 665.9L459.2 665.9L456.4 666L453.6 666L450.8 666L448.1 666L445.3 666L442.5 666L439.8 665.9L437 665.9L434.2 665.9L431.5 665.9L428.7 665.8L425.9 665.8L423.1 665.7L420.4 665.7L417.6 665.6L414.8 665.6L412.1 665.5L409.3 665.4L406.5 665.3L403.8 665.3L401 665.2L398.2 665.1L395.4 665L392.7 664.8L389.9 664.7L387.1 664.6L384.4 664.5L381.6 664.3L378.8 664.2L376.1 664L374.4 664L373.3 663.9L370.5 663.8L367.8 663.6L365 663.5L362.2 663.3L359.4 663.2L356.7 663L353.9 662.8L351.1 662.7L348.4 662.5L345.6 662.3L342.8 662.1L340.1 661.9L337.3 661.7L334.5 661.4L334.3 661.4L331.7 661.2L329 661L326.2 660.8L323.4 660.6L320.7 660.4L317.9 660.2L315.1 659.9L312.4 659.7L309.6 659.4L306.8 659.2L304 658.9L303.6 658.9L301.3 658.7L298.5 658.4L295.7 658.2L293 657.9L290.2 657.7L287.4 657.4L284.7 657.1L281.9 656.8L279.1 656.5L277.2 656.3L276.3 656.2L273.6 656L270.8 655.7L268 655.4L265.3 655.1L262.5 654.8L262.5 653.8L262.5 651.3L262.5 648.7L262.5 646.2L262.5 643.6L262.5 641.1L262.5 638.5L262.5 636L262.5 633.5L262.5 630.9L262.5 628.4L262.5 626L265.3 626.2L268 626.4L270.8 626.7L273.6 626.9L276.3 627.1L279.1 627.3L281.9 627.5L284.7 627.6L287.4 627.8L290.2 628L293 628.2L295.7 628.4L296.1 628.4L298.5 628.5L301.3 628.7L304 628.9L306.8 629L309.6 629.2L312.4 629.4L315.1 629.5L317.9 629.6L320.7 629.8L323.4 629.9L326.2 630.1L329 630.2L331.7 630.3L334.5 630.4L337.3 630.6L340.1 630.7L342.8 630.8L345.6 630.9L346.7 630.9L348.4 631L351.1 631.1L353.9 631.2L356.7 631.3L359.4 631.4L362.2 631.4L365 631.5L367.8 631.6L370.5 631.7L373.3 631.7L376.1 631.8L378.8 631.8L381.6 631.9L384.4 631.9L387.1 632L389.9 632L392.7 632L395.4 632.1L398.2 632.1L401 632.1L403.8 632.1L406.5 632.1L409.3 632.1L412.1 632.1L414.8 632.1L417.6 632.1L420.4 632.1L423.1 632.1L425.9 632.1L428.7 632L431.5 632L434.2 631.9L437 631.9L439.8 631.9L442.5 631.8L445.3 631.7L448.1 631.7L450.8 631.6L453.6 631.5L456.4 631.4L459.2 631.3L461.9 631.2L464.7 631.1L467.5 631L470.2 630.9L470.4 630.9L473 630.8L475.8 630.7L478.5 630.6L481.3 630.4L484.1 630.3L486.9 630.2L489.6 630L492.4 629.9L495.2 629.7L497.9 629.5L500.7 629.4L503.5 629.2L506.2 629L509 628.8L511.8 628.6L514.6 628.4L515.1 628.4L517.3 628.2L520.1 628L522.9 627.8L525.6 627.6L528.4 627.4L531.2 627.1L533.9 626.9L536.7 626.6L539.5 626.4L542.2 626.1L545 625.9L545.1 625.8L547.8 625.6L550.6 625.3L553.3 625L556.1 624.7L558.9 624.5L561.6 624.2L564.4 623.8L567.2 623.5L569.1 623.3L569.9 623.2L572.7 622.9L575.5 622.6L578.3 622.2L581 621.9L583.8 621.5L586.6 621.2L589.3 620.8L589.7 620.8L592.1 620.4L594.9 620.1L597.6 619.7L600.4 619.3L603.2 618.9L606 618.5L607.9 618.2L608.7 618.1L611.5 617.7L614.3 617.3L617 616.9L619.8 616.4L622.6 616L624.5 615.7L625.3 615.5L628.1 615.1L630.9 614.7L633.7 614.2L636.4 613.7L639.2 613.2L639.8 613.1Z" fill="#47ff00"/>
<path d="M647.5 648.5L647.5 648.7L647.5 651.3L647.5 653.8L647.5 656.3L647.5 658.9L647.5 661.4L647.5 664L647.5 666.5L647.5 669L647.5 671.6L647.5 674.1L647.5 676.7L647.5 677.7L644.7 678.2L642 678.7L639.6 679.2L639.2 679.3L636.4 679.7L633.7 680.2L630.9 680.7L628.1 681.1L625.3 681.6L624.6 681.7L622.6 682.1L619.8 682.5L617 682.9L614.3 683.3L611.5 683.7L608.7 684.1L607.8 684.3L606 684.5L603.2 684.9L600.4 685.2L597.6 685.6L594.9 685.9L592.1 686.3L589.3 686.7L588 686.8L586.6 687L583.8 687.3L581 687.6L578.3 687.9L575.5 688.1L572.7 688.4L569.9 688.7L567.2 689L564.4 689.3L563.3 689.4L561.6 689.5L558.9 689.7L556.1 689.9L553.3 690.1L550.6 690.3L547.8 690.5L545 690.7L542.2 690.9L539.5 691.1L536.7 691.3L533.9 691.4L531.2 691.6L528.4 691.8L525.6 691.9L525.4 691.9L522.9 692L520.1 692.1L517.3 692.2L514.6 692.3L511.8 692.4L509 692.5L506.2 692.5L503.5 692.6L500.7 692.7L497.9 692.7L495.2 692.8L492.4 692.8L489.6 692.8L486.9 692.9L484.1 692.9L481.3 692.9L478.5 692.9L475.8 692.9L473 692.9L470.2 692.8L467.5 692.8L464.7 692.8L461.9 692.7L459.2 692.7L456.4 692.6L453.6 692.6L450.8 692.5L448.1 692.5L445.3 692.4L442.5 692.3L439.8 692.2L437 692.1L434.2 692L431.5 691.9L431 691.9L428.7 691.8L425.9 691.7L423.1 691.5L420.4 691.4L417.6 691.2L414.8 691.1L412.1 690.9L409.3 690.7L406.5 690.6L403.8 690.4L401 690.2L398.2 690.1L395.4 689.9L392.7 689.7L389.9 689.5L387.3 689.4L387.1 689.4L384.4 689.1L381.6 688.9L378.8 688.7L376.1 688.4L373.3 688.2L370.5 688L367.8 687.7L365 687.5L362.2 687.3L359.4 687.1L356.7 686.8L356.7 686.8L353.9 686.5L351.1 686.3L348.4 686L345.6 685.7L342.8 685.4L340.1 685.1L337.3 684.9L334.5 684.6L331.7 684.3L331.2 684.3L329 684L326.2 683.7L323.4 683.4L320.7 683.1L317.9 682.8L315.1 682.4L312.4 682.1L309.6 681.9L308.6 681.7L306.8 681.5L304 681.2L301.3 680.8L298.5 680.5L295.7 680.1L293 679.8L290.2 679.5L287.8 679.2L287.4 679.2L284.7 678.8L281.9 678.4L279.1 678L276.3 677.7L273.6 677.3L270.8 677L268.4 676.7L268 676.6L265.3 676.2L262.5 675.8L262.5 674.1L262.5 671.6L262.5 669L262.5 666.5L262.5 664L262.5 661.4L262.5 658.9L262.5 656.3L262.5 654.8L265.3 655.1L268 655.4L270.8 655.7L273.6 656L276.3 656.2L277.2 656.3L279.1 656.5L281.9 656.8L284.7 657.1L287.4 657.4L290.2 657.7L293 657.9L295.7 658.2L298.5 658.4L301.3 658.7L303.6 658.9L304 658.9L306.8 659.2L309.6 659.4L312.4 659.7L315.1 659.9L317.9 660.2L320.7 660.4L323.4 660.6L326.2 660.8L329 661L331.7 661.2L334.3 661.4L334.5 661.4L337.3 661.7L340.1 661.9L342.8 662.1L345.6 662.3L348.4 662.5L351.1 662.7L353.9 662.8L356.7 663L359.4 663.2L362.2 663.3L365 663.5L367.8 663.6L370.5 663.8L373.3 663.9L374.4 664L376.1 664L378.8 664.2L381.6 664.3L384.4 664.5L387.1 664.6L389.9 664.7L392.7 664.8L395.4 665L398.2 665.1L401 665.2L403.8 665.3L406.5 665.3L409.3 665.4L412.1 665.5L414.8 665.6L417.6 665.6L420.4 665.7L423.1 665.7L425.9 665.8L428.7 665.8L431.5 665.9L434.2 665.9L437 665.9L439.8 665.9L442.5 666L445.3 666L448.1 666L450.8 666L453.6 666L456.4 666L459.2 665.9L461.9 665.9L464.7 665.9L467.5 665.8L470.2 665.8L473 665.7L475.8 665.7L478.5 665.6L481.3 665.6L484.1 665.5L486.9 665.4L489.6 665.3L492.4 665.2L495.2 665.1L497.9 665L500.7 664.9L503.5 664.8L506.2 664.6L509 664.5L511.8 664.3L514.6 664.2L517.3 664L518.1 664L520.1 663.9L522.9 663.7L525.6 663.5L528.4 663.4L531.2 663.2L533.9 663L536.7 662.8L539.5 662.6L542.2 662.3L545 662.1L547.8 661.9L550.6 661.6L552.5 661.4L553.3 661.3L556.1 661.1L558.9 660.9L561.6 660.6L564.4 660.3L567.2 660L569.9 659.7L572.7 659.4L575.5 659.1L577.4 658.9L578.3 658.8L581 658.5L583.8 658.2L586.6 657.8L589.3 657.5L592.1 657.1L594.9 656.8L597.6 656.4L597.9 656.3L600.4 656L603.2 655.7L606 655.3L608.7 654.9L611.5 654.5L614.3 654L615.7 653.8L617 653.6L619.8 653.2L622.6 652.8L625.3 652.3L628.1 651.9L630.9 651.4L631.6 651.3L633.7 650.9L636.4 650.5L639.2 650L642 649.5L644.7 649L646.2 648.7Z" fill="#a6ff00"/>
<path d="M265.3 676.2L268 676.6L268.4 676.7L270.8 677L273.6 677.3L276.3 677.7L279.1 678L281.9 678.4L284.7 678.8L287.4 679.2L287.8 679.2L290.2 679.5L293 679.8L295.7 680.1L298.5 680.5L301.3 680.8L304 681.2L306.8 681.5L308.6 681.7L309.6 681.9L312.4 682.1L315.1 682.4L317.9 682.8L320.7 683.1L323.4 683.4L326.2 683.7L329 684L331.2 684.3L331.7 684.3L334.5 684.6L337.3 684.9L340.1 685.1L342.8 685.4L345.6 685.7L348.4 686L351.1 686.3L353.9 686.5L356.7 686.8L356.7 686.8L359.4 687.1L362.2 687.3L365 687.5L367.8 687.7L370.5 688L373.3 688.2L376.1 688.4L378.8 688.7L381.6 688.9L384.4 689.1L387.1 689.4L387.3 689.4L389.9 689.5L392.7 689.7L395.4 689.9L398.2 690.1L401 690.2L403.8 690.4L406.5 690.6L409.3 690.7L412.1 690.9L414.8 691.1L417.6 691.2L420.4 691.4L423.1 691.5L425.9 691.7L428.7 691.8L431 691.9L431.5 691.9L434.2 692L437 692.1L439.8 692.2L442.5 692.3L445.3 692.4L448.1 692.5L450.8 692.5L453.6 692.6L456.4 692.6L459.2 692.7L461.9 692.7L464.7 692.8L467.5 692.8L470.2 692.8L473 692.9L475.8 692.9L478.5 692.9L481.3 692.9L484.1 692.9L486.9 692.9L489.6 692.8L492.4 692.8L495.2 692.8L497.9 692.7L500.7 692.7L503.5 692.6L506.2 692.5L509 692.5L511.8 692.4L514.6 692.3L517.3 692.2L520.1 692.1L522.9 692L525.4 691.9L525.6 691.9L528.4 691.8L531.2 691.6L533.9 691.4L536.7 691.3L539.5 691.1L542.2 690.9L545 690.7L547.8 690.5L550.6 690.3L553.3 690.1L556.1 689.9L558.9 689.7L561.6 689.5L563.3 689.4L564.4 689.3L567.2 689L569.9 688.7L572.7 688.4L575.5 688.1L578.3 687.9L581 687.6L583.8 687.3L586.6 687L588 686.8L589.3 686.7L592.1 686.3L594.9 685.9L597.6 685.6L600.4 685.2L603.2 684.9L606 684.5L607.8 684.3L608.7 684.1L611.5 683.7L614.3 683.3L617 682.9L619.8 682.5L622.6 682.1L624.6 681.7L625.3 681.6L628.1 681.1L630.9 680.7L633.7 680.2L636.4 679.7L639.2 679.3L639.6 679.2L642 678.7L644.7 678.2L647.5 677.7L647.5 679.2L647.5 681.7L647.5 684.3L647.5 686.8L647.5 689.4L647.5 691.9L647.5 694.5L647.5 697L647.5 699.5L647.5 702.1L647.5 704.6L647.5 707.2L647.5 709.7L647.5 710.2L644.7 710.8L642 711.3L639.2 711.8L636.5 712.2L636.4 712.3L633.7 712.8L630.9 713.3L628.1 713.8L625.3 714.2L622.6 714.6L621.5 714.8L619.8 715.1L617 715.5L614.3 715.9L611.5 716.3L608.7 716.7L606 717L603.6 717.3L603.2 717.4L600.4 717.8L597.6 718.1L594.9 718.5L592.1 718.8L589.3 719.1L586.6 719.3L583.8 719.6L581 719.8L580.7 719.9L578.3 720.1L575.5 720.4L572.7 720.6L569.9 720.8L567.2 721.1L564.4 721.2L561.6 721.4L558.9 721.6L556.1 721.8L553.3 721.9L550.6 722L547.8 722.1L545 722.3L542.2 722.4L540.8 722.4L539.5 722.4L536.7 722.5L533.9 722.6L531.2 722.7L528.4 722.8L525.6 722.8L522.9 722.9L520.1 722.9L517.3 722.9L514.6 722.9L511.8 722.9L509 722.9L506.2 722.9L503.5 722.9L500.7 722.8L497.9 722.8L495.2 722.7L492.4 722.6L489.6 722.5L486.9 722.5L485.4 722.4L484.1 722.4L481.3 722.3L478.5 722.2L475.8 722.1L473 722L470.2 721.8L467.5 721.7L464.7 721.6L461.9 721.4L459.2 721.3L456.4 721.1L453.6 720.9L450.8 720.7L448.1 720.5L445.3 720.3L442.5 720.1L439.8 719.9L439.7 719.9L437 719.7L434.2 719.5L431.5 719.3L428.7 719L425.9 718.8L423.1 718.6L420.4 718.3L417.6 718L414.8 717.7L412.1 717.4L410.9 717.3L409.3 717.2L406.5 716.9L403.8 716.6L401 716.4L398.2 716.1L395.4 715.8L392.7 715.4L389.9 715.1L387.3 714.8L387.1 714.8L384.4 714.5L381.6 714.2L378.8 713.8L376.1 713.5L373.3 713.2L370.5 712.8L367.8 712.4L366.3 712.2L365 712.1L362.2 711.7L359.4 711.4L356.7 711L353.9 710.7L351.1 710.3L348.4 709.9L347.2 709.7L345.6 709.5L342.8 709.1L340.1 708.8L337.3 708.4L334.5 708L331.7 707.5L329.4 707.2L329 707.1L326.2 706.7L323.4 706.3L320.7 705.9L317.9 705.5L315.1 705.1L312.5 704.6L312.4 704.6L309.6 704.2L306.8 703.8L304 703.4L301.3 702.9L298.5 702.5L296.2 702.1L295.7 702L293 701.6L290.2 701.2L287.4 700.7L284.7 700.3L281.9 699.8L280.6 699.5L279.1 699.3L276.3 698.9L273.6 698.4L270.8 698L268 697.5L265.5 697L265.3 697L262.5 696.5L262.5 694.5L262.5 691.9L262.5 689.4L262.5 686.8L262.5 684.3L262.5 681.7L262.5 679.2L262.5 676.7L262.5 675.8ZM630.9 920.4L633.7 920L636.4 919.6L639.2 919.2L642 918.8L644.7 918.5L647.5 918.2L647.5 920.6L644.7 920.6L642 920.6L639.2 920.6L636.4 920.6L633.7 920.6L630.9 920.6L629.6 920.6Z" fill="#edff00"/>
<path d="M265.3 697L265.5 697L268 697.5L270.8 698L273.6 698.4L276.3 698.9L279.1 699.3L280.6 699.5L281.9 699.8L284.7 700.3L287.4 700.7L290.2 701.2L293 701.6L295.7 702L296.2 702.1L298.5 702.5L301.3 702.9L304 703.4L306.8 703.8L309.6 704.2L312.4 704.6L312.5 704.6L315.1 705.1L317.9 705.5L320.7 705.9L323.4 706.3L326.2 706.7L329 707.1L329.4 707.2L331.7 707.5L334.5 708L337.3 708.4L340.1 708.8L342.8 709.1L345.6 709.5L347.2 709.7L348.4 709.9L351.1 710.3L353.9 710.7L356.7 711L359.4 711.4L362.2 711.7L365 712.1L366.3 712.2L367.8 712.4L370.5 712.8L373.3 713.2L376.1 713.5L378.8 713.8L381.6 714.2L384.4 714.5L387.1 714.8L387.3 714.8L389.9 715.1L392.7 715.4L395.4 715.8L398.2 716.1L401 716.4L403.8 716.6L406.5 716.9L409.3 717.2L410.9 717.3L412.1 717.4L414.8 717.7L417.6 718L420.4 718.3L423.1 718.6L425.9 718.8L428.7 719L431.5 719.3L434.2 719.5L437 719.7L439.7 719.9L439.8 719.9L442.5 720.1L445.3 720.3L448.1 720.5L450.8 720.7L453.6 720.9L456.4 721.1L459.2 721.3L461.9 721.4L464.7 721.6L467.5 721.7L470.2 721.8L473 722L475.8 722.1L478.5 722.2L481.3 722.3L484.1 722.4L485.4 722.4L486.9 722.5L489.6 722.5L492.4 722.6L495.2 722.7L497.9 722.8L500.7 722.8L503.5 722.9L506.2 722.9L509 722.9L511.8 722.9L514.6 722.9L517.3 722.9L520.1 722.9L522.9 722.9L525.6 722.8L528.4 722.8L531.2 722.7L533.9 722.6L536.7 722.5L539.5 722.4L540.8 722.4L542.2 722.4L545 722.3L547.8 722.1L550.6 722L553.3 721.9L556.1 721.8L558.9 721.6L561.6 721.4L564.4 721.2L567.2 721.1L569.9 720.8L572.7 720.6L575.5 720.4L578.3 720.1L580.7 719.9L581 719.8L583.8 719.6L586.6 719.3L589.3 719.1L592.1 718.8L594.9 718.5L597.6 718.1L600.4 717.8L603.2 717.4L603.6 717.3L606 717L608.7 716.7L611.5 716.3L614.3 715.9L617 715.5L619.8 715.1L621.5 714.8L622.6 714.6L625.3 714.2L628.1 713.8L630.9 713.3L633.7 712.8L636.4 712.3L636.5 712.2L639.2 711.8L642 711.3L644.7 710.8L647.5 710.2L647.5 712.2L647.5 714.8L647.5 717.3L647.5 719.9L647.5 722.4L647.5 724.9L647.5 727.5L647.5 730L647.5 732.6L647.5 735.1L647.5 737.6L647.5 740.2L647.5 742.7L647.5 745.3L647.5 747.8L647.5 750.4L647.5 752.9L647.5 754.1L644.7 754.7L642 755.4L641.7 755.4L639.2 755.9L636.4 756.5L633.7 757L630.9 757.5L628.5 758L628.1 758L625.3 758.5L622.6 758.9L619.8 759.3L617 759.8L614.3 760.2L611.8 760.5L611.5 760.6L608.7 760.9L606 761.2L603.2 761.5L600.4 761.8L597.6 762L594.9 762.3L592.1 762.5L589.3 762.7L586.6 762.9L584.2 763.1L583.8 763.1L581 763.2L578.3 763.3L575.5 763.4L572.7 763.5L569.9 763.6L567.2 763.6L564.4 763.6L561.6 763.7L558.9 763.7L556.1 763.6L553.3 763.6L550.6 763.6L547.8 763.5L545 763.4L542.2 763.3L539.5 763.3L536.7 763.1L535 763.1L533.9 763L531.2 762.8L528.4 762.7L525.6 762.5L522.9 762.3L520.1 762.1L517.3 761.9L514.6 761.7L511.8 761.4L509 761.2L506.2 760.9L503.5 760.7L501.5 760.5L500.7 760.4L497.9 760.1L495.2 759.8L492.4 759.5L489.6 759.2L486.9 758.9L484.1 758.6L481.3 758.3L478.9 758L478.5 757.9L475.8 757.5L473 757.2L470.2 756.8L467.5 756.4L464.7 756.1L461.9 755.7L460 755.4L459.2 755.3L456.4 754.9L453.6 754.5L450.8 754L448.1 753.6L445.3 753.2L442.9 752.9L442.5 752.8L439.8 752.4L437 751.9L434.2 751.5L431.5 751L428.7 750.6L427.1 750.4L425.9 750.1L423.1 749.7L420.4 749.2L417.6 748.7L414.8 748.3L412.1 747.8L412.1 747.8L409.3 747.3L406.5 746.8L403.8 746.3L401 745.8L398.2 745.3L397.8 745.3L395.4 744.8L392.7 744.3L389.9 743.8L387.1 743.3L384.4 742.8L383.9 742.7L381.6 742.3L378.8 741.7L376.1 741.2L373.3 740.7L370.5 740.2L370.5 740.2L367.8 739.6L365 739.1L362.2 738.5L359.4 738L357.4 737.6L356.7 737.5L353.9 736.9L351.1 736.4L348.4 735.8L345.6 735.3L344.6 735.1L342.8 734.7L340.1 734.2L337.3 733.6L334.5 733.1L331.9 732.6L331.7 732.5L329 731.9L326.2 731.3L323.4 730.8L320.7 730.3L319.5 730L317.9 729.7L315.1 729.1L312.4 728.5L309.6 727.9L307.2 727.5L306.8 727.4L304 726.8L301.3 726.2L298.5 725.6L295.7 725.1L295.1 724.9L293 724.5L290.2 723.8L287.4 723.3L284.7 722.7L283.2 722.4L281.9 722.1L279.1 721.5L276.3 720.9L273.6 720.3L271.3 719.9L270.8 719.8L268 719.1L265.3 718.5L262.5 717.9L262.5 717.3L262.5 714.8L262.5 712.2L262.5 709.7L262.5 707.2L262.5 704.6L262.5 702.1L262.5 699.5L262.5 697L262.5 696.5ZM642 874.8L644.7 874.5L647.5 874.3L647.5 874.9L647.5 877.4L647.5 879.9L647.5 882.5L647.5 885L647.5 887.6L647.5 890.1L647.5 892.6L647.5 895.2L647.5 897.7L647.5 900.3L647.5 902.8L647.5 905.4L647.5 907.9L647.5 910.4L647.5 913L647.5 915.5L647.5 918.1L647.5 918.2L644.7 918.5L642 918.8L639.2 919.2L636.4 919.6L633.7 920L630.9 920.4L629.6 920.6L628.1 920.6L625.3 920.6L622.6 920.6L619.8 920.6L617 920.6L614.3 920.6L611.5 920.6L608.7 920.6L606 920.6L603.2 920.6L600.4 920.6L597.6 920.6L594.9 920.6L592.1 920.6L589.3 920.6L586.6 920.6L583.8 920.6L581 920.6L578.3 920.6L575.5 920.6L572.7 920.6L569.9 920.6L567.2 920.6L564.4 920.6L561.6 920.6L558.9 920.6L556.1 920.6L553.3 920.6L550.6 920.6L547.8 920.6L545 920.6L542.2 920.6L539.5 920.6L536.7 920.6L533.9 920.6L531.2 920.6L528.4 920.6L525.6 920.6L522.9 920.6L520.1 920.6L517.3 920.6L514.6 920.6L511.8 920.6L509 920.6L506.2 920.6L503.5 920.6L500.7 920.6L497.9 920.6L495.2 920.6L492.4 920.6L489.6 920.6L486.9 920.6L486.2 920.6L486.9 920.3L489.6 919.2L492.1 918.1L492.4 917.9L495.2 916.8L497.9 915.6L498.1 915.5L500.7 914.5L503.5 913.3L504.2 913L506.2 912.2L509 911L510.5 910.4L511.8 909.9L514.6 908.8L516.8 907.9L517.3 907.7L520.1 906.6L522.9 905.5L523.3 905.4L525.6 904.5L528.4 903.4L530 902.8L531.2 902.4L533.9 901.4L536.7 900.3L536.9 900.3L539.5 899.4L542.2 898.4L544.1 897.7L545 897.4L547.8 896.5L550.6 895.5L551.5 895.2L553.3 894.6L556.1 893.7L558.9 892.8L559.2 892.6L561.6 891.9L564.4 891.1L567.2 890.2L567.4 890.1L569.9 889.4L572.7 888.6L575.5 887.8L576.2 887.6L578.3 887L581 886.3L583.8 885.5L585.6 885L586.6 884.8L589.3 884.1L592.1 883.4L594.9 882.8L596 882.5L597.6 882.1L600.4 881.5L603.2 880.9L606 880.3L607.9 879.9L608.7 879.8L611.5 879.3L614.3 878.8L617 878.3L619.8 877.8L622 877.4L622.6 877.3L625.3 876.9L628.1 876.5L630.9 876.1L633.7 875.8L636.4 875.4L639.2 875.1L641.1 874.9Z" fill="#ffd000"/>
<path d="M265.3 718.5L268 719.1L270.8 719.8L271.3 719.9L273.6 720.3L276.3 720.9L279.1 721.5L281.9 722.1L283.2 722.4L284.7 722.7L287.4 723.3L290.2 723.8L293 724.5L295.1 724.9L295.7 725.1L298.5 725.6L301.3 726.2L304 726.8L306.8 727.4L307.2 727.5L309.6 727.9L312.4 728.5L315.1 729.1L317.9 729.7L319.5 730L320.7 730.3L323.4 730.8L326.2 731.3L329 731.9L331.7 732.5L331.9 732.6L334.5 733.1L337.3 733.6L340.1 734.2L342.8 734.7L344.6 735.1L345.6 735.3L348.4 735.8L351.1 736.4L353.9 736.9L356.7 737.5L357.4 737.6L359.4 738L362.2 738.5L365 739.1L367.8 739.6L370.5 740.2L370.5 740.2L373.3 740.7L376.1 741.2L378.8 741.7L381.6 742.3L383.9 742.7L384.4 742.8L387.1 743.3L389.9 743.8L392.7 744.3L395.4 744.8L397.8 745.3L398.2 745.3L401 745.8L403.8 746.3L406.5 746.8L409.3 747.3L412.1 747.8L412.1 747.8L414.8 748.3L417.6 748.7L420.4 749.2L423.1 749.7L425.9 750.1L427.1 750.4L428.7 750.6L431.5 751L434.2 751.5L437 751.9L439.8 752.4L442.5 752.8L442.9 752.9L445.3 753.2L448.1 753.6L450.8 754L453.6 754.5L456.4 754.9L459.2 755.3L460 755.4L461.9 755.7L464.7 756.1L467.5 756.4L470.2 756.8L473 757.2L475.8 757.5L478.5 757.9L478.9 758L481.3 758.3L484.1 758.6L486.9 758.9L489.6 759.2L492.4 759.5L495.2 759.8L497.9 760.1L500.7 760.4L501.5 760.5L503.5 760.7L506.2 760.9L509 761.2L511.8 761.4L514.6 761.7L517.3 761.9L520.1 762.1L522.9 762.3L525.6 762.5L528.4 762.7L531.2 762.8L533.9 763L535 763.1L536.7 763.1L539.5 763.3L542.2 763.3L545 763.4L547.8 763.5L550.6 763.6L553.3 763.6L556.1 763.6L558.9 763.7L561.6 763.7L564.4 763.6L567.2 763.6L569.9 763.6L572.7 763.5L575.5 763.4L578.3 763.3L581 763.2L583.8 763.1L584.2 763.1L586.6 762.9L589.3 762.7L592.1 762.5L594.9 762.3L597.6 762L600.4 761.8L603.2 761.5L606 761.2L608.7 760.9L611.5 760.6L611.8 760.5L614.3 760.2L617 759.8L619.8 759.3L622.6 758.9L625.3 758.5L628.1 758L628.5 758L630.9 757.5L633.7 757L636.4 756.5L639.2 755.9L641.7 755.4L642 755.4L644.7 754.7L647.5 754.1L647.5 755.4L647.5 758L647.5 760.5L647.5 763.1L647.5 765.6L647.5 768.1L647.5 770.7L647.5 773.2L647.5 775.8L647.5 778.3L647.5 780.8L647.5 783.4L647.5 785.9L647.5 788.5L647.5 791L647.5 793.5L647.5 796.1L647.5 798.6L647.5 801.2L647.5 803.7L647.5 806.3L647.5 808.8L647.5 811.3L647.5 813.9L647.5 816.4L647.5 819L647.5 821.5L647.5 824L647.5 826.6L647.5 829.1L647.5 831.7L647.5 834.2L647.5 836.7L647.5 839.3L647.5 841.8L647.5 844.4L647.5 846.9L647.5 849.5L647.5 852L647.5 854.5L647.5 857.1L647.5 859.6L647.5 862.2L647.5 864.7L647.5 867.2L647.5 869.8L647.5 872.3L647.5 874.3L644.7 874.5L642 874.8L641.1 874.9L639.2 875.1L636.4 875.4L633.7 875.8L630.9 876.1L628.1 876.5L625.3 876.9L622.6 877.3L622 877.4L619.8 877.8L617 878.3L614.3 878.8L611.5 879.3L608.7 879.8L607.9 879.9L606 880.3L603.2 880.9L600.4 881.5L597.6 882.1L596 882.5L594.9 882.8L592.1 883.4L589.3 884.1L586.6 884.8L585.6 885L583.8 885.5L581 886.3L578.3 887L576.2 887.6L575.5 887.8L572.7 888.6L569.9 889.4L567.4 890.1L567.2 890.2L564.4 891.1L561.6 891.9L559.2 892.6L558.9 892.8L556.1 893.7L553.3 894.6L551.5 895.2L550.6 895.5L547.8 896.5L545 897.4L544.1 897.7L542.2 898.4L539.5 899.4L536.9 900.3L536.7 900.3L533.9 901.4L531.2 902.4L530 902.8L528.4 903.4L525.6 904.5L523.3 905.4L522.9 905.5L520.1 906.6L517.3 907.7L516.8 907.9L514.6 908.8L511.8 909.9L510.5 910.4L509 911L506.2 912.2L504.2 913L503.5 913.3L500.7 914.5L498.1 915.5L497.9 915.6L495.2 916.8L492.4 917.9L492.1 918.1L489.6 919.2L486.9 920.3L486.2 920.6L484.1 920.6L481.3 920.6L478.5 920.6L475.8 920.6L473 920.6L470.2 920.6L467.5 920.6L464.7 920.6L461.9 920.6L459.2 920.6L456.4 920.6L453.6 920.6L450.8 920.6L448.1 920.6L445.3 920.6L442.5 920.6L439.8 920.6L437 920.6L434.2 920.6L431.5 920.6L428.7 920.6L425.9 920.6L423.1 920.6L421.2 920.6L423.1 919.4L425.3 918.1L425.9 917.6L428.7 915.9L429.3 915.5L431.5 914.2L433.3 913L434.2 912.4L437 910.6L437.3 910.4L439.8 908.8L441.3 907.9L442.5 907.1L445.2 905.4L445.3 905.3L448.1 903.5L449.1 902.8L450.8 901.7L452.9 900.3L453.6 899.8L456.4 898L456.8 897.7L459.2 896.1L460.6 895.2L461.9 894.3L464.3 892.6L464.7 892.4L467.5 890.5L468 890.1L470.2 888.6L471.7 887.6L473 886.6L475.3 885L475.8 884.7L478.5 882.7L478.8 882.5L481.3 880.7L482.3 879.9L484.1 878.6L485.7 877.4L486.9 876.5L489 874.9L489.6 874.4L492.3 872.3L492.4 872.2L495.2 870L495.4 869.8L497.9 867.7L498.5 867.2L500.7 865.3L501.4 864.7L503.5 862.8L504.3 862.2L506.2 860.3L506.9 859.6L509 857.5L509.4 857.1L511.8 854.5L511.8 854.5L514 852L514.6 851.2L516 849.5L517.3 847.4L517.7 846.9L519.2 844.4L520.1 842.4L520.4 841.8L521.3 839.3L521.9 836.7L522.1 834.2L521.9 831.7L521.4 829.1L520.3 826.6L520.1 826.3L518.8 824L517.3 822.2L516.8 821.5L514.6 819.2L514.3 819L511.8 816.8L511.3 816.4L509 814.7L507.8 813.9L506.2 812.9L503.8 811.3L503.5 811.1L500.7 809.6L499.4 808.8L497.9 808.1L495.2 806.6L494.4 806.3L492.4 805.3L489.6 804L489 803.7L486.9 802.7L484.1 801.5L483.3 801.2L481.3 800.3L478.5 799.2L477.1 798.6L475.8 798.1L473 797L470.6 796.1L470.2 796L467.5 794.9L464.7 793.9L463.8 793.5L461.9 792.9L459.2 791.9L456.6 791L456.4 790.9L453.6 789.9L450.8 789L449.3 788.5L448.1 788.1L445.3 787.1L442.5 786.2L441.6 785.9L439.8 785.3L437 784.4L434.2 783.5L433.8 783.4L431.5 782.6L428.7 781.8L425.9 780.9L425.7 780.8L423.1 780L420.4 779.2L417.6 778.4L417.5 778.3L414.8 777.5L412.1 776.6L409.3 775.8L409.1 775.8L406.5 775L403.8 774.2L401 773.4L400.5 773.2L398.2 772.5L395.4 771.7L392.7 770.9L391.9 770.7L389.9 770.1L387.1 769.3L384.4 768.5L383.1 768.1L381.6 767.7L378.8 766.9L376.1 766.1L374.2 765.6L373.3 765.3L370.5 764.5L367.8 763.8L365.2 763.1L365 763L362.2 762.2L359.4 761.4L356.7 760.7L356.1 760.5L353.9 759.9L351.1 759.1L348.4 758.4L346.9 758L345.6 757.6L342.8 756.8L340.1 756.1L337.7 755.4L337.3 755.3L334.5 754.5L331.7 753.8L329 753.1L328.4 752.9L326.2 752.3L323.4 751.5L320.7 750.8L319 750.4L317.9 750L315.1 749.3L312.4 748.5L309.6 747.8L309.5 747.8L306.8 747.1L304 746.3L301.3 745.6L300.1 745.3L298.5 744.8L295.7 744.1L293 743.4L290.6 742.7L290.2 742.6L287.4 741.9L284.7 741.1L281.9 740.4L281 740.2L279.1 739.7L276.3 738.9L273.6 738.2L271.4 737.6L270.8 737.5L268 736.7L265.3 736L262.5 735.3L262.5 735.1L262.5 732.6L262.5 730L262.5 727.5L262.5 724.9L262.5 722.4L262.5 719.9L262.5 717.9Z" fill="#ff9a00"/>
<path d="M265.3 736L268 736.7L270.8 737.5L271.4 737.6L273.6 738.2L276.3 738.9L279.1 739.7L281 740.2L281.9 740.4L284.7 741.1L287.4 741.9L290.2 742.6L290.6 742.7L293 743.4L295.7 744.1L298.5 744.8L300.1 745.3L301.3 745.6L304 746.3L306.8 747.1L309.5 747.8L309.6 747.8L312.4 748.5L315.1 749.3L317.9 750L319 750.4L320.7 750.8L323.4 751.5L326.2 752.3L328.4 752.9L329 753.1L331.7 753.8L334.5 754.5L337.3 755.3L337.7 755.4L340.1 756.1L342.8 756.8L345.6 757.6L346.9 758L348.4 758.4L351.1 759.1L353.9 759.9L356.1 760.5L356.7 760.7L359.4 761.4L362.2 762.2L365 763L365.2 763.1L367.8 763.8L370.5 764.5L373.3 765.3L374.2 765.6L376.1 766.1L378.8 766.9L381.6 767.7L383.1 768.1L384.4 768.5L387.1 769.3L389.9 770.1L391.9 770.7L392.7 770.9L395.4 771.7L398.2 772.5L400.5 773.2L401 773.4L403.8 774.2L406.5 775L409.1 775.8L409.3 775.8L412.1 776.6L414.8 777.5L417.5 778.3L417.6 778.4L420.4 779.2L423.1 780L425.7 780.8L425.9 780.9L428.7 781.8L431.5 782.6L433.8 783.4L434.2 783.5L437 784.4L439.8 785.3L441.6 785.9L442.5 786.2L445.3 787.1L448.1 788.1L449.3 788.5L450.8 789L453.6 789.9L456.4 790.9L456.6 791L459.2 791.9L461.9 792.9L463.8 793.5L464.7 793.9L467.5 794.9L470.2 796L470.6 796.1L473 797L475.8 798.1L477.1 798.6L478.5 799.2L481.3 800.3L483.3 801.2L484.1 801.5L486.9 802.7L489 803.7L489.6 804L492.4 805.3L494.4 806.3L495.2 806.6L497.9 808.1L499.4 808.8L500.7 809.6L503.5 811.1L503.8 811.3L506.2 812.9L507.8 813.9L509 814.7L511.3 816.4L511.8 816.8L514.3 819L514.6 819.2L516.8 821.5L517.3 822.2L518.8 824L520.1 826.3L520.3 826.6L521.4 829.1L521.9 831.7L522.1 834.2L521.9 836.7L521.3 839.3L520.4 841.8L520.1 842.4L519.2 844.4L517.7 846.9L517.3 847.4L516 849.5L514.6 851.2L514 852L511.8 854.5L511.8 854.5L509.4 857.1L509 857.5L506.9 859.6L506.2 860.3L504.3 862.2L503.5 862.8L501.4 864.7L500.7 865.3L498.5 867.2L497.9 867.7L495.4 869.8L495.2 870L492.4 872.2L492.3 872.3L489.6 874.4L489 874.9L486.9 876.5L485.7 877.4L484.1 878.6L482.3 879.9L481.3 880.7L478.8 882.5L478.5 882.7L475.8 884.7L475.3 885L473 886.6L471.7 887.6L470.2 888.6L468 890.1L467.5 890.5L464.7 892.4L464.3 892.6L461.9 894.3L460.6 895.2L459.2 896.1L456.8 897.7L456.4 898L453.6 899.8L452.9 900.3L450.8 901.7L449.1 902.8L448.1 903.5L445.3 905.3L445.2 905.4L442.5 907.1L441.3 907.9L439.8 908.8L437.3 910.4L437 910.6L434.2 912.4L433.3 913L431.5 914.2L429.3 915.5L428.7 915.9L425.9 917.6L425.3 918.1L423.1 919.4L421.2 920.6L420.4 920.6L417.6 920.6L414.8 920.6L412.1 920.6L409.3 920.6L406.5 920.6L403.8 920.6L401 920.6L398.2 920.6L395.4 920.6L392.7 920.6L389.9 920.6L387.1 920.6L384.4 920.6L381.6 920.6L378.8 920.6L376.1 920.6L373.3 920.6L370.5 920.6L370.3 920.6L370.5 920.4L373.3 918.1L373.4 918.1L376.1 915.8L376.4 915.5L378.8 913.4L379.3 913L381.6 911L382.2 910.4L384.4 908.5L385 907.9L387.1 906L387.8 905.4L389.9 903.4L390.5 902.8L392.7 900.8L393.2 900.3L395.4 898.1L395.8 897.7L398.2 895.3L398.3 895.2L400.7 892.6L401 892.3L402.9 890.1L403.8 889.2L405.1 887.6L406.5 885.9L407.3 885L409.3 882.6L409.4 882.5L411.2 879.9L412.1 878.7L412.9 877.4L414.7 874.9L414.8 874.7L416.1 872.3L417.6 869.9L417.7 869.8L418.8 867.2L420 864.7L420.4 863.7L420.9 862.2L421.7 859.6L422.3 857.1L422.9 854.5L423.1 852.2L423.2 852L423.2 849.5L423.1 847.2L423.1 846.9L422.7 844.4L422.1 841.8L421.4 839.3L420.5 836.7L420.4 836.5L419.2 834.2L417.8 831.7L417.6 831.3L416 829.1L414.8 827.5L414.1 826.6L412.1 824.1L412 824L409.5 821.5L409.3 821.3L406.8 819L406.5 818.7L403.9 816.4L403.8 816.3L401 814.1L400.7 813.9L398.2 812.1L397.2 811.3L395.4 810.2L393.5 808.8L392.7 808.3L389.9 806.5L389.6 806.3L387.1 804.9L385.3 803.7L384.4 803.2L381.6 801.6L380.9 801.2L378.8 800.1L376.3 798.6L376.1 798.5L373.3 797.2L371.3 796.1L370.5 795.7L367.8 794.4L366.1 793.5L365 793L362.2 791.7L360.8 791L359.4 790.4L356.7 789.2L355.2 788.5L353.9 787.9L351.1 786.7L349.5 785.9L348.4 785.5L345.6 784.3L343.5 783.4L342.8 783.1L340.1 782L337.5 780.8L337.3 780.8L334.5 779.8L331.7 778.6L331.1 778.3L329 777.6L326.2 776.5L324.5 775.8L323.4 775.4L320.7 774.4L318 773.2L317.9 773.2L315.1 772.3L312.4 771.2L311 770.7L309.6 770.2L306.8 769.2L304.2 768.1L304 768.1L301.3 767.2L298.5 766.2L296.9 765.6L295.7 765.2L293 764.3L290.2 763.2L289.7 763.1L287.4 762.4L284.7 761.4L282.3 760.5L281.9 760.4L279.1 759.5L276.3 758.6L274.8 758L273.6 757.6L270.8 756.7L268 755.7L267.1 755.4L265.3 754.9L262.5 754L262.5 752.9L262.5 750.4L262.5 747.8L262.5 745.3L262.5 742.7L262.5 740.2L262.5 737.6L262.5 735.3Z" fill="#ff6b00"/>
<path d="M265.3 754.9L267.1 755.4L268 755.7L270.8 756.7L273.6 757.6L274.8 758L276.3 758.6L279.1 759.5L281.9 760.4L282.3 760.5L284.7 761.4L287.4 762.4L289.7 763.1L290.2 763.2L293 764.3L295.7 765.2L296.9 765.6L298.5 766.2L301.3 767.2L304 768.1L304.2 768.1L306.8 769.2L309.6 770.2L311 770.7L312.4 771.2L315.1 772.3L317.9 773.2L318 773.2L320.7 774.4L323.4 775.4L324.5 775.8L326.2 776.5L329 777.6L331.1 778.3L331.7 778.6L334.5 779.8L337.3 780.8L337.5 780.8L340.1 782L342.8 783.1L343.5 783.4L345.6 784.3L348.4 785.5L349.5 785.9L351.1 786.7L353.9 787.9L355.2 788.5L356.7 789.2L359.4 790.4L360.8 791L362.2 791.7L365 793L366.1 793.5L367.8 794.4L370.5 795.7L371.3 796.1L373.3 797.2L376.1 798.5L376.3 798.6L378.8 800.1L380.9 801.2L381.6 801.6L384.4 803.2L385.3 803.7L387.1 804.9L389.6 806.3L389.9 806.5L392.7 808.3L393.5 808.8L395.4 810.2L397.2 811.3L398.2 812.1L400.7 813.9L401 814.1L403.8 816.3L403.9 816.4L406.5 818.7L406.8 819L409.3 821.3L409.5 821.5L412 824L412.1 824.1L414.1 826.6L414.8 827.5L416 829.1L417.6 831.3L417.8 831.7L419.2 834.2L420.4 836.5L420.5 836.7L421.4 839.3L422.1 841.8L422.7 844.4L423.1 846.9L423.1 847.2L423.2 849.5L423.2 852L423.1 852.2L422.9 854.5L422.3 857.1L421.7 859.6L420.9 862.2L420.4 863.7L420 864.7L418.8 867.2L417.7 869.8L417.6 869.9L416.1 872.3L414.8 874.7L414.7 874.9L412.9 877.4L412.1 878.7L411.2 879.9L409.4 882.5L409.3 882.6L407.3 885L406.5 885.9L405.1 887.6L403.8 889.2L402.9 890.1L401 892.3L400.7 892.6L398.3 895.2L398.2 895.3L395.8 897.7L395.4 898.1L393.2 900.3L392.7 900.8L390.5 902.8L389.9 903.4L387.8 905.4L387.1 906L385 907.9L384.4 908.5L382.2 910.4L381.6 911L379.3 913L378.8 913.4L376.4 915.5L376.1 915.8L373.4 918.1L373.3 918.1L370.5 920.4L370.3 920.6L367.8 920.6L365 920.6L362.2 920.6L359.4 920.6L356.7 920.6L353.9 920.6L351.1 920.6L348.4 920.6L345.6 920.6L342.8 920.6L340.1 920.6L337.3 920.6L334.5 920.6L331.7 920.6L329 920.6L326.2 920.6L323.4 920.6L320.7 920.6L317.9 920.6L315.1 920.6L312.4 920.6L309.6 920.6L306.8 920.6L304 920.6L301.3 920.6L298.5 920.6L295.7 920.6L293 920.6L290.2 920.6L287.4 920.6L284.7 920.6L281.9 920.6L280 920.6L281.8 918.1L281.9 918L283.7 915.5L284.7 914.1L285.5 913L287.1 910.4L287.4 909.9L288.7 907.9L290.2 905.4L290.2 905.3L291.7 902.8L292.9 900.3L293 900.2L294.3 897.7L295.4 895.2L295.7 894.3L296.5 892.6L297.5 890.1L298.3 887.6L298.5 886.8L299.1 885L299.8 882.5L300.3 879.9L300.7 877.4L301.1 874.9L301.3 872.3L301.3 872L301.4 869.8L301.3 867.2L301.3 866.1L301.2 864.7L300.9 862.2L300.6 859.6L300 857.1L299.3 854.5L298.5 852.1L298.5 852L297.6 849.5L296.5 846.9L295.7 845.4L295.2 844.4L293.9 841.8L293 840.4L292.3 839.3L290.6 836.7L290.2 836.2L288.8 834.2L287.4 832.5L286.8 831.7L284.7 829.2L284.6 829.1L282.3 826.6L281.9 826.1L279.9 824L279.1 823.3L277.3 821.5L276.3 820.7L274.5 819L273.6 818.2L271.6 816.4L270.8 815.8L268.4 813.9L268 813.6L265.3 811.4L265.2 811.3L262.5 809.3L262.5 808.8L262.5 806.3L262.5 803.7L262.5 801.2L262.5 798.6L262.5 796.1L262.5 793.5L262.5 791L262.5 788.5L262.5 785.9L262.5 783.4L262.5 780.8L262.5 778.3L262.5 775.8L262.5 773.2L262.5 770.7L262.5 768.1L262.5 765.6L262.5 763.1L262.5 760.5L262.5 758L262.5 755.4L262.5 754Z" fill="#ff2a00"/>
<path d="M265.2 811.3L265.3 811.4L268 813.6L268.4 813.9L270.8 815.8L271.6 816.4L273.6 818.2L274.5 819L276.3 820.7L277.3 821.5L279.1 823.3L279.9 824L281.9 826.1L282.3 826.6L284.6 829.1L284.7 829.2L286.8 831.7L287.4 832.5L288.8 834.2L290.2 836.2L290.6 836.7L292.3 839.3L293 840.4L293.9 841.8L295.2 844.4L295.7 845.4L296.5 846.9L297.6 849.5L298.5 852L298.5 852.1L299.3 854.5L300 857.1L300.6 859.6L300.9 862.2L301.2 864.7L301.3 866.1L301.3 867.2L301.4 869.8L301.3 872L301.3 872.3L301.1 874.9L300.7 877.4L300.3 879.9L299.8 882.5L299.1 885L298.5 886.8L298.3 887.6L297.5 890.1L296.5 892.6L295.7 894.3L295.4 895.2L294.3 897.7L293 900.2L292.9 900.3L291.7 902.8L290.2 905.3L290.2 905.4L288.7 907.9L287.4 909.9L287.1 910.4L285.5 913L284.7 914.1L283.7 915.5L281.9 918L281.8 918.1L280 920.6L279.1 920.6L276.3 920.6L273.6 920.6L270.8 920.6L268 920.6L265.3 920.6L262.5 920.6L262.5 918.1L262.5 915.5L262.5 913L262.5 910.4L262.5 907.9L262.5 905.4L262.5 902.8L262.5 900.3L262.5 897.7L262.5 895.2L262.5 892.6L262.5 890.1L262.5 887.6L262.5 885L262.5 882.5L262.5 879.9L262.5 877.4L262.5 874.9L262.5 872.3L262.5 869.8L262.5 867.2L262.5 864.7L262.5 862.2L262.5 859.6L262.5 857.1L262.5 854.5L262.5 852L262.5 849.5L262.5 846.9L262.5 844.4L262.5 841.8L262.5 839.3L262.5 836.7L262.5 834.2L262.5 831.7L262.5 829.1L262.5 826.6L262.5 824L262.5 821.5L262.5 819L262.5 816.4L262.5 813.9L262.5 811.3L262.5 809.3Z" fill="#ff0000"/>
<path d="M262.5 598.1L265.3 598.2L268 598.4L270.8 598.5L273.6 598.7L276.3 598.8L279.1 598.9L281.9 599.1L284.7 599.2L287.4 599.3L290.2 599.4L293 599.5L295.7 599.7L298.5 599.8L301.3 599.9L304 600L306.8 600.1L309.6 600.2L312.4 600.3L315.1 600.3L317.9 600.4L318.2 600.4L320.7 600.5L323.4 600.6L326.2 600.6L329 600.7L331.7 600.8L334.5 600.8L337.3 600.9L340.1 600.9L342.8 601L345.6 601L348.4 601.1L351.1 601.1L353.9 601.1L356.7 601.2L359.4 601.2L362.2 601.2L365 601.2L367.8 601.2L370.5 601.2L373.3 601.3L376.1 601.3L378.8 601.2L381.6 601.2L384.4 601.2L387.1 601.2L389.9 601.2L392.7 601.2L395.4 601.1L398.2 601.1L401 601.1L403.8 601L406.5 601L409.3 600.9L412.1 600.9L414.8 600.8L417.6 600.7L420.4 600.7L423.1 600.6L425.9 600.5L428.7 600.4L429.1 600.4L431.5 600.4L434.2 600.3L437 600.2L439.8 600.1L442.5 600L445.3 599.8L448.1 599.7L450.8 599.6L453.6 599.5L456.4 599.4L459.2 599.2L461.9 599.1L464.7 598.9L467.5 598.8L470.2 598.6L473 598.5L475.8 598.3L478.5 598.2L481.3 598L482.9 597.9L484.1 597.8L486.9 597.6L489.6 597.4L492.4 597.2L495.2 597L497.9 596.8L500.7 596.6L503.5 596.4L506.2 596.2L509 596L511.8 595.8L514.6 595.5L516.7 595.4L517.3 595.3L520.1 595.1L522.9 594.8L525.6 594.6L528.4 594.3L531.2 594L533.9 593.8L536.7 593.5L539.5 593.2L542.2 592.9L543.5 592.8L545 592.6L547.8 592.4L550.6 592.1L553.3 591.7L556.1 591.4L558.9 591.1L561.6 590.8L564.4 590.5L566.2 590.3L567.2 590.2L569.9 589.8L572.7 589.5L575.5 589.1L578.3 588.8L581 588.4L583.8 588.1L586.4 587.7L586.6 587.7L589.3 587.3L592.1 586.9L594.9 586.6L597.6 586.2L600.4 585.8L603.2 585.4L604.5 585.2L606 585L608.7 584.6L611.5 584.1L614.3 583.7L617 583.3L619.8 582.9L621.3 582.6L622.6 582.4L625.3 582L628.1 581.5L630.9 581.1L633.7 580.6L636.4 580.2L636.9 580.1L639.2 579.7L642 579.2L644.7 578.8L647.5 578.3" fill="none" stroke="#000" stroke-width="1.05"/>
<path d="M262.5 626L265.3 626.2L268 626.4L270.8 626.7L273.6 626.9L276.3 627.1L279.1 627.3L281.9 627.5L284.7 627.6L287.4 627.8L290.2 628L293 628.2L295.7 628.4L296.1 628.4L298.5 628.5L301.3 628.7L304 628.9L306.8 629L309.6 629.2L312.4 629.4L315.1 629.5L317.9 629.6L320.7 629.8L323.4 629.9L326.2 630.1L329 630.2L331.7 630.3L334.5 630.4L337.3 630.6L340.1 630.7L342.8 630.8L345.6 630.9L346.7 630.9L348.4 631L351.1 631.1L353.9 631.2L356.7 631.3L359.4 631.4L362.2 631.4L365 631.5L367.8 631.6L370.5 631.7L373.3 631.7L376.1 631.8L378.8 631.8L381.6 631.9L384.4 631.9L387.1 632L389.9 632L392.7 632L395.4 632.1L398.2 632.1L401 632.1L403.8 632.1L406.5 632.1L409.3 632.1L412.1 632.1L414.8 632.1L417.6 632.1L420.4 632.1L423.1 632.1L425.9 632.1L428.7 632L431.5 632L434.2 631.9L437 631.9L439.8 631.9L442.5 631.8L445.3 631.7L448.1 631.7L450.8 631.6L453.6 631.5L456.4 631.4L459.2 631.3L461.9 631.2L464.7 631.1L467.5 631L470.2 630.9L470.4 630.9L473 630.8L475.8 630.7L478.5 630.6L481.3 630.4L484.1 630.3L486.9 630.2L489.6 630L492.4 629.9L495.2 629.7L497.9 629.5L500.7 629.4L503.5 629.2L506.2 629L509 628.8L511.8 628.6L514.6 628.4L515.1 628.4L517.3 628.2L520.1 628L522.9 627.8L525.6 627.6L528.4 627.4L531.2 627.1L533.9 626.9L536.7 626.6L539.5 626.4L542.2 626.1L545 625.9L545.1 625.8L547.8 625.6L550.6 625.3L553.3 625L556.1 624.7L558.9 624.5L561.6 624.2L564.4 623.8L567.2 623.5L569.1 623.3L569.9 623.2L572.7 622.9L575.5 622.6L578.3 622.2L581 621.9L583.8 621.5L586.6 621.2L589.3 620.8L589.7 620.8L592.1 620.4L594.9 620.1L597.6 619.7L600.4 619.3L603.2 618.9L606 618.5L607.9 618.2L608.7 618.1L611.5 617.7L614.3 617.3L617 616.9L619.8 616.4L622.6 616L624.5 615.7L625.3 615.5L628.1 615.1L630.9 614.7L633.7 614.2L636.4 613.7L639.2 613.2L639.8 613.1L642 612.8L644.7 612.3L647.5 611.8" fill="none" stroke="#000" stroke-width="1.05"/>
<path d="M262.5 654.8L265.3 655.1L268 655.4L270.8 655.7L273.6 656L276.3 656.2L277.2 656.3L279.1 656.5L281.9 656.8L284.7 657.1L287.4 657.4L290.2 657.7L293 657.9L295.7 658.2L298.5 658.4L301.3 658.7L303.6 658.9L304 658.9L306.8 659.2L309.6 659.4L312.4 659.7L315.1 659.9L317.9 660.2L320.7 660.4L323.4 660.6L326.2 660.8L329 661L331.7 661.2L334.3 661.4L334.5 661.4L337.3 661.7L340.1 661.9L342.8 662.1L345.6 662.3L348.4 662.5L351.1 662.7L353.9 662.8L356.7 663L359.4 663.2L362.2 663.3L365 663.5L367.8 663.6L370.5 663.8L373.3 663.9L374.4 664L376.1 664L378.8 664.2L381.6 664.3L384.4 664.5L387.1 664.6L389.9 664.7L392.7 664.8L395.4 665L398.2 665.1L401 665.2L403.8 665.3L406.5 665.3L409.3 665.4L412.1 665.5L414.8 665.6L417.6 665.6L420.4 665.7L423.1 665.7L425.9 665.8L428.7 665.8L431.5 665.9L434.2 665.9L437 665.9L439.8 665.9L442.5 666L445.3 666L448.1 666L450.8 666L453.6 666L456.4 666L459.2 665.9L461.9 665.9L464.7 665.9L467.5 665.8L470.2 665.8L473 665.7L475.8 665.7L478.5 665.6L481.3 665.6L484.1 665.5L486.9 665.4L489.6 665.3L492.4 665.2L495.2 665.1L497.9 665L500.7 664.9L503.5 664.8L506.2 664.6L509 664.5L511.8 664.3L514.6 664.2L517.3 664L518.1 664L520.1 663.9L522.9 663.7L525.6 663.5L528.4 663.4L531.2 663.2L533.9 663L536.7 662.8L539.5 662.6L542.2 662.3L545 662.1L547.8 661.9L550.6 661.6L552.5 661.4L553.3 661.3L556.1 661.1L558.9 660.9L561.6 660.6L564.4 660.3L567.2 660L569.9 659.7L572.7 659.4L575.5 659.1L577.4 658.9L578.3 658.8L581 658.5L583.8 658.2L586.6 657.8L589.3 657.5L592.1 657.1L594.9 656.8L597.6 656.4L597.9 656.3L600.4 656L603.2 655.7L606 655.3L608.7 654.9L611.5 654.5L614.3 654L615.7 653.8L617 653.6L619.8 653.2L622.6 652.8L625.3 652.3L628.1 651.9L630.9 651.4L631.6 651.3L633.7 650.9L636.4 650.5L639.2 650L642 649.5L644.7 649L646.2 648.7L647.5 648.5" fill="none" stroke="#000" stroke-width="1.05"/>
<path d="M262.5 675.8L265.3 676.2L268 676.6L268.4 676.7L270.8 677L273.6 677.3L276.3 677.7L279.1 678L281.9 678.4L284.7 678.8L287.4 679.2L287.8 679.2L290.2 679.5L293 679.8L295.7 680.1L298.5 680.5L301.3 680.8L304 681.2L306.8 681.5L308.6 681.7L309.6 681.9L312.4 682.1L315.1 682.4L317.9 682.8L320.7 683.1L323.4 683.4L326.2 683.7L329 684L331.2 684.3L331.7 684.3L334.5 684.6L337.3 684.9L340.1 685.1L342.8 685.4L345.6 685.7L348.4 686L351.1 686.3L353.9 686.5L356.7 686.8L356.7 686.8L359.4 687.1L362.2 687.3L365 687.5L367.8 687.7L370.5 688L373.3 688.2L376.1 688.4L378.8 688.7L381.6 688.9L384.4 689.1L387.1 689.4L387.3 689.4L389.9 689.5L392.7 689.7L395.4 689.9L398.2 690.1L401 690.2L403.8 690.4L406.5 690.6L409.3 690.7L412.1 690.9L414.8 691.1L417.6 691.2L420.4 691.4L423.1 691.5L425.9 691.7L428.7 691.8L431 691.9L431.5 691.9L434.2 692L437 692.1L439.8 692.2L442.5 692.3L445.3 692.4L448.1 692.5L450.8 692.5L453.6 692.6L456.4 692.6L459.2 692.7L461.9 692.7L464.7 692.8L467.5 692.8L470.2 692.8L473 692.9L475.8 692.9L478.5 692.9L481.3 692.9L484.1 692.9L486.9 692.9L489.6 692.8L492.4 692.8L495.2 692.8L497.9 692.7L500.7 692.7L503.5 692.6L506.2 692.5L509 692.5L511.8 692.4L514.6 692.3L517.3 692.2L520.1 692.1L522.9 692L525.4 691.9L525.6 691.9L528.4 691.8L531.2 691.6L533.9 691.4L536.7 691.3L539.5 691.1L542.2 690.9L545 690.7L547.8 690.5L550.6 690.3L553.3 690.1L556.1 689.9L558.9 689.7L561.6 689.5L563.3 689.4L564.4 689.3L567.2 689L569.9 688.7L572.7 688.4L575.5 688.1L578.3 687.9L581 687.6L583.8 687.3L586.6 687L588 686.8L589.3 686.7L592.1 686.3L594.9 685.9L597.6 685.6L600.4 685.2L603.2 684.9L606 684.5L607.8 684.3L608.7 684.1L611.5 683.7L614.3 683.3L617 682.9L619.8 682.5L622.6 682.1L624.6 681.7L625.3 681.6L628.1 681.1L630.9 680.7L633.7 680.2L636.4 679.7L639.2 679.3L639.6 679.2L642 678.7L644.7 678.2L647.5 677.7" fill="none" stroke="#000" stroke-width="1.05"/>
<path d="M262.5 696.5L265.3 697L265.5 697L268 697.5L270.8 698L273.6 698.4L276.3 698.9L279.1 699.3L280.6 699.5L281.9 699.8L284.7 700.3L287.4 700.7L290.2 701.2L293 701.6L295.7 702L296.2 702.1L298.5 702.5L301.3 702.9L304 703.4L306.8 703.8L309.6 704.2L312.4 704.6L312.5 704.6L315.1 705.1L317.9 705.5L320.7 705.9L323.4 706.3L326.2 706.7L329 707.1L329.4 707.2L331.7 707.5L334.5 708L337.3 708.4L340.1 708.8L342.8 709.1L345.6 709.5L347.2 709.7L348.4 709.9L351.1 710.3L353.9 710.7L356.7 711L359.4 711.4L362.2 711.7L365 712.1L366.3 712.2L367.8 712.4L370.5 712.8L373.3 713.2L376.1 713.5L378.8 713.8L381.6 714.2L384.4 714.5L387.1 714.8L387.3 714.8L389.9 715.1L392.7 715.4L395.4 715.8L398.2 716.1L401 716.4L403.8 716.6L406.5 716.9L409.3 717.2L410.9 717.3L412.1 717.4L414.8 717.7L417.6 718L420.4 718.3L423.1 718.6L425.9 718.8L428.7 719L431.5 719.3L434.2 719.5L437 719.7L439.7 719.9L439.8 719.9L442.5 720.1L445.3 720.3L448.1 720.5L450.8 720.7L453.6 720.9L456.4 721.1L459.2 721.3L461.9 721.4L464.7 721.6L467.5 721.7L470.2 721.8L473 722L475.8 722.1L478.5 722.2L481.3 722.3L484.1 722.4L485.4 722.4L486.9 722.5L489.6 722.5L492.4 722.6L495.2 722.7L497.9 722.8L500.7 722.8L503.5 722.9L506.2 722.9L509 722.9L511.8 722.9L514.6 722.9L517.3 722.9L520.1 722.9L522.9 722.9L525.6 722.8L528.4 722.8L531.2 722.7L533.9 722.6L536.7 722.5L539.5 722.4L540.8 722.4L542.2 722.4L545 722.3L547.8 722.1L550.6 722L553.3 721.9L556.1 721.8L558.9 721.6L561.6 721.4L564.4 721.2L567.2 721.1L569.9 720.8L572.7 720.6L575.5 720.4L578.3 720.1L580.7 719.9L581 719.8L583.8 719.6L586.6 719.3L589.3 719.1L592.1 718.8L594.9 718.5L597.6 718.1L600.4 717.8L603.2 717.4L603.6 717.3L606 717L608.7 716.7L611.5 716.3L614.3 715.9L617 715.5L619.8 715.1L621.5 714.8L622.6 714.6L625.3 714.2L628.1 713.8L630.9 713.3L633.7 712.8L636.4 712.3L636.5 712.2L639.2 711.8L642 711.3L644.7 710.8L647.5 710.2M647.5 918.2L644.7 918.5L642 918.8L639.2 919.2L636.4 919.6L633.7 920L630.9 920.4L629.6 920.6" fill="none" stroke="#000" stroke-width="1.05"/>
<path d="M262.5 717.9L265.3 718.5L268 719.1L270.8 719.8L271.3 719.9L273.6 720.3L276.3 720.9L279.1 721.5L281.9 722.1L283.2 722.4L284.7 722.7L287.4 723.3L290.2 723.8L293 724.5L295.1 724.9L295.7 725.1L298.5 725.6L301.3 726.2L304 726.8L306.8 727.4L307.2 727.5L309.6 727.9L312.4 728.5L315.1 729.1L317.9 729.7L319.5 730L320.7 730.3L323.4 730.8L326.2 731.3L329 731.9L331.7 732.5L331.9 732.6L334.5 733.1L337.3 733.6L340.1 734.2L342.8 734.7L344.6 735.1L345.6 735.3L348.4 735.8L351.1 736.4L353.9 736.9L356.7 737.5L357.4 737.6L359.4 738L362.2 738.5L365 739.1L367.8 739.6L370.5 740.2L370.5 740.2L373.3 740.7L376.1 741.2L378.8 741.7L381.6 742.3L383.9 742.7L384.4 742.8L387.1 743.3L389.9 743.8L392.7 744.3L395.4 744.8L397.8 745.3L398.2 745.3L401 745.8L403.8 746.3L406.5 746.8L409.3 747.3L412.1 747.8L412.1 747.8L414.8 748.3L417.6 748.7L420.4 749.2L423.1 749.7L425.9 750.1L427.1 750.4L428.7 750.6L431.5 751L434.2 751.5L437 751.9L439.8 752.4L442.5 752.8L442.9 752.9L445.3 753.2L448.1 753.6L450.8 754L453.6 754.5L456.4 754.9L459.2 755.3L460 755.4L461.9 755.7L464.7 756.1L467.5 756.4L470.2 756.8L473 757.2L475.8 757.5L478.5 757.9L478.9 758L481.3 758.3L484.1 758.6L486.9 758.9L489.6 759.2L492.4 759.5L495.2 759.8L497.9 760.1L500.7 760.4L501.5 760.5L503.5 760.7L506.2 760.9L509 761.2L511.8 761.4L514.6 761.7L517.3 761.9L520.1 762.1L522.9 762.3L525.6 762.5L528.4 762.7L531.2 762.8L533.9 763L535 763.1L536.7 763.1L539.5 763.3L542.2 763.3L545 763.4L547.8 763.5L550.6 763.6L553.3 763.6L556.1 763.6L558.9 763.7L561.6 763.7L564.4 763.6L567.2 763.6L569.9 763.6L572.7 763.5L575.5 763.4L578.3 763.3L581 763.2L583.8 763.1L584.2 763.1L586.6 762.9L589.3 762.7L592.1 762.5L594.9 762.3L597.6 762L600.4 761.8L603.2 761.5L606 761.2L608.7 760.9L611.5 760.6L611.8 760.5L614.3 760.2L617 759.8L619.8 759.3L622.6 758.9L625.3 758.5L628.1 758L628.5 758L630.9 757.5L633.7 757L636.4 756.5L639.2 755.9L641.7 755.4L642 755.4L644.7 754.7L647.5 754.1M647.5 874.3L644.7 874.5L642 874.8L641.1 874.9L639.2 875.1L636.4 875.4L633.7 875.8L630.9 876.1L628.1 876.5L625.3 876.9L622.6 877.3L622 877.4L619.8 877.8L617 878.3L614.3 878.8L611.5 879.3L608.7 879.8L607.9 879.9L606 880.3L603.2 880.9L600.4 881.5L597.6 882.1L596 882.5L594.9 882.8L592.1 883.4L589.3 884.1L586.6 884.8L585.6 885L583.8 885.5L581 886.3L578.3 887L576.2 887.6L575.5 887.8L572.7 888.6L569.9 889.4L567.4 890.1L567.2 890.2L564.4 891.1L561.6 891.9L559.2 892.6L558.9 892.8L556.1 893.7L553.3 894.6L551.5 895.2L550.6 895.5L547.8 896.5L545 897.4L544.1 897.7L542.2 898.4L539.5 899.4L536.9 900.3L536.7 900.3L533.9 901.4L531.2 902.4L530 902.8L528.4 903.4L525.6 904.5L523.3 905.4L522.9 905.5L520.1 906.6L517.3 907.7L516.8 907.9L514.6 908.8L511.8 909.9L510.5 910.4L509 911L506.2 912.2L504.2 913L503.5 913.3L500.7 914.5L498.1 915.5L497.9 915.6L495.2 916.8L492.4 917.9L492.1 918.1L489.6 919.2L486.9 920.3L486.2 920.6" fill="none" stroke="#000" stroke-width="1.05"/>
<path d="M262.5 735.3L265.3 736L268 736.7L270.8 737.5L271.4 737.6L273.6 738.2L276.3 738.9L279.1 739.7L281 740.2L281.9 740.4L284.7 741.1L287.4 741.9L290.2 742.6L290.6 742.7L293 743.4L295.7 744.1L298.5 744.8L300.1 745.3L301.3 745.6L304 746.3L306.8 747.1L309.5 747.8L309.6 747.8L312.4 748.5L315.1 749.3L317.9 750L319 750.4L320.7 750.8L323.4 751.5L326.2 752.3L328.4 752.9L329 753.1L331.7 753.8L334.5 754.5L337.3 755.3L337.7 755.4L340.1 756.1L342.8 756.8L345.6 757.6L346.9 758L348.4 758.4L351.1 759.1L353.9 759.9L356.1 760.5L356.7 760.7L359.4 761.4L362.2 762.2L365 763L365.2 763.1L367.8 763.8L370.5 764.5L373.3 765.3L374.2 765.6L376.1 766.1L378.8 766.9L381.6 767.7L383.1 768.1L384.4 768.5L387.1 769.3L389.9 770.1L391.9 770.7L392.7 770.9L395.4 771.7L398.2 772.5L400.5 773.2L401 773.4L403.8 774.2L406.5 775L409.1 775.8L409.3 775.8L412.1 776.6L414.8 777.5L417.5 778.3L417.6 778.4L420.4 779.2L423.1 780L425.7 780.8L425.9 780.9L428.7 781.8L431.5 782.6L433.8 783.4L434.2 783.5L437 784.4L439.8 785.3L441.6 785.9L442.5 786.2L445.3 787.1L448.1 788.1L449.3 788.5L450.8 789L453.6 789.9L456.4 790.9L456.6 791L459.2 791.9L461.9 792.9L463.8 793.5L464.7 793.9L467.5 794.9L470.2 796L470.6 796.1L473 797L475.8 798.1L477.1 798.6L478.5 799.2L481.3 800.3L483.3 801.2L484.1 801.5L486.9 802.7L489 803.7L489.6 804L492.4 805.3L494.4 806.3L495.2 806.6L497.9 808.1L499.4 808.8L500.7 809.6L503.5 811.1L503.8 811.3L506.2 812.9L507.8 813.9L509 814.7L511.3 816.4L511.8 816.8L514.3 819L514.6 819.2L516.8 821.5L517.3 822.2L518.8 824L520.1 826.3L520.3 826.6L521.4 829.1L521.9 831.7L522.1 834.2L521.9 836.7L521.3 839.3L520.4 841.8L520.1 842.4L519.2 844.4L517.7 846.9L517.3 847.4L516 849.5L514.6 851.2L514 852L511.8 854.5L511.8 854.5L509.4 857.1L509 857.5L506.9 859.6L506.2 860.3L504.3 862.2L503.5 862.8L501.4 864.7L500.7 865.3L498.5 867.2L497.9 867.7L495.4 869.8L495.2 870L492.4 872.2L492.3 872.3L489.6 874.4L489 874.9L486.9 876.5L485.7 877.4L484.1 878.6L482.3 879.9L481.3 880.7L478.8 882.5L478.5 882.7L475.8 884.7L475.3 885L473 886.6L471.7 887.6L470.2 888.6L468 890.1L467.5 890.5L464.7 892.4L464.3 892.6L461.9 894.3L460.6 895.2L459.2 896.1L456.8 897.7L456.4 898L453.6 899.8L452.9 900.3L450.8 901.7L449.1 902.8L448.1 903.5L445.3 905.3L445.2 905.4L442.5 907.1L441.3 907.9L439.8 908.8L437.3 910.4L437 910.6L434.2 912.4L433.3 913L431.5 914.2L429.3 915.5L428.7 915.9L425.9 917.6L425.3 918.1L423.1 919.4L421.2 920.6" fill="none" stroke="#000" stroke-width="1.05"/>
<path d="M262.5 754L265.3 754.9L267.1 755.4L268 755.7L270.8 756.7L273.6 757.6L274.8 758L276.3 758.6L279.1 759.5L281.9 760.4L282.3 760.5L284.7 761.4L287.4 762.4L289.7 763.1L290.2 763.2L293 764.3L295.7 765.2L296.9 765.6L298.5 766.2L301.3 767.2L304 768.1L304.2 768.1L306.8 769.2L309.6 770.2L311 770.7L312.4 771.2L315.1 772.3L317.9 773.2L318 773.2L320.7 774.4L323.4 775.4L324.5 775.8L326.2 776.5L329 777.6L331.1 778.3L331.7 778.6L334.5 779.8L337.3 780.8L337.5 780.8L340.1 782L342.8 783.1L343.5 783.4L345.6 784.3L348.4 785.5L349.5 785.9L351.1 786.7L353.9 787.9L355.2 788.5L356.7 789.2L359.4 790.4L360.8 791L362.2 791.7L365 793L366.1 793.5L367.8 794.4L370.5 795.7L371.3 796.1L373.3 797.2L376.1 798.5L376.3 798.6L378.8 800.1L380.9 801.2L381.6 801.6L384.4 803.2L385.3 803.7L387.1 804.9L389.6 806.3L389.9 806.5L392.7 808.3L393.5 808.8L395.4 810.2L397.2 811.3L398.2 812.1L400.7 813.9L401 814.1L403.8 816.3L403.9 816.4L406.5 818.7L406.8 819L409.3 821.3L409.5 821.5L412 824L412.1 824.1L414.1 826.6L414.8 827.5L416 829.1L417.6 831.3L417.8 831.7L419.2 834.2L420.4 836.5L420.5 836.7L421.4 839.3L422.1 841.8L422.7 844.4L423.1 846.9L423.1 847.2L423.2 849.5L423.2 852L423.1 852.2L422.9 854.5L422.3 857.1L421.7 859.6L420.9 862.2L420.4 863.7L420 864.7L418.8 867.2L417.7 869.8L417.6 869.9L416.1 872.3L414.8 874.7L414.7 874.9L412.9 877.4L412.1 878.7L411.2 879.9L409.4 882.5L409.3 882.6L407.3 885L406.5 885.9L405.1 887.6L403.8 889.2L402.9 890.1L401 892.3L400.7 892.6L398.3 895.2L398.2 895.3L395.8 897.7L395.4 898.1L393.2 900.3L392.7 900.8L390.5 902.8L389.9 903.4L387.8 905.4L387.1 906L385 907.9L384.4 908.5L382.2 910.4L381.6 911L379.3 913L378.8 913.4L376.4 915.5L376.1 915.8L373.4 918.1L373.3 918.1L370.5 920.4L370.3 920.6" fill="none" stroke="#000" stroke-width="1.05"/>
<path d="M262.5 809.3L265.2 811.3L265.3 811.4L268 813.6L268.4 813.9L270.8 815.8L271.6 816.4L273.6 818.2L274.5 819L276.3 820.7L277.3 821.5L279.1 823.3L279.9 824L281.9 826.1L282.3 826.6L284.6 829.1L284.7 829.2L286.8 831.7L287.4 832.5L288.8 834.2L290.2 836.2L290.6 836.7L292.3 839.3L293 840.4L293.9 841.8L295.2 844.4L295.7 845.4L296.5 846.9L297.6 849.5L298.5 852L298.5 852.1L299.3 854.5L300 857.1L300.6 859.6L300.9 862.2L301.2 864.7L301.3 866.1L301.3 867.2L301.4 869.8L301.3 872L301.3 872.3L301.1 874.9L300.7 877.4L300.3 879.9L299.8 882.5L299.1 885L298.5 886.8L298.3 887.6L297.5 890.1L296.5 892.6L295.7 894.3L295.4 895.2L294.3 897.7L293 900.2L292.9 900.3L291.7 902.8L290.2 905.3L290.2 905.4L288.7 907.9L287.4 909.9L287.1 910.4L285.5 913L284.7 914.1L283.7 915.5L281.9 918L281.8 918.1L280 920.6" fill="none" stroke="#000" stroke-width="1.05"/>
</g>
<g transform="translate(0 515.432) scale(1 1.01699)">
<text x="0.00" y="38.90" font-family="Liberation Sans" font-size="10.10" fill="#000" textLength="126.60" lengthAdjust="spacing">Design-Expert® Software</text>
<text x="0.00" y="50.40" font-family="Liberation Sans" font-size="10.10" fill="#000" textLength="109.50" lengthAdjust="spacing">Factor Coding: Actual</text>
<text x="0.00" y="62.00" font-family="Liberation Sans" font-size="10.10" fill="#000" textLength="74.80" lengthAdjust="spacing">In recovery (%)</text>
<rect x="3.5" y="66.5" width="6.5" height="30" fill="url(#gbar)" stroke="#111" stroke-width="1"/>
<text x="13.20" y="74.30" font-family="Liberation Sans" font-size="10.10" fill="#ff0000" textLength="18.30" lengthAdjust="spacing">100</text>
<text x="13.50" y="97.60" font-family="Liberation Sans" font-size="10.10" fill="#0000ff" textLength="12.30" lengthAdjust="spacing">14</text>
<text x="0.00" y="121.20" font-family="Liberation Sans" font-size="10.10" fill="#000" textLength="103.20" lengthAdjust="spacing">X1 = C: Pulp density</text>
<text x="0.00" y="132.70" font-family="Liberation Sans" font-size="10.10" fill="#000" textLength="84.60" lengthAdjust="spacing">X2 = D: Initial pH</text>
<text x="0.00" y="156.50" font-family="Liberation Sans" font-size="10.10" fill="#000" textLength="73.30" lengthAdjust="spacing">Actual Factors</text>
<text x="0.00" y="168.00" font-family="Liberation Sans" font-size="10.10" fill="#000" textLength="127.90" lengthAdjust="spacing">A: FeSO4.7H2O  = 13.05</text>
<text x="0.00" y="179.30" font-family="Liberation Sans" font-size="10.10" fill="#000" textLength="58.20" lengthAdjust="spacing">B: S = 5.00</text>
<text transform="translate(454.40 49.80) scale(1.0850 1)" font-family="Liberation Serif" font-size="19.40" text-anchor="middle" fill="#000">In recovery (%)</text>
<rect x="268.5" y="57.0" width="373.0" height="335.5" fill="none" stroke="#222" stroke-width="1"/>
<line x1="268.50" y1="392.5" x2="268.50" y2="402.0" stroke="#222" stroke-width="1"/>
<text transform="translate(268.50 419.20) scale(1.0500 1)" font-family="Liberation Serif" font-size="16.40" text-anchor="middle" fill="#000">1.0</text>
<line x1="361.75" y1="392.5" x2="361.75" y2="402.0" stroke="#222" stroke-width="1"/>
<text transform="translate(361.75 419.20) scale(1.0500 1)" font-family="Liberation Serif" font-size="16.40" text-anchor="middle" fill="#000">7.0</text>
<line x1="455.00" y1="392.5" x2="455.00" y2="402.0" stroke="#222" stroke-width="1"/>
<text transform="translate(455.00 419.20) scale(1.0500 1)" font-family="Liberation Serif" font-size="16.40" text-anchor="middle" fill="#000">13.0</text>
<line x1="548.25" y1="392.5" x2="548.25" y2="402.0" stroke="#222" stroke-width="1"/>
<text transform="translate(548.25 419.20) scale(1.0500 1)" font-family="Liberation Serif" font-size="16.40" text-anchor="middle" fill="#000">19.0</text>
<line x1="641.50" y1="392.5" x2="641.50" y2="402.0" stroke="#222" stroke-width="1"/>
<text transform="translate(641.50 419.20) scale(1.0500 1)" font-family="Liberation Serif" font-size="16.40" text-anchor="middle" fill="#000">25.0</text>
<line x1="258.5" y1="392.50" x2="268.5" y2="392.50" stroke="#222" stroke-width="1"/>
<text transform="translate(254.30 397.60) scale(1.0500 1)" font-family="Liberation Serif" font-size="16.40" text-anchor="end" fill="#000">1.0</text>
<line x1="258.5" y1="325.40" x2="268.5" y2="325.40" stroke="#222" stroke-width="1"/>
<text transform="translate(254.30 330.50) scale(1.0500 1)" font-family="Liberation Serif" font-size="16.40" text-anchor="end" fill="#000">1.6</text>
<line x1="258.5" y1="258.30" x2="268.5" y2="258.30" stroke="#222" stroke-width="1"/>
<text transform="translate(254.30 263.40) scale(1.0500 1)" font-family="Liberation Serif" font-size="16.40" text-anchor="end" fill="#000">2.2</text>
<line x1="258.5" y1="191.20" x2="268.5" y2="191.20" stroke="#222" stroke-width="1"/>
<text transform="translate(254.30 196.30) scale(1.0500 1)" font-family="Liberation Serif" font-size="16.40" text-anchor="end" fill="#000">2.8</text>
<line x1="258.5" y1="124.10" x2="268.5" y2="124.10" stroke="#222" stroke-width="1"/>
<text transform="translate(254.30 129.20) scale(1.0500 1)" font-family="Liberation Serif" font-size="16.40" text-anchor="end" fill="#000">3.4</text>
<line x1="258.5" y1="57.00" x2="268.5" y2="57.00" stroke="#222" stroke-width="1"/>
<text transform="translate(254.30 62.10) scale(1.0500 1)" font-family="Liberation Serif" font-size="16.40" text-anchor="end" fill="#000">4.0</text>
<text transform="translate(454.65 465.90) scale(1.0800 1)" font-family="Liberation Serif" font-size="20.50" text-anchor="middle" fill="#000">C: Pulp density (g/L)</text>
<text transform="translate(210.6 224) scale(1.13 1) rotate(-90)" font-family="Liberation Serif" font-size="20.3" text-anchor="middle">D: Initial pH</text>
</g>
<rect x="454.50" y="584.90" width="16.60" height="14.00" fill="#fff" stroke="#1a1a1a" stroke-width="1"/>
<text x="457.40" y="596.55" font-family="Liberation Serif" font-size="13.3" textLength="12.7" lengthAdjust="spacingAndGlyphs" stroke="#000" stroke-width="0.35">47</text>
<rect x="451.10" y="617.20" width="16.60" height="14.00" fill="#fff" stroke="#1a1a1a" stroke-width="1"/>
<text x="454.00" y="628.85" font-family="Liberation Serif" font-size="13.3" textLength="12.7" lengthAdjust="spacingAndGlyphs" stroke="#000" stroke-width="0.35">58</text>
<rect x="448.70" y="651.40" width="16.60" height="14.00" fill="#fff" stroke="#1a1a1a" stroke-width="1"/>
<text x="451.60" y="663.05" font-family="Liberation Serif" font-size="13.3" textLength="12.7" lengthAdjust="spacingAndGlyphs" stroke="#000" stroke-width="0.35">68</text>
<rect x="446.45" y="678.45" width="16.60" height="14.00" fill="#fff" stroke="#1a1a1a" stroke-width="1"/>
<text x="449.35" y="690.10" font-family="Liberation Serif" font-size="13.3" textLength="12.7" lengthAdjust="spacingAndGlyphs" stroke="#000" stroke-width="0.35">74</text>
<rect x="440.70" y="706.45" width="16.60" height="14.00" fill="#fff" stroke="#1a1a1a" stroke-width="1"/>
<text x="443.60" y="718.10" font-family="Liberation Serif" font-size="13.3" textLength="12.7" lengthAdjust="spacingAndGlyphs" stroke="#000" stroke-width="0.35">80</text>
<rect x="437.30" y="739.40" width="16.60" height="14.00" fill="#fff" stroke="#1a1a1a" stroke-width="1"/>
<text x="440.20" y="751.05" font-family="Liberation Serif" font-size="13.3" textLength="12.7" lengthAdjust="spacingAndGlyphs" stroke="#000" stroke-width="0.35">85</text>
<rect x="465.20" y="783.05" width="16.60" height="14.00" fill="#fff" stroke="#1a1a1a" stroke-width="1"/>
<text x="468.10" y="794.70" font-family="Liberation Serif" font-size="13.3" textLength="12.7" lengthAdjust="spacingAndGlyphs" stroke="#000" stroke-width="0.35">89</text>
<rect x="387.45" y="794.80" width="16.60" height="14.00" fill="#fff" stroke="#1a1a1a" stroke-width="1"/>
<text x="390.35" y="806.45" font-family="Liberation Serif" font-size="13.3" textLength="12.7" lengthAdjust="spacingAndGlyphs" stroke="#000" stroke-width="0.35">93</text>
<rect x="289.55" y="845.90" width="23.00" height="14.00" fill="#fff" stroke="#1a1a1a" stroke-width="1"/>
<text x="293.15" y="857.55" font-family="Liberation Serif" font-size="13.3" textLength="18.4" lengthAdjust="spacingAndGlyphs" stroke="#000" stroke-width="0.35">100</text>
<rect x="557.95" y="876.10" width="16.60" height="14.00" fill="#fff" stroke="#1a1a1a" stroke-width="1"/>
<text x="560.85" y="887.75" font-family="Liberation Serif" font-size="13.3" textLength="12.7" lengthAdjust="spacingAndGlyphs" stroke="#000" stroke-width="0.35">85</text>
<clipPath id="clipc"><rect x="268.5" y="1114.0" width="373.0" height="372.5"/></clipPath>
<g clip-path="url(#clipc)">
<path d="M273.6 1109.7L274.8 1108L276.3 1108L279.1 1108L281.9 1108L284.7 1108L287.4 1108L290.2 1108L293 1108L295.7 1108L298.5 1108L301.3 1108L304 1108L306.8 1108L309.6 1108L312.4 1108L315.1 1108L317.9 1108L320.7 1108L323.4 1108L326.2 1108L327.7 1108L326.2 1109.8L325.4 1110.8L323.4 1113.1L323.1 1113.5L320.8 1116.3L320.7 1116.5L318.6 1119.1L317.9 1120L316.4 1121.8L315.1 1123.5L314.3 1124.6L312.4 1127.1L312.2 1127.4L310.1 1130.1L309.6 1130.8L308.1 1132.9L306.8 1134.6L306.1 1135.7L304.1 1138.4L304 1138.5L302.1 1141.2L301.3 1142.4L300.2 1144L298.5 1146.5L298.4 1146.7L296.5 1149.5L295.7 1150.6L294.7 1152.3L293 1154.9L292.9 1155L291.1 1157.8L290.2 1159.2L289.3 1160.6L287.6 1163.3L287.4 1163.7L285.9 1166.1L284.7 1168.2L284.3 1168.9L282.6 1171.6L281.9 1172.9L281 1174.4L279.4 1177.2L279.1 1177.7L277.8 1179.9L276.3 1182.6L276.3 1182.7L274.8 1185.5L273.6 1187.7L273.3 1188.2L271.8 1191L270.8 1192.9L270.4 1193.8L268.9 1196.5L268 1198.3L267.5 1199.3L266.1 1202.1L265.3 1203.8L264.8 1204.8L263.4 1207.6L262.5 1209.5L262.5 1207.6L262.5 1204.8L262.5 1202.1L262.5 1199.3L262.5 1196.5L262.5 1193.8L262.5 1191L262.5 1188.2L262.5 1185.5L262.5 1182.7L262.5 1179.9L262.5 1177.2L262.5 1174.4L262.5 1171.6L262.5 1168.9L262.5 1166.1L262.5 1163.3L262.5 1160.6L262.5 1157.8L262.5 1155L262.5 1152.3L262.5 1149.5L262.5 1146.7L262.5 1144L262.5 1141.2L262.5 1138.4L262.5 1135.7L262.5 1132.9L262.5 1130.1L262.5 1127.4L262.5 1126.2L263.6 1124.6L265.3 1122L265.4 1121.8L267.2 1119.1L268 1117.8L269.1 1116.3L270.8 1113.7L270.9 1113.5L272.8 1110.8Z" fill="#0000ff"/>
<path d="M326.2 1109.8L327.7 1108L329 1108L331.7 1108L334.5 1108L337.3 1108L340.1 1108L342.8 1108L345.6 1108L348.4 1108L351.1 1108L353.9 1108L356.7 1108L359.4 1108L362.2 1108L365 1108L367.8 1108L370.4 1108L367.8 1110.6L367.6 1110.8L365 1113.4L364.9 1113.5L362.2 1116.3L362.2 1116.3L359.5 1119.1L359.4 1119.2L357 1121.8L356.7 1122.1L354.4 1124.6L353.9 1125.2L352 1127.4L351.1 1128.3L349.5 1130.1L348.4 1131.5L347.2 1132.9L345.6 1134.7L344.8 1135.7L342.8 1138L342.5 1138.4L340.2 1141.2L340.1 1141.4L338 1144L337.3 1144.9L335.9 1146.7L334.5 1148.5L333.7 1149.5L331.7 1152.1L331.6 1152.3L329.6 1155L329 1155.8L327.5 1157.8L326.2 1159.6L325.5 1160.6L323.6 1163.3L323.4 1163.5L321.7 1166.1L320.7 1167.5L319.8 1168.9L317.9 1171.6L317.9 1171.6L316.1 1174.4L315.1 1175.9L314.3 1177.2L312.5 1179.9L312.4 1180.2L310.8 1182.7L309.6 1184.6L309.1 1185.5L307.4 1188.2L306.8 1189.2L305.8 1191L304.1 1193.8L304 1193.9L302.5 1196.5L301.3 1198.7L301 1199.3L299.4 1202.1L298.5 1203.7L297.9 1204.8L296.4 1207.6L295.7 1208.8L295 1210.3L293.5 1213.1L293 1214.1L292.1 1215.9L290.7 1218.6L290.2 1219.6L289.3 1221.4L288 1224.2L287.4 1225.3L286.7 1226.9L285.3 1229.7L284.7 1231.2L284.1 1232.5L282.8 1235.2L281.9 1237.3L281.6 1238L280.4 1240.8L279.1 1243.5L279.1 1243.6L278 1246.3L276.8 1249.1L276.3 1250.3L275.7 1251.8L274.6 1254.6L273.6 1257.2L273.5 1257.4L272.5 1260.1L271.4 1262.9L270.8 1264.4L270.4 1265.7L269.4 1268.4L268.4 1271.2L268 1272.1L267.4 1274L266.5 1276.7L265.5 1279.5L265.3 1280.2L264.6 1282.3L263.7 1285L262.8 1287.8L262.5 1288.8L262.5 1287.8L262.5 1285L262.5 1282.3L262.5 1279.5L262.5 1276.7L262.5 1274L262.5 1271.2L262.5 1268.4L262.5 1265.7L262.5 1262.9L262.5 1260.1L262.5 1257.4L262.5 1254.6L262.5 1251.8L262.5 1249.1L262.5 1246.3L262.5 1243.5L262.5 1240.8L262.5 1238L262.5 1235.2L262.5 1232.5L262.5 1229.7L262.5 1226.9L262.5 1224.2L262.5 1221.4L262.5 1218.6L262.5 1215.9L262.5 1213.1L262.5 1210.3L262.5 1209.5L263.4 1207.6L264.8 1204.8L265.3 1203.8L266.1 1202.1L267.5 1199.3L268 1198.3L268.9 1196.5L270.4 1193.8L270.8 1192.9L271.8 1191L273.3 1188.2L273.6 1187.7L274.8 1185.5L276.3 1182.7L276.3 1182.6L277.8 1179.9L279.1 1177.7L279.4 1177.2L281 1174.4L281.9 1172.9L282.6 1171.6L284.3 1168.9L284.7 1168.2L285.9 1166.1L287.4 1163.7L287.6 1163.3L289.3 1160.6L290.2 1159.2L291.1 1157.8L292.9 1155L293 1154.9L294.7 1152.3L295.7 1150.6L296.5 1149.5L298.4 1146.7L298.5 1146.5L300.2 1144L301.3 1142.4L302.1 1141.2L304 1138.5L304.1 1138.4L306.1 1135.7L306.8 1134.6L308.1 1132.9L309.6 1130.8L310.1 1130.1L312.2 1127.4L312.4 1127.1L314.3 1124.6L315.1 1123.5L316.4 1121.8L317.9 1120L318.6 1119.1L320.7 1116.5L320.8 1116.3L323.1 1113.5L323.4 1113.1L325.4 1110.8Z" fill="#0000ff"/>
<path d="M367.8 1110.6L370.4 1108L370.5 1108L373.3 1108L376.1 1108L378.8 1108L381.6 1108L384.4 1108L387.1 1108L389.9 1108L392.7 1108L395.4 1108L398.2 1108L401 1108L403.8 1108L406.5 1108L409.3 1108L412.1 1108L414.8 1108L417.6 1108L420.4 1108L423.1 1108L425.9 1108L428.7 1108L431.5 1108L434.2 1108L437 1108L439.8 1108L442.5 1108L445.3 1108L448.1 1108L450.8 1108L453.6 1108L456.4 1108L459.2 1108L461.9 1108L464.7 1108L467.5 1108L470.2 1108L473 1108L474.7 1108L473 1108.8L470.2 1110L468.7 1110.8L467.5 1111.4L464.7 1112.7L463.1 1113.5L461.9 1114.1L459.2 1115.6L457.9 1116.3L456.4 1117.1L453.6 1118.7L452.9 1119.1L450.8 1120.3L448.3 1121.8L448.1 1121.9L445.3 1123.6L443.8 1124.6L442.5 1125.4L439.8 1127.2L439.5 1127.4L437 1129L435.4 1130.1L434.2 1131L431.5 1132.9L431.5 1132.9L428.7 1134.9L427.7 1135.7L425.9 1137L424.1 1138.4L423.1 1139.1L420.6 1141.2L420.4 1141.3L417.6 1143.6L417.1 1144L414.8 1145.9L413.8 1146.7L412.1 1148.2L410.6 1149.5L409.3 1150.7L407.5 1152.3L406.5 1153.2L404.5 1155L403.8 1155.7L401.6 1157.8L401 1158.4L398.7 1160.6L398.2 1161.1L396 1163.3L395.4 1163.8L393.2 1166.1L392.7 1166.7L390.6 1168.9L389.9 1169.6L388 1171.6L387.1 1172.6L385.5 1174.4L384.4 1175.7L383.1 1177.2L381.6 1178.8L380.7 1179.9L378.8 1182.1L378.3 1182.7L376.1 1185.4L376.1 1185.5L373.8 1188.2L373.3 1188.9L371.6 1191L370.5 1192.4L369.5 1193.8L367.8 1196L367.4 1196.5L365.3 1199.3L365 1199.8L363.3 1202.1L362.2 1203.6L361.4 1204.8L359.5 1207.6L359.4 1207.6L357.6 1210.3L356.7 1211.7L355.7 1213.1L353.9 1215.9L353.9 1215.9L352.2 1218.6L351.1 1220.3L350.4 1221.4L348.7 1224.2L348.4 1224.8L347.1 1226.9L345.6 1229.5L345.5 1229.7L343.8 1232.5L342.8 1234.3L342.3 1235.2L340.8 1238L340.1 1239.3L339.3 1240.8L337.8 1243.5L337.3 1244.5L336.3 1246.3L334.9 1249.1L334.5 1249.9L333.6 1251.8L332.2 1254.6L331.7 1255.6L330.9 1257.4L329.6 1260.1L329 1261.5L328.3 1262.9L327.1 1265.7L326.2 1267.7L325.9 1268.4L324.7 1271.2L323.5 1274L323.4 1274.2L322.4 1276.7L321.3 1279.5L320.7 1281L320.2 1282.3L319.1 1285L318.1 1287.8L317.9 1288.3L317 1290.6L316.1 1293.3L315.1 1296L315.1 1296.1L314.1 1298.9L313.2 1301.6L312.4 1304.3L312.3 1304.4L311.4 1307.2L310.6 1309.9L309.8 1312.7L309.6 1313.3L308.9 1315.5L308.2 1318.2L307.4 1321L306.8 1323.2L306.7 1323.8L305.9 1326.5L305.2 1329.3L304.5 1332.1L304 1334.2L303.9 1334.8L303.2 1337.6L302.6 1340.4L302 1343.1L301.5 1345.9L301.3 1346.8L300.9 1348.7L300.4 1351.4L299.8 1354.2L299.3 1357L298.9 1359.7L298.5 1362.1L298.4 1362.5L298 1365.3L297.6 1368L297.2 1370.8L296.8 1373.6L296.4 1376.3L296.1 1379.1L295.8 1381.9L295.7 1382.6L295.5 1384.6L295.2 1387.4L295 1390.2L294.7 1392.9L294.5 1395.7L294.3 1398.4L294.1 1401.2L294 1404L293.9 1406.7L293.7 1409.5L293.6 1412.3L293.6 1415L293.5 1417.8L293.5 1420.6L293.5 1423.3L293.5 1426.1L293.5 1428.9L293.5 1431.6L293.6 1434.4L293.7 1437.2L293.8 1439.9L293.9 1442.7L294.1 1445.5L294.2 1448.2L294.4 1451L294.6 1453.8L294.9 1456.5L295.1 1459.3L295.4 1462.1L295.7 1464.8L295.7 1465.2L296 1467.6L296.3 1470.4L296.7 1473.1L297.1 1475.9L297.5 1478.7L297.9 1481.4L298.4 1484.2L298.5 1485L298.8 1487L299.3 1489.7L299.8 1492.5L298.5 1492.5L295.7 1492.5L293 1492.5L290.2 1492.5L287.4 1492.5L284.7 1492.5L281.9 1492.5L279.1 1492.5L276.3 1492.5L273.6 1492.5L270.8 1492.5L268 1492.5L265.3 1492.5L262.5 1492.5L262.5 1489.7L262.5 1487L262.5 1484.2L262.5 1481.4L262.5 1478.7L262.5 1475.9L262.5 1473.1L262.5 1470.4L262.5 1467.6L262.5 1464.8L262.5 1462.1L262.5 1459.3L262.5 1456.5L262.5 1453.8L262.5 1451L262.5 1448.2L262.5 1445.5L262.5 1442.7L262.5 1439.9L262.5 1437.2L262.5 1434.4L262.5 1431.6L262.5 1428.9L262.5 1426.1L262.5 1423.3L262.5 1420.6L262.5 1417.8L262.5 1415L262.5 1412.3L262.5 1409.5L262.5 1406.7L262.5 1404L262.5 1401.2L262.5 1398.4L262.5 1395.7L262.5 1392.9L262.5 1390.2L262.5 1387.4L262.5 1384.6L262.5 1381.9L262.5 1379.1L262.5 1376.3L262.5 1373.6L262.5 1370.8L262.5 1368L262.5 1365.3L262.5 1362.5L262.5 1359.7L262.5 1357L262.5 1354.2L262.5 1351.4L262.5 1348.7L262.5 1345.9L262.5 1343.1L262.5 1340.4L262.5 1337.6L262.5 1334.8L262.5 1332.1L262.5 1329.3L262.5 1326.5L262.5 1323.8L262.5 1321L262.5 1318.2L262.5 1315.5L262.5 1312.7L262.5 1309.9L262.5 1307.2L262.5 1304.4L262.5 1301.6L262.5 1298.9L262.5 1296.1L262.5 1293.3L262.5 1290.6L262.5 1288.8L262.8 1287.8L263.7 1285L264.6 1282.3L265.3 1280.2L265.5 1279.5L266.5 1276.7L267.4 1274L268 1272.1L268.4 1271.2L269.4 1268.4L270.4 1265.7L270.8 1264.4L271.4 1262.9L272.5 1260.1L273.5 1257.4L273.6 1257.2L274.6 1254.6L275.7 1251.8L276.3 1250.3L276.8 1249.1L278 1246.3L279.1 1243.6L279.1 1243.5L280.4 1240.8L281.6 1238L281.9 1237.3L282.8 1235.2L284.1 1232.5L284.7 1231.2L285.3 1229.7L286.7 1226.9L287.4 1225.3L288 1224.2L289.3 1221.4L290.2 1219.6L290.7 1218.6L292.1 1215.9L293 1214.1L293.5 1213.1L295 1210.3L295.7 1208.8L296.4 1207.6L297.9 1204.8L298.5 1203.7L299.4 1202.1L301 1199.3L301.3 1198.7L302.5 1196.5L304 1193.9L304.1 1193.8L305.8 1191L306.8 1189.2L307.4 1188.2L309.1 1185.5L309.6 1184.6L310.8 1182.7L312.4 1180.2L312.5 1179.9L314.3 1177.2L315.1 1175.9L316.1 1174.4L317.9 1171.6L317.9 1171.6L319.8 1168.9L320.7 1167.5L321.7 1166.1L323.4 1163.5L323.6 1163.3L325.5 1160.6L326.2 1159.6L327.5 1157.8L329 1155.8L329.6 1155L331.6 1152.3L331.7 1152.1L333.7 1149.5L334.5 1148.5L335.9 1146.7L337.3 1144.9L338 1144L340.1 1141.4L340.2 1141.2L342.5 1138.4L342.8 1138L344.8 1135.7L345.6 1134.7L347.2 1132.9L348.4 1131.5L349.5 1130.1L351.1 1128.3L352 1127.4L353.9 1125.2L354.4 1124.6L356.7 1122.1L357 1121.8L359.4 1119.2L359.5 1119.1L362.2 1116.3L362.2 1116.3L364.9 1113.5L365 1113.4L367.6 1110.8ZM636.4 1108L639.2 1108L642 1108L644.7 1108L647.5 1108L647.5 1110.8L647.5 1113.5L647.5 1115L645 1113.5L644.7 1113.4L642 1111.9L639.9 1110.8L639.2 1110.4L636.4 1109L634.3 1108Z" fill="#00fff3"/>
<path d="M470.2 1110L473 1108.8L474.7 1108L475.8 1108L478.5 1108L481.3 1108L484.1 1108L486.9 1108L489.6 1108L492.4 1108L495.2 1108L497.9 1108L500.7 1108L503.5 1108L506.2 1108L509 1108L511.8 1108L514.6 1108L517.3 1108L520.1 1108L522.9 1108L525.6 1108L528.4 1108L531.2 1108L533.9 1108L536.7 1108L539.5 1108L542.2 1108L545 1108L547.8 1108L550.6 1108L553.3 1108L556.1 1108L558.9 1108L561.6 1108L564.4 1108L567.2 1108L569.9 1108L572.7 1108L575.5 1108L578.3 1108L581 1108L583.8 1108L586.6 1108L589.3 1108L592.1 1108L594.9 1108L597.6 1108L600.4 1108L603.2 1108L606 1108L608.7 1108L611.5 1108L614.3 1108L617 1108L619.8 1108L622.6 1108L625.3 1108L628.1 1108L630.9 1108L633.7 1108L634.3 1108L636.4 1109L639.2 1110.4L639.9 1110.8L642 1111.9L644.7 1113.4L645 1113.5L647.5 1115L647.5 1116.3L647.5 1119.1L647.5 1121.8L647.5 1124.6L647.5 1127.4L647.5 1130.1L647.5 1132.9L647.5 1135.7L647.5 1138.4L647.5 1141.2L647.5 1144L647.5 1146.7L647.5 1149.5L647.5 1152.3L647.5 1155L647.5 1157.8L647.5 1160.6L647.5 1163.3L647.5 1165.6L644.7 1163.6L644.4 1163.3L642 1161.6L640.4 1160.6L639.2 1159.7L636.4 1157.9L636.2 1157.8L633.7 1156.2L631.6 1155L630.9 1154.6L628.1 1153L626.8 1152.3L625.3 1151.5L622.6 1150.1L621.4 1149.5L619.8 1148.7L617 1147.4L615.5 1146.7L614.3 1146.2L611.5 1145L608.9 1144L608.7 1143.9L606 1142.8L603.2 1141.8L601.2 1141.2L600.4 1140.9L597.6 1140L594.9 1139.2L592.1 1138.5L592 1138.4L589.3 1137.8L586.6 1137.1L583.8 1136.5L581 1136L579.3 1135.7L578.3 1135.5L575.5 1135L572.7 1134.6L569.9 1134.3L567.2 1134L564.4 1133.8L561.6 1133.6L558.9 1133.4L556.1 1133.4L553.3 1133.3L550.6 1133.3L547.8 1133.4L545 1133.5L542.2 1133.6L539.5 1133.8L536.7 1134.1L533.9 1134.4L531.2 1134.7L528.4 1135.1L525.6 1135.6L525.1 1135.7L522.9 1136L520.1 1136.6L517.3 1137.2L514.6 1137.8L512 1138.4L511.8 1138.5L509 1139.2L506.2 1140L503.5 1140.8L502.2 1141.2L500.7 1141.7L497.9 1142.6L495.2 1143.6L494.1 1144L492.4 1144.6L489.6 1145.7L487 1146.7L486.9 1146.8L484.1 1148L481.3 1149.2L480.7 1149.5L478.5 1150.5L475.8 1151.8L474.9 1152.3L473 1153.2L470.2 1154.6L469.5 1155L467.5 1156.1L464.7 1157.7L464.5 1157.8L461.9 1159.3L459.8 1160.6L459.2 1160.9L456.4 1162.7L455.4 1163.3L453.6 1164.4L451.2 1166.1L450.8 1166.3L448.1 1168.2L447.1 1168.9L445.3 1170.2L443.3 1171.6L442.5 1172.2L439.8 1174.3L439.6 1174.4L437 1176.4L436.1 1177.2L434.2 1178.7L432.7 1179.9L431.5 1181L429.5 1182.7L428.7 1183.3L426.3 1185.5L425.9 1185.8L423.3 1188.2L423.1 1188.3L420.4 1190.9L420.3 1191L417.6 1193.6L417.4 1193.8L414.8 1196.4L414.7 1196.5L412.1 1199.2L412 1199.3L409.4 1202.1L409.3 1202.1L406.9 1204.8L406.5 1205.2L404.4 1207.6L403.8 1208.3L402 1210.3L401 1211.5L399.7 1213.1L398.2 1214.9L397.4 1215.9L395.4 1218.3L395.2 1218.6L393 1221.4L392.7 1221.9L390.9 1224.2L389.9 1225.5L388.9 1226.9L387.1 1229.3L386.9 1229.7L384.9 1232.5L384.4 1233.3L383 1235.2L381.6 1237.3L381.2 1238L379.3 1240.8L378.8 1241.6L377.6 1243.5L376.1 1246L375.9 1246.3L374.2 1249.1L373.3 1250.5L372.5 1251.8L370.9 1254.6L370.5 1255.3L369.3 1257.4L367.8 1260.1L367.8 1260.3L366.3 1262.9L365 1265.4L364.9 1265.7L363.4 1268.4L362.2 1270.9L362 1271.2L360.7 1274L359.4 1276.6L359.4 1276.7L358.1 1279.5L356.8 1282.3L356.7 1282.6L355.6 1285L354.4 1287.8L353.9 1288.9L353.2 1290.6L352.1 1293.3L351.1 1295.7L351 1296.1L349.9 1298.9L348.8 1301.6L348.4 1302.9L347.8 1304.4L346.8 1307.2L345.8 1309.9L345.6 1310.7L344.9 1312.7L344 1315.5L343.1 1318.2L342.8 1319.1L342.2 1321L341.4 1323.8L340.6 1326.5L340.1 1328.4L339.8 1329.3L339 1332.1L338.3 1334.8L337.6 1337.6L337.3 1338.9L336.9 1340.4L336.3 1343.1L335.6 1345.9L335 1348.7L334.5 1351L334.4 1351.4L333.9 1354.2L333.3 1357L332.8 1359.7L332.3 1362.5L331.8 1365.3L331.7 1365.9L331.4 1368L331 1370.8L330.6 1373.6L330.2 1376.3L329.8 1379.1L329.5 1381.9L329.2 1384.6L329 1387L328.9 1387.4L328.7 1390.2L328.4 1392.9L328.2 1395.7L328 1398.4L327.9 1401.2L327.7 1404L327.6 1406.7L327.5 1409.5L327.4 1412.3L327.4 1415L327.4 1417.8L327.4 1420.6L327.4 1423.3L327.4 1426.1L327.5 1428.9L327.6 1431.6L327.7 1434.4L327.8 1437.2L328 1439.9L328.2 1442.7L328.4 1445.5L328.6 1448.2L328.9 1451L329 1451.8L329.2 1453.8L329.5 1456.5L329.8 1459.3L330.2 1462.1L330.6 1464.8L331 1467.6L331.4 1470.4L331.7 1472.2L331.9 1473.1L332.4 1475.9L332.9 1478.7L333.5 1481.4L334.1 1484.2L334.5 1486.3L334.7 1487L335.3 1489.7L336 1492.5L334.5 1492.5L331.7 1492.5L329 1492.5L326.2 1492.5L323.4 1492.5L320.7 1492.5L317.9 1492.5L315.1 1492.5L312.4 1492.5L309.6 1492.5L306.8 1492.5L304 1492.5L301.3 1492.5L299.8 1492.5L299.3 1489.7L298.8 1487L298.5 1485L298.4 1484.2L297.9 1481.4L297.5 1478.7L297.1 1475.9L296.7 1473.1L296.3 1470.4L296 1467.6L295.7 1465.2L295.7 1464.8L295.4 1462.1L295.1 1459.3L294.9 1456.5L294.6 1453.8L294.4 1451L294.2 1448.2L294.1 1445.5L293.9 1442.7L293.8 1439.9L293.7 1437.2L293.6 1434.4L293.5 1431.6L293.5 1428.9L293.5 1426.1L293.5 1423.3L293.5 1420.6L293.5 1417.8L293.6 1415L293.6 1412.3L293.7 1409.5L293.9 1406.7L294 1404L294.1 1401.2L294.3 1398.4L294.5 1395.7L294.7 1392.9L295 1390.2L295.2 1387.4L295.5 1384.6L295.7 1382.6L295.8 1381.9L296.1 1379.1L296.4 1376.3L296.8 1373.6L297.2 1370.8L297.6 1368L298 1365.3L298.4 1362.5L298.5 1362.1L298.9 1359.7L299.3 1357L299.8 1354.2L300.4 1351.4L300.9 1348.7L301.3 1346.8L301.5 1345.9L302 1343.1L302.6 1340.4L303.2 1337.6L303.9 1334.8L304 1334.2L304.5 1332.1L305.2 1329.3L305.9 1326.5L306.7 1323.8L306.8 1323.2L307.4 1321L308.2 1318.2L308.9 1315.5L309.6 1313.3L309.8 1312.7L310.6 1309.9L311.4 1307.2L312.3 1304.4L312.4 1304.3L313.2 1301.6L314.1 1298.9L315.1 1296.1L315.1 1296L316.1 1293.3L317 1290.6L317.9 1288.3L318.1 1287.8L319.1 1285L320.2 1282.3L320.7 1281L321.3 1279.5L322.4 1276.7L323.4 1274.2L323.5 1274L324.7 1271.2L325.9 1268.4L326.2 1267.7L327.1 1265.7L328.3 1262.9L329 1261.5L329.6 1260.1L330.9 1257.4L331.7 1255.6L332.2 1254.6L333.6 1251.8L334.5 1249.9L334.9 1249.1L336.3 1246.3L337.3 1244.5L337.8 1243.5L339.3 1240.8L340.1 1239.3L340.8 1238L342.3 1235.2L342.8 1234.3L343.8 1232.5L345.5 1229.7L345.6 1229.5L347.1 1226.9L348.4 1224.8L348.7 1224.2L350.4 1221.4L351.1 1220.3L352.2 1218.6L353.9 1215.9L353.9 1215.9L355.7 1213.1L356.7 1211.7L357.6 1210.3L359.4 1207.6L359.5 1207.6L361.4 1204.8L362.2 1203.6L363.3 1202.1L365 1199.8L365.3 1199.3L367.4 1196.5L367.8 1196L369.5 1193.8L370.5 1192.4L371.6 1191L373.3 1188.9L373.8 1188.2L376.1 1185.5L376.1 1185.4L378.3 1182.7L378.8 1182.1L380.7 1179.9L381.6 1178.8L383.1 1177.2L384.4 1175.7L385.5 1174.4L387.1 1172.6L388 1171.6L389.9 1169.6L390.6 1168.9L392.7 1166.7L393.2 1166.1L395.4 1163.8L396 1163.3L398.2 1161.1L398.7 1160.6L401 1158.4L401.6 1157.8L403.8 1155.7L404.5 1155L406.5 1153.2L407.5 1152.3L409.3 1150.7L410.6 1149.5L412.1 1148.2L413.8 1146.7L414.8 1145.9L417.1 1144L417.6 1143.6L420.4 1141.3L420.6 1141.2L423.1 1139.1L424.1 1138.4L425.9 1137L427.7 1135.7L428.7 1134.9L431.5 1132.9L431.5 1132.9L434.2 1131L435.4 1130.1L437 1129L439.5 1127.4L439.8 1127.2L442.5 1125.4L443.8 1124.6L445.3 1123.6L448.1 1121.9L448.3 1121.8L450.8 1120.3L452.9 1119.1L453.6 1118.7L456.4 1117.1L457.9 1116.3L459.2 1115.6L461.9 1114.1L463.1 1113.5L464.7 1112.7L467.5 1111.4L468.7 1110.8Z" fill="#06ff00"/>
<path d="M525.6 1135.6L528.4 1135.1L531.2 1134.7L533.9 1134.4L536.7 1134.1L539.5 1133.8L542.2 1133.6L545 1133.5L547.8 1133.4L550.6 1133.3L553.3 1133.3L556.1 1133.4L558.9 1133.4L561.6 1133.6L564.4 1133.8L567.2 1134L569.9 1134.3L572.7 1134.6L575.5 1135L578.3 1135.5L579.3 1135.7L581 1136L583.8 1136.5L586.6 1137.1L589.3 1137.8L592 1138.4L592.1 1138.5L594.9 1139.2L597.6 1140L600.4 1140.9L601.2 1141.2L603.2 1141.8L606 1142.8L608.7 1143.9L608.9 1144L611.5 1145L614.3 1146.2L615.5 1146.7L617 1147.4L619.8 1148.7L621.4 1149.5L622.6 1150.1L625.3 1151.5L626.8 1152.3L628.1 1153L630.9 1154.6L631.6 1155L633.7 1156.2L636.2 1157.8L636.4 1157.9L639.2 1159.7L640.4 1160.6L642 1161.6L644.4 1163.3L644.7 1163.6L647.5 1165.6L647.5 1166.1L647.5 1168.9L647.5 1171.6L647.5 1174.4L647.5 1177.2L647.5 1179.9L647.5 1182.7L647.5 1185.5L647.5 1188.2L647.5 1191L647.5 1193.8L647.5 1196.5L647.5 1199.3L647.5 1202.1L647.5 1204.8L647.5 1206.8L645.4 1204.8L644.7 1204.2L642.4 1202.1L642 1201.7L639.2 1199.3L639.2 1199.3L636.4 1197L635.8 1196.5L633.7 1194.9L632.2 1193.8L630.9 1192.8L628.4 1191L628.1 1190.8L625.3 1189L624.2 1188.2L622.6 1187.2L619.8 1185.5L619.8 1185.4L617 1183.9L614.9 1182.7L614.3 1182.3L611.5 1180.9L609.6 1179.9L608.7 1179.5L606 1178.2L603.6 1177.2L603.2 1177L600.4 1175.8L597.6 1174.7L596.7 1174.4L594.9 1173.7L592.1 1172.8L589.3 1171.9L588.5 1171.6L586.6 1171.1L583.8 1170.3L581 1169.6L578.3 1169L577.7 1168.9L575.5 1168.4L572.7 1167.9L569.9 1167.5L567.2 1167.1L564.4 1166.8L561.6 1166.5L558.9 1166.3L556.1 1166.1L556.1 1166.1L553.3 1166L550.6 1166L547.8 1166L545 1166L543.4 1166.1L542.2 1166.1L539.5 1166.3L536.7 1166.6L533.9 1166.9L531.2 1167.2L528.4 1167.6L525.6 1168.1L522.9 1168.5L521.2 1168.9L520.1 1169.1L517.3 1169.7L514.6 1170.4L511.8 1171.1L509.9 1171.6L509 1171.9L506.2 1172.7L503.5 1173.6L501.1 1174.4L500.7 1174.5L497.9 1175.6L495.2 1176.6L493.8 1177.2L492.4 1177.7L489.6 1178.9L487.4 1179.9L486.9 1180.1L484.1 1181.5L481.5 1182.7L481.3 1182.8L478.5 1184.3L476.2 1185.5L475.8 1185.7L473 1187.3L471.4 1188.2L470.2 1188.9L467.5 1190.6L466.8 1191L464.7 1192.3L462.5 1193.8L461.9 1194.1L459.2 1196L458.4 1196.5L456.4 1198L454.6 1199.3L453.6 1200L450.8 1202L450.8 1202.1L448.1 1204.3L447.4 1204.8L445.3 1206.5L444 1207.6L442.5 1208.9L440.8 1210.3L439.8 1211.3L437.7 1213.1L437 1213.8L434.7 1215.9L434.2 1216.4L431.9 1218.6L431.5 1219L429.1 1221.4L428.7 1221.8L426.4 1224.2L425.9 1224.7L423.9 1226.9L423.1 1227.7L421.4 1229.7L420.4 1230.8L418.9 1232.5L417.6 1234L416.6 1235.2L414.8 1237.3L414.3 1238L412.1 1240.8L412.1 1240.8L409.9 1243.5L409.3 1244.4L407.9 1246.3L406.5 1248.1L405.8 1249.1L403.8 1251.8L403.8 1252L402 1254.6L401 1256L400.1 1257.4L398.3 1260.1L398.2 1260.2L396.5 1262.9L395.4 1264.6L394.8 1265.7L393.1 1268.4L392.7 1269.2L391.5 1271.2L389.9 1274L389.9 1274L388.4 1276.7L387.1 1279.1L386.9 1279.5L385.5 1282.3L384.4 1284.4L384 1285L382.7 1287.8L381.6 1290L381.3 1290.6L380.1 1293.3L378.8 1295.9L378.8 1296.1L377.6 1298.9L376.3 1301.6L376.1 1302.3L375.2 1304.4L374.1 1307.2L373.3 1309.1L373 1309.9L371.9 1312.7L370.9 1315.5L370.5 1316.5L369.9 1318.2L369 1321L368 1323.8L367.8 1324.5L367.1 1326.5L366.3 1329.3L365.4 1332.1L365 1333.4L364.6 1334.8L363.8 1337.6L363.1 1340.4L362.3 1343.1L362.2 1343.5L361.6 1345.9L361 1348.7L360.3 1351.4L359.7 1354.2L359.4 1355.3L359.1 1357L358.6 1359.7L358.1 1362.5L357.5 1365.3L357 1368L356.7 1370.2L356.6 1370.8L356.2 1373.6L355.8 1376.3L355.4 1379.1L355.1 1381.9L354.8 1384.6L354.5 1387.4L354.2 1390.2L353.9 1392.9L353.9 1393.4L353.7 1395.7L353.6 1398.4L353.4 1401.2L353.3 1404L353.2 1406.7L353.1 1409.5L353.1 1412.3L353 1415L353 1417.8L353.1 1420.6L353.1 1423.3L353.2 1426.1L353.3 1428.9L353.5 1431.6L353.6 1434.4L353.8 1437.2L353.9 1438.6L354 1439.9L354.3 1442.7L354.6 1445.5L354.9 1448.2L355.2 1451L355.6 1453.8L356 1456.5L356.4 1459.3L356.7 1461L356.8 1462.1L357.4 1464.8L357.9 1467.6L358.4 1470.4L359 1473.1L359.4 1475.2L359.6 1475.9L360.3 1478.7L361 1481.4L361.7 1484.2L362.2 1486.3L362.4 1487L363.2 1489.7L364 1492.5L362.2 1492.5L359.4 1492.5L356.7 1492.5L353.9 1492.5L351.1 1492.5L348.4 1492.5L345.6 1492.5L342.8 1492.5L340.1 1492.5L337.3 1492.5L336 1492.5L335.3 1489.7L334.7 1487L334.5 1486.3L334.1 1484.2L333.5 1481.4L332.9 1478.7L332.4 1475.9L331.9 1473.1L331.7 1472.2L331.4 1470.4L331 1467.6L330.6 1464.8L330.2 1462.1L329.8 1459.3L329.5 1456.5L329.2 1453.8L329 1451.8L328.9 1451L328.6 1448.2L328.4 1445.5L328.2 1442.7L328 1439.9L327.8 1437.2L327.7 1434.4L327.6 1431.6L327.5 1428.9L327.4 1426.1L327.4 1423.3L327.4 1420.6L327.4 1417.8L327.4 1415L327.4 1412.3L327.5 1409.5L327.6 1406.7L327.7 1404L327.9 1401.2L328 1398.4L328.2 1395.7L328.4 1392.9L328.7 1390.2L328.9 1387.4L329 1387L329.2 1384.6L329.5 1381.9L329.8 1379.1L330.2 1376.3L330.6 1373.6L331 1370.8L331.4 1368L331.7 1365.9L331.8 1365.3L332.3 1362.5L332.8 1359.7L333.3 1357L333.9 1354.2L334.4 1351.4L334.5 1351L335 1348.7L335.6 1345.9L336.3 1343.1L336.9 1340.4L337.3 1338.9L337.6 1337.6L338.3 1334.8L339 1332.1L339.8 1329.3L340.1 1328.4L340.6 1326.5L341.4 1323.8L342.2 1321L342.8 1319.1L343.1 1318.2L344 1315.5L344.9 1312.7L345.6 1310.7L345.8 1309.9L346.8 1307.2L347.8 1304.4L348.4 1302.9L348.8 1301.6L349.9 1298.9L351 1296.1L351.1 1295.7L352.1 1293.3L353.2 1290.6L353.9 1288.9L354.4 1287.8L355.6 1285L356.7 1282.6L356.8 1282.3L358.1 1279.5L359.4 1276.7L359.4 1276.6L360.7 1274L362 1271.2L362.2 1270.9L363.4 1268.4L364.9 1265.7L365 1265.4L366.3 1262.9L367.8 1260.3L367.8 1260.1L369.3 1257.4L370.5 1255.3L370.9 1254.6L372.5 1251.8L373.3 1250.5L374.2 1249.1L375.9 1246.3L376.1 1246L377.6 1243.5L378.8 1241.6L379.3 1240.8L381.2 1238L381.6 1237.3L383 1235.2L384.4 1233.3L384.9 1232.5L386.9 1229.7L387.1 1229.3L388.9 1226.9L389.9 1225.5L390.9 1224.2L392.7 1221.9L393 1221.4L395.2 1218.6L395.4 1218.3L397.4 1215.9L398.2 1214.9L399.7 1213.1L401 1211.5L402 1210.3L403.8 1208.3L404.4 1207.6L406.5 1205.2L406.9 1204.8L409.3 1202.1L409.4 1202.1L412 1199.3L412.1 1199.2L414.7 1196.5L414.8 1196.4L417.4 1193.8L417.6 1193.6L420.3 1191L420.4 1190.9L423.1 1188.3L423.3 1188.2L425.9 1185.8L426.3 1185.5L428.7 1183.3L429.5 1182.7L431.5 1181L432.7 1179.9L434.2 1178.7L436.1 1177.2L437 1176.4L439.6 1174.4L439.8 1174.3L442.5 1172.2L443.3 1171.6L445.3 1170.2L447.1 1168.9L448.1 1168.2L450.8 1166.3L451.2 1166.1L453.6 1164.4L455.4 1163.3L456.4 1162.7L459.2 1160.9L459.8 1160.6L461.9 1159.3L464.5 1157.8L464.7 1157.7L467.5 1156.1L469.5 1155L470.2 1154.6L473 1153.2L474.9 1152.3L475.8 1151.8L478.5 1150.5L480.7 1149.5L481.3 1149.2L484.1 1148L486.9 1146.8L487 1146.7L489.6 1145.7L492.4 1144.6L494.1 1144L495.2 1143.6L497.9 1142.6L500.7 1141.7L502.2 1141.2L503.5 1140.8L506.2 1140L509 1139.2L511.8 1138.5L512 1138.4L514.6 1137.8L517.3 1137.2L520.1 1136.6L522.9 1136L525.1 1135.7Z" fill="#9aff00"/>
<path d="M545 1166L547.8 1166L550.6 1166L553.3 1166L556.1 1166.1L556.1 1166.1L558.9 1166.3L561.6 1166.5L564.4 1166.8L567.2 1167.1L569.9 1167.5L572.7 1167.9L575.5 1168.4L577.7 1168.9L578.3 1169L581 1169.6L583.8 1170.3L586.6 1171.1L588.5 1171.6L589.3 1171.9L592.1 1172.8L594.9 1173.7L596.7 1174.4L597.6 1174.7L600.4 1175.8L603.2 1177L603.6 1177.2L606 1178.2L608.7 1179.5L609.6 1179.9L611.5 1180.9L614.3 1182.3L614.9 1182.7L617 1183.9L619.8 1185.4L619.8 1185.5L622.6 1187.2L624.2 1188.2L625.3 1189L628.1 1190.8L628.4 1191L630.9 1192.8L632.2 1193.8L633.7 1194.9L635.8 1196.5L636.4 1197L639.2 1199.3L639.2 1199.3L642 1201.7L642.4 1202.1L644.7 1204.2L645.4 1204.8L647.5 1206.8L647.5 1207.6L647.5 1210.3L647.5 1213.1L647.5 1215.9L647.5 1218.6L647.5 1221.4L647.5 1224.2L647.5 1226.9L647.5 1229.7L647.5 1232.5L647.5 1235.2L647.5 1238L647.5 1240.8L647.5 1243.5L647.5 1246.3L647.5 1249.1L647.5 1251.8L647.5 1254.6L647.5 1257.4L647.5 1260.1L647.5 1262.9L647.5 1265.7L647.5 1266.3L647.1 1265.7L645.3 1262.9L644.7 1262.1L643.4 1260.1L642 1258.2L641.4 1257.4L639.2 1254.6L639.2 1254.6L637 1251.8L636.4 1251.1L634.7 1249.1L633.7 1247.9L632.3 1246.3L630.9 1244.8L629.7 1243.5L628.1 1242L626.9 1240.8L625.3 1239.3L624 1238L622.6 1236.7L620.9 1235.2L619.8 1234.3L617.5 1232.5L617 1232.1L614.3 1229.9L614 1229.7L611.5 1227.9L610.1 1226.9L608.7 1226L606 1224.2L605.9 1224.2L603.2 1222.5L601.3 1221.4L600.4 1220.9L597.6 1219.4L596.1 1218.6L594.9 1218L592.1 1216.7L590.1 1215.9L589.3 1215.5L586.6 1214.4L583.8 1213.4L583 1213.1L581 1212.4L578.3 1211.5L575.5 1210.7L573.9 1210.3L572.7 1210L569.9 1209.4L567.2 1208.8L564.4 1208.3L561.6 1207.9L558.9 1207.6L558.8 1207.6L556.1 1207.3L553.3 1207.1L550.6 1206.9L547.8 1206.8L545 1206.8L542.2 1206.9L539.5 1207L536.7 1207.2L533.9 1207.5L533.5 1207.6L531.2 1207.8L528.4 1208.2L525.6 1208.7L522.9 1209.2L520.1 1209.8L518 1210.3L517.3 1210.5L514.6 1211.2L511.8 1212L509 1212.9L508.4 1213.1L506.2 1213.8L503.5 1214.8L500.9 1215.9L500.7 1215.9L497.9 1217L495.2 1218.3L494.4 1218.6L492.4 1219.6L489.6 1221L488.7 1221.4L486.9 1222.4L484.1 1223.9L483.7 1224.2L481.3 1225.5L479 1226.9L478.5 1227.2L475.8 1228.9L474.6 1229.7L473 1230.8L470.6 1232.5L470.2 1232.8L467.5 1234.8L466.8 1235.2L464.7 1236.8L463.2 1238L461.9 1239L459.9 1240.8L459.2 1241.4L456.7 1243.5L456.4 1243.8L453.6 1246.3L453.6 1246.3L450.8 1248.9L450.7 1249.1L448.1 1251.7L447.9 1251.8L445.3 1254.5L445.2 1254.6L442.7 1257.4L442.5 1257.5L440.2 1260.1L439.8 1260.6L437.8 1262.9L437 1263.8L435.5 1265.7L434.2 1267.2L433.3 1268.4L431.5 1270.8L431.2 1271.2L429.1 1274L428.7 1274.5L427.1 1276.7L425.9 1278.4L425.2 1279.5L423.3 1282.3L423.1 1282.6L421.5 1285L420.4 1286.9L419.8 1287.8L418.1 1290.6L417.6 1291.4L416.5 1293.3L415 1296.1L414.8 1296.3L413.4 1298.9L412.1 1301.5L412 1301.6L410.5 1304.4L409.3 1307L409.2 1307.2L407.8 1309.9L406.6 1312.7L406.5 1312.9L405.3 1315.5L404.1 1318.2L403.8 1319.2L403 1321L401.9 1323.8L401 1326.1L400.8 1326.5L399.7 1329.3L398.8 1332.1L398.2 1333.8L397.8 1334.8L396.9 1337.6L396 1340.4L395.4 1342.4L395.2 1343.1L394.4 1345.9L393.6 1348.7L392.9 1351.4L392.7 1352.3L392.2 1354.2L391.5 1357L390.9 1359.7L390.3 1362.5L389.9 1364.5L389.8 1365.3L389.2 1368L388.7 1370.8L388.2 1373.6L387.8 1376.3L387.4 1379.1L387.1 1381.3L387.1 1381.9L386.7 1384.6L386.4 1387.4L386.1 1390.2L385.9 1392.9L385.6 1395.7L385.5 1398.4L385.3 1401.2L385.2 1404L385.2 1406.7L385.1 1409.5L385.1 1412.3L385.1 1415L385.2 1417.8L385.3 1420.6L385.4 1423.3L385.5 1426.1L385.7 1428.9L386 1431.6L386.2 1434.4L386.5 1437.2L386.9 1439.9L387.1 1441.7L387.3 1442.7L387.6 1445.5L388.1 1448.2L388.5 1451L389.1 1453.8L389.6 1456.5L389.9 1457.8L390.2 1459.3L390.8 1462.1L391.5 1464.8L392.2 1467.6L392.7 1469.2L393 1470.4L393.8 1473.1L394.6 1475.9L395.4 1478.3L395.6 1478.7L396.4 1481.4L397.4 1484.2L398.2 1486.2L398.5 1487L399.5 1489.7L400.7 1492.5L398.2 1492.5L395.4 1492.5L392.7 1492.5L389.9 1492.5L387.1 1492.5L384.4 1492.5L381.6 1492.5L378.8 1492.5L376.1 1492.5L373.3 1492.5L370.5 1492.5L367.8 1492.5L365 1492.5L364 1492.5L363.2 1489.7L362.4 1487L362.2 1486.3L361.7 1484.2L361 1481.4L360.3 1478.7L359.6 1475.9L359.4 1475.2L359 1473.1L358.4 1470.4L357.9 1467.6L357.4 1464.8L356.8 1462.1L356.7 1461L356.4 1459.3L356 1456.5L355.6 1453.8L355.2 1451L354.9 1448.2L354.6 1445.5L354.3 1442.7L354 1439.9L353.9 1438.6L353.8 1437.2L353.6 1434.4L353.5 1431.6L353.3 1428.9L353.2 1426.1L353.1 1423.3L353.1 1420.6L353 1417.8L353 1415L353.1 1412.3L353.1 1409.5L353.2 1406.7L353.3 1404L353.4 1401.2L353.6 1398.4L353.7 1395.7L353.9 1393.4L353.9 1392.9L354.2 1390.2L354.5 1387.4L354.8 1384.6L355.1 1381.9L355.4 1379.1L355.8 1376.3L356.2 1373.6L356.6 1370.8L356.7 1370.2L357 1368L357.5 1365.3L358.1 1362.5L358.6 1359.7L359.1 1357L359.4 1355.3L359.7 1354.2L360.3 1351.4L361 1348.7L361.6 1345.9L362.2 1343.5L362.3 1343.1L363.1 1340.4L363.8 1337.6L364.6 1334.8L365 1333.4L365.4 1332.1L366.3 1329.3L367.1 1326.5L367.8 1324.5L368 1323.8L369 1321L369.9 1318.2L370.5 1316.5L370.9 1315.5L371.9 1312.7L373 1309.9L373.3 1309.1L374.1 1307.2L375.2 1304.4L376.1 1302.3L376.3 1301.6L377.6 1298.9L378.8 1296.1L378.8 1295.9L380.1 1293.3L381.3 1290.6L381.6 1290L382.7 1287.8L384 1285L384.4 1284.4L385.5 1282.3L386.9 1279.5L387.1 1279.1L388.4 1276.7L389.9 1274L389.9 1274L391.5 1271.2L392.7 1269.2L393.1 1268.4L394.8 1265.7L395.4 1264.6L396.5 1262.9L398.2 1260.2L398.3 1260.1L400.1 1257.4L401 1256L402 1254.6L403.8 1252L403.8 1251.8L405.8 1249.1L406.5 1248.1L407.9 1246.3L409.3 1244.4L409.9 1243.5L412.1 1240.8L412.1 1240.8L414.3 1238L414.8 1237.3L416.6 1235.2L417.6 1234L418.9 1232.5L420.4 1230.8L421.4 1229.7L423.1 1227.7L423.9 1226.9L425.9 1224.7L426.4 1224.2L428.7 1221.8L429.1 1221.4L431.5 1219L431.9 1218.6L434.2 1216.4L434.7 1215.9L437 1213.8L437.7 1213.1L439.8 1211.3L440.8 1210.3L442.5 1208.9L444 1207.6L445.3 1206.5L447.4 1204.8L448.1 1204.3L450.8 1202.1L450.8 1202L453.6 1200L454.6 1199.3L456.4 1198L458.4 1196.5L459.2 1196L461.9 1194.1L462.5 1193.8L464.7 1192.3L466.8 1191L467.5 1190.6L470.2 1188.9L471.4 1188.2L473 1187.3L475.8 1185.7L476.2 1185.5L478.5 1184.3L481.3 1182.8L481.5 1182.7L484.1 1181.5L486.9 1180.1L487.4 1179.9L489.6 1178.9L492.4 1177.7L493.8 1177.2L495.2 1176.6L497.9 1175.6L500.7 1174.5L501.1 1174.4L503.5 1173.6L506.2 1172.7L509 1171.9L509.9 1171.6L511.8 1171.1L514.6 1170.4L517.3 1169.7L520.1 1169.1L521.2 1168.9L522.9 1168.5L525.6 1168.1L528.4 1167.6L531.2 1167.2L533.9 1166.9L536.7 1166.6L539.5 1166.3L542.2 1166.1L543.4 1166.1ZM647.5 1486L647.5 1487L647.5 1489.7L647.5 1492.5L644.7 1492.5L643.9 1492.5L644.7 1490.9L645.4 1489.7L647 1487Z" fill="#ffed00"/>
<path d="M533.9 1207.5L536.7 1207.2L539.5 1207L542.2 1206.9L545 1206.8L547.8 1206.8L550.6 1206.9L553.3 1207.1L556.1 1207.3L558.8 1207.6L558.9 1207.6L561.6 1207.9L564.4 1208.3L567.2 1208.8L569.9 1209.4L572.7 1210L573.9 1210.3L575.5 1210.7L578.3 1211.5L581 1212.4L583 1213.1L583.8 1213.4L586.6 1214.4L589.3 1215.5L590.1 1215.9L592.1 1216.7L594.9 1218L596.1 1218.6L597.6 1219.4L600.4 1220.9L601.3 1221.4L603.2 1222.5L605.9 1224.2L606 1224.2L608.7 1226L610.1 1226.9L611.5 1227.9L614 1229.7L614.3 1229.9L617 1232.1L617.5 1232.5L619.8 1234.3L620.9 1235.2L622.6 1236.7L624 1238L625.3 1239.3L626.9 1240.8L628.1 1242L629.7 1243.5L630.9 1244.8L632.3 1246.3L633.7 1247.9L634.7 1249.1L636.4 1251.1L637 1251.8L639.2 1254.6L639.2 1254.6L641.4 1257.4L642 1258.2L643.4 1260.1L644.7 1262.1L645.3 1262.9L647.1 1265.7L647.5 1266.3L647.5 1268.4L647.5 1271.2L647.5 1274L647.5 1276.7L647.5 1279.5L647.5 1282.3L647.5 1285L647.5 1287.8L647.5 1290.6L647.5 1293.3L647.5 1296.1L647.5 1298.9L647.5 1301.6L647.5 1304.4L647.5 1307.2L647.5 1309.9L647.5 1312.7L647.5 1315.5L647.5 1318.2L647.5 1321L647.5 1323.8L647.5 1326.5L647.5 1329.3L647.5 1332.1L647.5 1334.8L647.5 1337.6L647.5 1340.4L647.5 1343.1L647.5 1345.9L647.5 1348.7L647.5 1351.4L647.5 1354.2L647.5 1357L647.5 1359.5L647.2 1357L646.8 1354.2L646.4 1351.4L646 1348.7L645.6 1345.9L645.2 1343.1L644.7 1340.5L644.7 1340.4L644 1337.6L643.3 1334.8L642.7 1332.1L642 1329.3L642 1329L641.1 1326.5L640.3 1323.8L639.5 1321L639.2 1320.2L638.4 1318.2L637.4 1315.5L636.4 1312.7L636.4 1312.7L635.1 1309.9L634 1307.2L633.7 1306.4L632.6 1304.4L631.3 1301.6L630.9 1300.8L629.8 1298.9L628.4 1296.1L628.1 1295.7L626.6 1293.3L625.3 1291.1L625 1290.6L623.2 1287.8L622.6 1286.9L621.2 1285L619.8 1283.1L619.2 1282.3L617.1 1279.5L617 1279.4L614.7 1276.7L614.3 1276.2L612.2 1274L611.5 1273.2L609.6 1271.2L608.7 1270.3L606.7 1268.4L606 1267.7L603.7 1265.7L603.2 1265.2L600.5 1262.9L600.4 1262.8L597.6 1260.8L596.7 1260.1L594.9 1258.9L592.7 1257.4L592.1 1257L589.3 1255.3L588.2 1254.6L586.6 1253.7L583.8 1252.2L583.1 1251.8L581 1250.9L578.3 1249.7L576.9 1249.1L575.5 1248.6L572.7 1247.6L569.9 1246.6L569.1 1246.3L567.2 1245.8L564.4 1245.1L561.6 1244.5L558.9 1243.9L557 1243.5L556.1 1243.4L553.3 1243.1L550.6 1242.9L547.8 1242.7L545 1242.6L542.2 1242.6L539.5 1242.7L536.7 1242.8L533.9 1243L531.2 1243.3L529.3 1243.5L528.4 1243.7L525.6 1244.3L522.9 1244.9L520.1 1245.5L517.3 1246.1L516.7 1246.3L514.6 1247L511.8 1248L509 1248.9L508.4 1249.1L506.2 1250L503.5 1251.2L501.9 1251.8L500.7 1252.4L497.9 1253.8L496.2 1254.6L495.2 1255.2L492.4 1256.8L491.3 1257.4L489.6 1258.4L486.9 1260L486.7 1260.1L484.1 1262L482.7 1262.9L481.3 1263.9L478.8 1265.7L478.5 1265.9L475.8 1268.1L475.3 1268.4L473 1270.4L472.1 1271.2L470.2 1272.9L469 1274L467.5 1275.4L466.1 1276.7L464.7 1278.1L463.3 1279.5L461.9 1280.9L460.7 1282.3L459.2 1283.9L458.2 1285L456.4 1287L455.7 1287.8L453.6 1290.3L453.4 1290.6L451.2 1293.3L450.8 1293.8L449.2 1296.1L448.1 1297.6L447.2 1298.9L445.3 1301.5L445.2 1301.6L443.5 1304.4L442.5 1305.8L441.7 1307.2L439.9 1309.9L439.8 1310.2L438.4 1312.7L437 1315L436.8 1315.5L435.4 1318.2L434.2 1320.3L433.9 1321L432.6 1323.8L431.5 1325.9L431.2 1326.5L430 1329.3L428.7 1332L428.7 1332.1L427.7 1334.8L426.5 1337.6L425.9 1339L425.4 1340.4L424.5 1343.1L423.4 1345.9L423.1 1346.7L422.6 1348.7L421.8 1351.4L420.9 1354.2L420.4 1355.8L420.1 1357L419.4 1359.7L418.7 1362.5L418 1365.3L417.6 1367L417.4 1368L416.9 1370.8L416.4 1373.6L415.9 1376.3L415.4 1379.1L415 1381.9L414.8 1382.8L414.6 1384.6L414.4 1387.4L414.1 1390.2L413.9 1392.9L413.7 1395.7L413.5 1398.4L413.4 1401.2L413.3 1404L413.3 1406.7L413.3 1409.5L413.4 1412.3L413.4 1415L413.6 1417.8L413.7 1420.6L413.9 1423.3L414.2 1426.1L414.4 1428.9L414.7 1431.6L414.8 1432.7L415.1 1434.4L415.6 1437.2L416.1 1439.9L416.6 1442.7L417.2 1445.5L417.6 1447.8L417.7 1448.2L418.5 1451L419.2 1453.8L419.9 1456.5L420.4 1458.2L420.7 1459.3L421.7 1462.1L422.6 1464.8L423.1 1466.5L423.6 1467.6L424.7 1470.4L425.8 1473.1L425.9 1473.5L427.1 1475.9L428.3 1478.7L428.7 1479.6L429.7 1481.4L431 1484.2L431.5 1485L432.6 1487L434.1 1489.7L434.2 1490L435.9 1492.5L434.2 1492.5L431.5 1492.5L428.7 1492.5L425.9 1492.5L423.1 1492.5L420.4 1492.5L417.6 1492.5L414.8 1492.5L412.1 1492.5L409.3 1492.5L406.5 1492.5L403.8 1492.5L401 1492.5L400.7 1492.5L399.5 1489.7L398.5 1487L398.2 1486.2L397.4 1484.2L396.4 1481.4L395.6 1478.7L395.4 1478.3L394.6 1475.9L393.8 1473.1L393 1470.4L392.7 1469.2L392.2 1467.6L391.5 1464.8L390.8 1462.1L390.2 1459.3L389.9 1457.8L389.6 1456.5L389.1 1453.8L388.5 1451L388.1 1448.2L387.6 1445.5L387.3 1442.7L387.1 1441.7L386.9 1439.9L386.5 1437.2L386.2 1434.4L386 1431.6L385.7 1428.9L385.5 1426.1L385.4 1423.3L385.3 1420.6L385.2 1417.8L385.1 1415L385.1 1412.3L385.1 1409.5L385.2 1406.7L385.2 1404L385.3 1401.2L385.5 1398.4L385.6 1395.7L385.9 1392.9L386.1 1390.2L386.4 1387.4L386.7 1384.6L387.1 1381.9L387.1 1381.3L387.4 1379.1L387.8 1376.3L388.2 1373.6L388.7 1370.8L389.2 1368L389.8 1365.3L389.9 1364.5L390.3 1362.5L390.9 1359.7L391.5 1357L392.2 1354.2L392.7 1352.3L392.9 1351.4L393.6 1348.7L394.4 1345.9L395.2 1343.1L395.4 1342.4L396 1340.4L396.9 1337.6L397.8 1334.8L398.2 1333.8L398.8 1332.1L399.7 1329.3L400.8 1326.5L401 1326.1L401.9 1323.8L403 1321L403.8 1319.2L404.1 1318.2L405.3 1315.5L406.5 1312.9L406.6 1312.7L407.8 1309.9L409.2 1307.2L409.3 1307L410.5 1304.4L412 1301.6L412.1 1301.5L413.4 1298.9L414.8 1296.3L415 1296.1L416.5 1293.3L417.6 1291.4L418.1 1290.6L419.8 1287.8L420.4 1286.9L421.5 1285L423.1 1282.6L423.3 1282.3L425.2 1279.5L425.9 1278.4L427.1 1276.7L428.7 1274.5L429.1 1274L431.2 1271.2L431.5 1270.8L433.3 1268.4L434.2 1267.2L435.5 1265.7L437 1263.8L437.8 1262.9L439.8 1260.6L440.2 1260.1L442.5 1257.5L442.7 1257.4L445.2 1254.6L445.3 1254.5L447.9 1251.8L448.1 1251.7L450.7 1249.1L450.8 1248.9L453.6 1246.3L453.6 1246.3L456.4 1243.8L456.7 1243.5L459.2 1241.4L459.9 1240.8L461.9 1239L463.2 1238L464.7 1236.8L466.8 1235.2L467.5 1234.8L470.2 1232.8L470.6 1232.5L473 1230.8L474.6 1229.7L475.8 1228.9L478.5 1227.2L479 1226.9L481.3 1225.5L483.7 1224.2L484.1 1223.9L486.9 1222.4L488.7 1221.4L489.6 1221L492.4 1219.6L494.4 1218.6L495.2 1218.3L497.9 1217L500.7 1215.9L500.9 1215.9L503.5 1214.8L506.2 1213.8L508.4 1213.1L509 1212.9L511.8 1212L514.6 1211.2L517.3 1210.5L518 1210.3L520.1 1209.8L522.9 1209.2L525.6 1208.7L528.4 1208.2L531.2 1207.8L533.5 1207.6ZM647.5 1392.8L647.5 1392.9L647.5 1395.7L647.5 1398.4L647.5 1401.2L647.5 1404L647.5 1406.7L647.5 1409.5L647.5 1412.3L647.5 1415L647.5 1417.8L647.5 1420.6L647.5 1423.3L647.5 1426.1L647.5 1428.9L647.5 1431.6L647.5 1434.4L647.5 1437.2L647.5 1439.9L647.5 1442.7L647.5 1445.5L647.5 1448.2L647.5 1451L647.5 1453.8L647.5 1456.5L647.5 1459.3L647.5 1462.1L647.5 1464.8L647.5 1467.6L647.5 1470.4L647.5 1473.1L647.5 1475.9L647.5 1478.7L647.5 1481.4L647.5 1484.2L647.5 1486L647 1487L645.4 1489.7L644.7 1490.9L643.9 1492.5L642 1492.5L639.2 1492.5L636.4 1492.5L633.7 1492.5L630.9 1492.5L628.1 1492.5L625.3 1492.5L622.6 1492.5L619.8 1492.5L617 1492.5L614.3 1492.5L611.5 1492.5L608.8 1492.5L610.9 1489.7L611.5 1488.9L612.9 1487L614.3 1485.1L614.9 1484.2L616.8 1481.4L617 1481.1L618.5 1478.7L619.8 1476.7L620.3 1475.9L622 1473.1L622.6 1472.1L623.5 1470.4L625.2 1467.6L625.3 1467.3L626.5 1464.8L628.1 1462.1L628.1 1462L629.3 1459.3L630.7 1456.5L630.9 1456.1L631.8 1453.8L633 1451L633.7 1449.6L634.2 1448.2L635.2 1445.5L636.4 1442.7L636.4 1442.6L637.2 1439.9L638.2 1437.2L639.2 1434.5L639.2 1434.4L639.9 1431.6L640.7 1428.9L641.6 1426.1L642 1424.7L642.3 1423.3L642.9 1420.6L643.5 1417.8L644.1 1415L644.7 1412.5L644.8 1412.3L645.2 1409.5L645.6 1406.7L646 1404L646.4 1401.2L646.8 1398.4L647.2 1395.7L647.5 1392.9Z" fill="#ff8200"/>
<path d="M531.2 1243.3L533.9 1243L536.7 1242.8L539.5 1242.7L542.2 1242.6L545 1242.6L547.8 1242.7L550.6 1242.9L553.3 1243.1L556.1 1243.4L557 1243.5L558.9 1243.9L561.6 1244.5L564.4 1245.1L567.2 1245.8L569.1 1246.3L569.9 1246.6L572.7 1247.6L575.5 1248.6L576.9 1249.1L578.3 1249.7L581 1250.9L583.1 1251.8L583.8 1252.2L586.6 1253.7L588.2 1254.6L589.3 1255.3L592.1 1257L592.7 1257.4L594.9 1258.9L596.7 1260.1L597.6 1260.8L600.4 1262.8L600.5 1262.9L603.2 1265.2L603.7 1265.7L606 1267.7L606.7 1268.4L608.7 1270.3L609.6 1271.2L611.5 1273.2L612.2 1274L614.3 1276.2L614.7 1276.7L617 1279.4L617.1 1279.5L619.2 1282.3L619.8 1283.1L621.2 1285L622.6 1286.9L623.2 1287.8L625 1290.6L625.3 1291.1L626.6 1293.3L628.1 1295.7L628.4 1296.1L629.8 1298.9L630.9 1300.8L631.3 1301.6L632.6 1304.4L633.7 1306.4L634 1307.2L635.1 1309.9L636.4 1312.7L636.4 1312.7L637.4 1315.5L638.4 1318.2L639.2 1320.2L639.5 1321L640.3 1323.8L641.1 1326.5L642 1329L642 1329.3L642.7 1332.1L643.3 1334.8L644 1337.6L644.7 1340.4L644.7 1340.5L645.2 1343.1L645.6 1345.9L646 1348.7L646.4 1351.4L646.8 1354.2L647.2 1357L647.5 1359.5L647.5 1359.7L647.5 1362.5L647.5 1365.3L647.5 1368L647.5 1370.8L647.5 1373.6L647.5 1376.3L647.5 1379.1L647.5 1381.9L647.5 1384.6L647.5 1387.4L647.5 1390.2L647.5 1392.8L647.5 1392.9L647.2 1395.7L646.8 1398.4L646.4 1401.2L646 1404L645.6 1406.7L645.2 1409.5L644.8 1412.3L644.7 1412.5L644.1 1415L643.5 1417.8L642.9 1420.6L642.3 1423.3L642 1424.7L641.6 1426.1L640.7 1428.9L639.9 1431.6L639.2 1434.4L639.2 1434.5L638.2 1437.2L637.2 1439.9L636.4 1442.6L636.4 1442.7L635.2 1445.5L634.2 1448.2L633.7 1449.6L633 1451L631.8 1453.8L630.9 1456.1L630.7 1456.5L629.3 1459.3L628.1 1462L628.1 1462.1L626.5 1464.8L625.3 1467.3L625.2 1467.6L623.5 1470.4L622.6 1472.1L622 1473.1L620.3 1475.9L619.8 1476.7L618.5 1478.7L617 1481.1L616.8 1481.4L614.9 1484.2L614.3 1485.1L612.9 1487L611.5 1488.9L610.9 1489.7L608.8 1492.5L608.7 1492.5L606 1492.5L603.2 1492.5L600.4 1492.5L597.6 1492.5L594.9 1492.5L592.1 1492.5L589.3 1492.5L586.6 1492.5L583.8 1492.5L581 1492.5L578.3 1492.5L575.5 1492.5L572.7 1492.5L569.9 1492.5L567.2 1492.5L564.4 1492.5L561.6 1492.5L558.9 1492.5L556.1 1492.5L553.3 1492.5L550.6 1492.5L547.8 1492.5L545 1492.5L542.2 1492.5L539.5 1492.5L536.7 1492.5L533.9 1492.5L531.2 1492.5L528.4 1492.5L525.6 1492.5L522.9 1492.5L520.1 1492.5L517.3 1492.5L514.6 1492.5L511.8 1492.5L509 1492.5L506.2 1492.5L503.5 1492.5L500.7 1492.5L497.9 1492.5L495.2 1492.5L492.4 1492.5L489.6 1492.5L486.9 1492.5L484.1 1492.5L481.3 1492.5L478.5 1492.5L475.8 1492.5L473 1492.5L470.2 1492.5L467.5 1492.5L464.7 1492.5L461.9 1492.5L459.2 1492.5L456.4 1492.5L453.6 1492.5L450.8 1492.5L448.1 1492.5L445.3 1492.5L442.5 1492.5L439.8 1492.5L437 1492.5L435.9 1492.5L434.2 1490L434.1 1489.7L432.6 1487L431.5 1485L431 1484.2L429.7 1481.4L428.7 1479.6L428.3 1478.7L427.1 1475.9L425.9 1473.5L425.8 1473.1L424.7 1470.4L423.6 1467.6L423.1 1466.5L422.6 1464.8L421.7 1462.1L420.7 1459.3L420.4 1458.2L419.9 1456.5L419.2 1453.8L418.5 1451L417.7 1448.2L417.6 1447.8L417.2 1445.5L416.6 1442.7L416.1 1439.9L415.6 1437.2L415.1 1434.4L414.8 1432.7L414.7 1431.6L414.4 1428.9L414.2 1426.1L413.9 1423.3L413.7 1420.6L413.6 1417.8L413.4 1415L413.4 1412.3L413.3 1409.5L413.3 1406.7L413.3 1404L413.4 1401.2L413.5 1398.4L413.7 1395.7L413.9 1392.9L414.1 1390.2L414.4 1387.4L414.6 1384.6L414.8 1382.8L415 1381.9L415.4 1379.1L415.9 1376.3L416.4 1373.6L416.9 1370.8L417.4 1368L417.6 1367L418 1365.3L418.7 1362.5L419.4 1359.7L420.1 1357L420.4 1355.8L420.9 1354.2L421.8 1351.4L422.6 1348.7L423.1 1346.7L423.4 1345.9L424.5 1343.1L425.4 1340.4L425.9 1339L426.5 1337.6L427.7 1334.8L428.7 1332.1L428.7 1332L430 1329.3L431.2 1326.5L431.5 1325.9L432.6 1323.8L433.9 1321L434.2 1320.3L435.4 1318.2L436.8 1315.5L437 1315L438.4 1312.7L439.8 1310.2L439.9 1309.9L441.7 1307.2L442.5 1305.8L443.5 1304.4L445.2 1301.6L445.3 1301.5L447.2 1298.9L448.1 1297.6L449.2 1296.1L450.8 1293.8L451.2 1293.3L453.4 1290.6L453.6 1290.3L455.7 1287.8L456.4 1287L458.2 1285L459.2 1283.9L460.7 1282.3L461.9 1280.9L463.3 1279.5L464.7 1278.1L466.1 1276.7L467.5 1275.4L469 1274L470.2 1272.9L472.1 1271.2L473 1270.4L475.3 1268.4L475.8 1268.1L478.5 1265.9L478.8 1265.7L481.3 1263.9L482.7 1262.9L484.1 1262L486.7 1260.1L486.9 1260L489.6 1258.4L491.3 1257.4L492.4 1256.8L495.2 1255.2L496.2 1254.6L497.9 1253.8L500.7 1252.4L501.9 1251.8L503.5 1251.2L506.2 1250L508.4 1249.1L509 1248.9L511.8 1248L514.6 1247L516.7 1246.3L517.3 1246.1L520.1 1245.5L522.9 1244.9L525.6 1244.3L528.4 1243.7L529.3 1243.5ZM528.3 1296.1L525.6 1296.6L522.9 1297.2L520.1 1298L517.8 1298.9L517.3 1299L514.6 1300L511.8 1301.3L511 1301.6L509 1302.6L506.2 1304.1L505.8 1304.4L503.5 1305.7L501.3 1307.2L500.7 1307.5L497.9 1309.5L497.4 1309.9L495.2 1311.6L493.9 1312.7L492.4 1313.9L490.7 1315.5L489.6 1316.5L487.8 1318.2L486.9 1319.2L485.1 1321L484.1 1322.1L482.7 1323.8L481.3 1325.4L480.4 1326.5L478.5 1328.9L478.3 1329.3L476.2 1332.1L475.8 1332.7L474.3 1334.8L473 1337L472.6 1337.6L471 1340.4L470.2 1341.7L469.4 1343.1L468 1345.9L467.5 1346.9L466.6 1348.7L465.3 1351.4L464.7 1352.9L464.1 1354.2L463 1357L462 1359.7L461.9 1360L461 1362.5L460.1 1365.3L459.4 1368L459.2 1368.8L458.6 1370.8L457.9 1373.6L457.3 1376.3L456.7 1379.1L456.4 1381.2L456.3 1381.9L455.8 1384.6L455.4 1387.4L455.1 1390.2L454.9 1392.9L454.7 1395.7L454.6 1398.4L454.5 1401.2L454.5 1404L454.6 1406.7L454.7 1409.5L454.9 1412.3L455.2 1415L455.5 1417.8L455.9 1420.6L456.4 1423L456.4 1423.3L457 1426.1L457.5 1428.9L458.3 1431.6L459.1 1434.4L459.2 1434.6L459.9 1437.2L460.8 1439.9L461.9 1442.6L462 1442.7L463 1445.5L464.3 1448.2L464.7 1449L465.7 1451L467.2 1453.8L467.5 1454.2L468.8 1456.5L470.2 1458.8L470.6 1459.3L472.5 1462.1L473 1462.7L474.6 1464.8L475.8 1466.2L477 1467.6L478.5 1469.3L479.6 1470.4L481.3 1472.1L482.5 1473.1L484.1 1474.5L485.8 1475.9L486.9 1476.7L489.6 1478.6L489.7 1478.7L492.4 1480.5L494.1 1481.4L495.2 1482L497.9 1483.4L499.8 1484.2L500.7 1484.6L503.5 1485.7L506.2 1486.5L507.9 1487L509 1487.3L511.8 1487.9L514.6 1488.4L517.3 1488.7L520.1 1488.9L522.9 1488.9L525.6 1488.8L528.4 1488.6L531.2 1488.3L533.9 1487.8L536.7 1487.2L537.6 1487L539.5 1486.5L542.2 1485.7L545 1484.7L546.2 1484.2L547.8 1483.6L550.6 1482.3L552.3 1481.4L553.3 1480.9L556.1 1479.4L557.3 1478.7L558.9 1477.7L561.5 1475.9L561.6 1475.8L564.4 1473.8L565.3 1473.1L567.2 1471.6L568.7 1470.4L569.9 1469.2L571.7 1467.6L572.7 1466.7L574.5 1464.8L575.5 1463.8L577.1 1462.1L578.3 1460.8L579.5 1459.3L581 1457.5L581.8 1456.5L583.8 1453.8L583.8 1453.8L585.8 1451L586.6 1449.9L587.7 1448.2L589.3 1445.5L589.3 1445.4L591 1442.7L592.1 1440.6L592.5 1439.9L593.9 1437.2L594.9 1435.1L595.2 1434.4L596.5 1431.6L597.6 1428.9L597.6 1428.7L598.7 1426.1L599.7 1423.3L600.4 1421.2L600.6 1420.6L601.5 1417.8L602.3 1415L603 1412.3L603.2 1411.6L603.7 1409.5L604.3 1406.7L604.9 1404L605.3 1401.2L605.7 1398.4L606 1396.2L606 1395.7L606.3 1392.9L606.6 1390.2L606.7 1387.4L606.8 1384.6L606.9 1381.9L606.9 1379.1L606.8 1376.3L606.6 1373.6L606.4 1370.8L606 1368L606 1367.3L605.7 1365.3L605.3 1362.5L604.8 1359.7L604.3 1357L603.6 1354.2L603.2 1352.7L602.8 1351.4L602.1 1348.7L601.2 1345.9L600.4 1343.8L600.2 1343.1L599.1 1340.4L597.9 1337.6L597.6 1337.1L596.6 1334.8L595.2 1332.1L594.9 1331.5L593.7 1329.3L592.1 1326.8L592 1326.5L590.2 1323.8L589.3 1322.6L588.2 1321L586.6 1319L586 1318.2L583.8 1315.8L583.5 1315.5L581 1312.9L580.8 1312.7L578.3 1310.3L577.8 1309.9L575.5 1308L574.4 1307.2L572.7 1305.9L570.3 1304.4L569.9 1304.2L567.2 1302.5L565.5 1301.6L564.4 1301.1L561.6 1299.8L559.2 1298.9L558.9 1298.7L556.1 1297.7L553.3 1296.9L550.6 1296.3L549.2 1296.1L547.8 1295.8L545 1295.4L542.2 1295.2L539.5 1295.1L536.7 1295.1L533.9 1295.3L531.2 1295.6L528.4 1296.1Z" fill="#ff2a00"/>
<path d="M528.4 1296.1L531.2 1295.6L533.9 1295.3L536.7 1295.1L539.5 1295.1L542.2 1295.2L545 1295.4L547.8 1295.8L549.2 1296.1L550.6 1296.3L553.3 1296.9L556.1 1297.7L558.9 1298.7L559.2 1298.9L561.6 1299.8L564.4 1301.1L565.5 1301.6L567.2 1302.5L569.9 1304.2L570.3 1304.4L572.7 1305.9L574.4 1307.2L575.5 1308L577.8 1309.9L578.3 1310.3L580.8 1312.7L581 1312.9L583.5 1315.5L583.8 1315.8L586 1318.2L586.6 1319L588.2 1321L589.3 1322.6L590.2 1323.8L592 1326.5L592.1 1326.8L593.7 1329.3L594.9 1331.5L595.2 1332.1L596.6 1334.8L597.6 1337.1L597.9 1337.6L599.1 1340.4L600.2 1343.1L600.4 1343.8L601.2 1345.9L602.1 1348.7L602.8 1351.4L603.2 1352.7L603.6 1354.2L604.3 1357L604.8 1359.7L605.3 1362.5L605.7 1365.3L606 1367.3L606 1368L606.4 1370.8L606.6 1373.6L606.8 1376.3L606.9 1379.1L606.9 1381.9L606.8 1384.6L606.7 1387.4L606.6 1390.2L606.3 1392.9L606 1395.7L606 1396.2L605.7 1398.4L605.3 1401.2L604.9 1404L604.3 1406.7L603.7 1409.5L603.2 1411.6L603 1412.3L602.3 1415L601.5 1417.8L600.6 1420.6L600.4 1421.2L599.7 1423.3L598.7 1426.1L597.6 1428.7L597.6 1428.9L596.5 1431.6L595.2 1434.4L594.9 1435.1L593.9 1437.2L592.5 1439.9L592.1 1440.6L591 1442.7L589.3 1445.4L589.3 1445.5L587.7 1448.2L586.6 1449.9L585.8 1451L583.8 1453.8L583.8 1453.8L581.8 1456.5L581 1457.5L579.5 1459.3L578.3 1460.8L577.1 1462.1L575.5 1463.8L574.5 1464.8L572.7 1466.7L571.7 1467.6L569.9 1469.2L568.7 1470.4L567.2 1471.6L565.3 1473.1L564.4 1473.8L561.6 1475.8L561.5 1475.9L558.9 1477.7L557.3 1478.7L556.1 1479.4L553.3 1480.9L552.3 1481.4L550.6 1482.3L547.8 1483.6L546.2 1484.2L545 1484.7L542.2 1485.7L539.5 1486.5L537.6 1487L536.7 1487.2L533.9 1487.8L531.2 1488.3L528.4 1488.6L525.6 1488.8L522.9 1488.9L520.1 1488.9L517.3 1488.7L514.6 1488.4L511.8 1487.9L509 1487.3L507.9 1487L506.2 1486.5L503.5 1485.7L500.7 1484.6L499.8 1484.2L497.9 1483.4L495.2 1482L494.1 1481.4L492.4 1480.5L489.7 1478.7L489.6 1478.6L486.9 1476.7L485.8 1475.9L484.1 1474.5L482.5 1473.1L481.3 1472.1L479.6 1470.4L478.5 1469.3L477 1467.6L475.8 1466.2L474.6 1464.8L473 1462.7L472.5 1462.1L470.6 1459.3L470.2 1458.8L468.8 1456.5L467.5 1454.2L467.2 1453.8L465.7 1451L464.7 1449L464.3 1448.2L463 1445.5L462 1442.7L461.9 1442.6L460.8 1439.9L459.9 1437.2L459.2 1434.6L459.1 1434.4L458.3 1431.6L457.5 1428.9L457 1426.1L456.4 1423.3L456.4 1423L455.9 1420.6L455.5 1417.8L455.2 1415L454.9 1412.3L454.7 1409.5L454.6 1406.7L454.5 1404L454.5 1401.2L454.6 1398.4L454.7 1395.7L454.9 1392.9L455.1 1390.2L455.4 1387.4L455.8 1384.6L456.3 1381.9L456.4 1381.2L456.7 1379.1L457.3 1376.3L457.9 1373.6L458.6 1370.8L459.2 1368.8L459.4 1368L460.1 1365.3L461 1362.5L461.9 1360L462 1359.7L463 1357L464.1 1354.2L464.7 1352.9L465.3 1351.4L466.6 1348.7L467.5 1346.9L468 1345.9L469.4 1343.1L470.2 1341.7L471 1340.4L472.6 1337.6L473 1337L474.3 1334.8L475.8 1332.7L476.2 1332.1L478.3 1329.3L478.5 1328.9L480.4 1326.5L481.3 1325.4L482.7 1323.8L484.1 1322.1L485.1 1321L486.9 1319.2L487.8 1318.2L489.6 1316.5L490.7 1315.5L492.4 1313.9L493.9 1312.7L495.2 1311.6L497.4 1309.9L497.9 1309.5L500.7 1307.5L501.3 1307.2L503.5 1305.7L505.8 1304.4L506.2 1304.1L509 1302.6L511 1301.6L511.8 1301.3L514.6 1300L517.3 1299L517.8 1298.9L520.1 1298L522.9 1297.2L525.6 1296.6L528.3 1296.1Z" fill="#ff0000"/>
<path d="M262.5 1209.5L263.4 1207.6L264.8 1204.8L265.3 1203.8L266.1 1202.1L267.5 1199.3L268 1198.3L268.9 1196.5L270.4 1193.8L270.8 1192.9L271.8 1191L273.3 1188.2L273.6 1187.7L274.8 1185.5L276.3 1182.7L276.3 1182.6L277.8 1179.9L279.1 1177.7L279.4 1177.2L281 1174.4L281.9 1172.9L282.6 1171.6L284.3 1168.9L284.7 1168.2L285.9 1166.1L287.4 1163.7L287.6 1163.3L289.3 1160.6L290.2 1159.2L291.1 1157.8L292.9 1155L293 1154.9L294.7 1152.3L295.7 1150.6L296.5 1149.5L298.4 1146.7L298.5 1146.5L300.2 1144L301.3 1142.4L302.1 1141.2L304 1138.5L304.1 1138.4L306.1 1135.7L306.8 1134.6L308.1 1132.9L309.6 1130.8L310.1 1130.1L312.2 1127.4L312.4 1127.1L314.3 1124.6L315.1 1123.5L316.4 1121.8L317.9 1120L318.6 1119.1L320.7 1116.5L320.8 1116.3L323.1 1113.5L323.4 1113.1L325.4 1110.8L326.2 1109.8L327.7 1108" fill="none" stroke="#000" stroke-width="1.05"/>
<path d="M262.5 1288.8L262.8 1287.8L263.7 1285L264.6 1282.3L265.3 1280.2L265.5 1279.5L266.5 1276.7L267.4 1274L268 1272.1L268.4 1271.2L269.4 1268.4L270.4 1265.7L270.8 1264.4L271.4 1262.9L272.5 1260.1L273.5 1257.4L273.6 1257.2L274.6 1254.6L275.7 1251.8L276.3 1250.3L276.8 1249.1L278 1246.3L279.1 1243.6L279.1 1243.5L280.4 1240.8L281.6 1238L281.9 1237.3L282.8 1235.2L284.1 1232.5L284.7 1231.2L285.3 1229.7L286.7 1226.9L287.4 1225.3L288 1224.2L289.3 1221.4L290.2 1219.6L290.7 1218.6L292.1 1215.9L293 1214.1L293.5 1213.1L295 1210.3L295.7 1208.8L296.4 1207.6L297.9 1204.8L298.5 1203.7L299.4 1202.1L301 1199.3L301.3 1198.7L302.5 1196.5L304 1193.9L304.1 1193.8L305.8 1191L306.8 1189.2L307.4 1188.2L309.1 1185.5L309.6 1184.6L310.8 1182.7L312.4 1180.2L312.5 1179.9L314.3 1177.2L315.1 1175.9L316.1 1174.4L317.9 1171.6L317.9 1171.6L319.8 1168.9L320.7 1167.5L321.7 1166.1L323.4 1163.5L323.6 1163.3L325.5 1160.6L326.2 1159.6L327.5 1157.8L329 1155.8L329.6 1155L331.6 1152.3L331.7 1152.1L333.7 1149.5L334.5 1148.5L335.9 1146.7L337.3 1144.9L338 1144L340.1 1141.4L340.2 1141.2L342.5 1138.4L342.8 1138L344.8 1135.7L345.6 1134.7L347.2 1132.9L348.4 1131.5L349.5 1130.1L351.1 1128.3L352 1127.4L353.9 1125.2L354.4 1124.6L356.7 1122.1L357 1121.8L359.4 1119.2L359.5 1119.1L362.2 1116.3L362.2 1116.3L364.9 1113.5L365 1113.4L367.6 1110.8L367.8 1110.6L370.4 1108" fill="none" stroke="#000" stroke-width="1.05"/>
<path d="M634.3 1108L636.4 1109L639.2 1110.4L639.9 1110.8L642 1111.9L644.7 1113.4L645 1113.5L647.5 1115M299.8 1492.5L299.3 1489.7L298.8 1487L298.5 1485L298.4 1484.2L297.9 1481.4L297.5 1478.7L297.1 1475.9L296.7 1473.1L296.3 1470.4L296 1467.6L295.7 1465.2L295.7 1464.8L295.4 1462.1L295.1 1459.3L294.9 1456.5L294.6 1453.8L294.4 1451L294.2 1448.2L294.1 1445.5L293.9 1442.7L293.8 1439.9L293.7 1437.2L293.6 1434.4L293.5 1431.6L293.5 1428.9L293.5 1426.1L293.5 1423.3L293.5 1420.6L293.5 1417.8L293.6 1415L293.6 1412.3L293.7 1409.5L293.9 1406.7L294 1404L294.1 1401.2L294.3 1398.4L294.5 1395.7L294.7 1392.9L295 1390.2L295.2 1387.4L295.5 1384.6L295.7 1382.6L295.8 1381.9L296.1 1379.1L296.4 1376.3L296.8 1373.6L297.2 1370.8L297.6 1368L298 1365.3L298.4 1362.5L298.5 1362.1L298.9 1359.7L299.3 1357L299.8 1354.2L300.4 1351.4L300.9 1348.7L301.3 1346.8L301.5 1345.9L302 1343.1L302.6 1340.4L303.2 1337.6L303.9 1334.8L304 1334.2L304.5 1332.1L305.2 1329.3L305.9 1326.5L306.7 1323.8L306.8 1323.2L307.4 1321L308.2 1318.2L308.9 1315.5L309.6 1313.3L309.8 1312.7L310.6 1309.9L311.4 1307.2L312.3 1304.4L312.4 1304.3L313.2 1301.6L314.1 1298.9L315.1 1296.1L315.1 1296L316.1 1293.3L317 1290.6L317.9 1288.3L318.1 1287.8L319.1 1285L320.2 1282.3L320.7 1281L321.3 1279.5L322.4 1276.7L323.4 1274.2L323.5 1274L324.7 1271.2L325.9 1268.4L326.2 1267.7L327.1 1265.7L328.3 1262.9L329 1261.5L329.6 1260.1L330.9 1257.4L331.7 1255.6L332.2 1254.6L333.6 1251.8L334.5 1249.9L334.9 1249.1L336.3 1246.3L337.3 1244.5L337.8 1243.5L339.3 1240.8L340.1 1239.3L340.8 1238L342.3 1235.2L342.8 1234.3L343.8 1232.5L345.5 1229.7L345.6 1229.5L347.1 1226.9L348.4 1224.8L348.7 1224.2L350.4 1221.4L351.1 1220.3L352.2 1218.6L353.9 1215.9L353.9 1215.9L355.7 1213.1L356.7 1211.7L357.6 1210.3L359.4 1207.6L359.5 1207.6L361.4 1204.8L362.2 1203.6L363.3 1202.1L365 1199.8L365.3 1199.3L367.4 1196.5L367.8 1196L369.5 1193.8L370.5 1192.4L371.6 1191L373.3 1188.9L373.8 1188.2L376.1 1185.5L376.1 1185.4L378.3 1182.7L378.8 1182.1L380.7 1179.9L381.6 1178.8L383.1 1177.2L384.4 1175.7L385.5 1174.4L387.1 1172.6L388 1171.6L389.9 1169.6L390.6 1168.9L392.7 1166.7L393.2 1166.1L395.4 1163.8L396 1163.3L398.2 1161.1L398.7 1160.6L401 1158.4L401.6 1157.8L403.8 1155.7L404.5 1155L406.5 1153.2L407.5 1152.3L409.3 1150.7L410.6 1149.5L412.1 1148.2L413.8 1146.7L414.8 1145.9L417.1 1144L417.6 1143.6L420.4 1141.3L420.6 1141.2L423.1 1139.1L424.1 1138.4L425.9 1137L427.7 1135.7L428.7 1134.9L431.5 1132.9L431.5 1132.9L434.2 1131L435.4 1130.1L437 1129L439.5 1127.4L439.8 1127.2L442.5 1125.4L443.8 1124.6L445.3 1123.6L448.1 1121.9L448.3 1121.8L450.8 1120.3L452.9 1119.1L453.6 1118.7L456.4 1117.1L457.9 1116.3L459.2 1115.6L461.9 1114.1L463.1 1113.5L464.7 1112.7L467.5 1111.4L468.7 1110.8L470.2 1110L473 1108.8L474.7 1108" fill="none" stroke="#000" stroke-width="1.05"/>
<path d="M336 1492.5L335.3 1489.7L334.7 1487L334.5 1486.3L334.1 1484.2L333.5 1481.4L332.9 1478.7L332.4 1475.9L331.9 1473.1L331.7 1472.2L331.4 1470.4L331 1467.6L330.6 1464.8L330.2 1462.1L329.8 1459.3L329.5 1456.5L329.2 1453.8L329 1451.8L328.9 1451L328.6 1448.2L328.4 1445.5L328.2 1442.7L328 1439.9L327.8 1437.2L327.7 1434.4L327.6 1431.6L327.5 1428.9L327.4 1426.1L327.4 1423.3L327.4 1420.6L327.4 1417.8L327.4 1415L327.4 1412.3L327.5 1409.5L327.6 1406.7L327.7 1404L327.9 1401.2L328 1398.4L328.2 1395.7L328.4 1392.9L328.7 1390.2L328.9 1387.4L329 1387L329.2 1384.6L329.5 1381.9L329.8 1379.1L330.2 1376.3L330.6 1373.6L331 1370.8L331.4 1368L331.7 1365.9L331.8 1365.3L332.3 1362.5L332.8 1359.7L333.3 1357L333.9 1354.2L334.4 1351.4L334.5 1351L335 1348.7L335.6 1345.9L336.3 1343.1L336.9 1340.4L337.3 1338.9L337.6 1337.6L338.3 1334.8L339 1332.1L339.8 1329.3L340.1 1328.4L340.6 1326.5L341.4 1323.8L342.2 1321L342.8 1319.1L343.1 1318.2L344 1315.5L344.9 1312.7L345.6 1310.7L345.8 1309.9L346.8 1307.2L347.8 1304.4L348.4 1302.9L348.8 1301.6L349.9 1298.9L351 1296.1L351.1 1295.7L352.1 1293.3L353.2 1290.6L353.9 1288.9L354.4 1287.8L355.6 1285L356.7 1282.6L356.8 1282.3L358.1 1279.5L359.4 1276.7L359.4 1276.6L360.7 1274L362 1271.2L362.2 1270.9L363.4 1268.4L364.9 1265.7L365 1265.4L366.3 1262.9L367.8 1260.3L367.8 1260.1L369.3 1257.4L370.5 1255.3L370.9 1254.6L372.5 1251.8L373.3 1250.5L374.2 1249.1L375.9 1246.3L376.1 1246L377.6 1243.5L378.8 1241.6L379.3 1240.8L381.2 1238L381.6 1237.3L383 1235.2L384.4 1233.3L384.9 1232.5L386.9 1229.7L387.1 1229.3L388.9 1226.9L389.9 1225.5L390.9 1224.2L392.7 1221.9L393 1221.4L395.2 1218.6L395.4 1218.3L397.4 1215.9L398.2 1214.9L399.7 1213.1L401 1211.5L402 1210.3L403.8 1208.3L404.4 1207.6L406.5 1205.2L406.9 1204.8L409.3 1202.1L409.4 1202.1L412 1199.3L412.1 1199.2L414.7 1196.5L414.8 1196.4L417.4 1193.8L417.6 1193.6L420.3 1191L420.4 1190.9L423.1 1188.3L423.3 1188.2L425.9 1185.8L426.3 1185.5L428.7 1183.3L429.5 1182.7L431.5 1181L432.7 1179.9L434.2 1178.7L436.1 1177.2L437 1176.4L439.6 1174.4L439.8 1174.3L442.5 1172.2L443.3 1171.6L445.3 1170.2L447.1 1168.9L448.1 1168.2L450.8 1166.3L451.2 1166.1L453.6 1164.4L455.4 1163.3L456.4 1162.7L459.2 1160.9L459.8 1160.6L461.9 1159.3L464.5 1157.8L464.7 1157.7L467.5 1156.1L469.5 1155L470.2 1154.6L473 1153.2L474.9 1152.3L475.8 1151.8L478.5 1150.5L480.7 1149.5L481.3 1149.2L484.1 1148L486.9 1146.8L487 1146.7L489.6 1145.7L492.4 1144.6L494.1 1144L495.2 1143.6L497.9 1142.6L500.7 1141.7L502.2 1141.2L503.5 1140.8L506.2 1140L509 1139.2L511.8 1138.5L512 1138.4L514.6 1137.8L517.3 1137.2L520.1 1136.6L522.9 1136L525.1 1135.7L525.6 1135.6L528.4 1135.1L531.2 1134.7L533.9 1134.4L536.7 1134.1L539.5 1133.8L542.2 1133.6L545 1133.5L547.8 1133.4L550.6 1133.3L553.3 1133.3L556.1 1133.4L558.9 1133.4L561.6 1133.6L564.4 1133.8L567.2 1134L569.9 1134.3L572.7 1134.6L575.5 1135L578.3 1135.5L579.3 1135.7L581 1136L583.8 1136.5L586.6 1137.1L589.3 1137.8L592 1138.4L592.1 1138.5L594.9 1139.2L597.6 1140L600.4 1140.9L601.2 1141.2L603.2 1141.8L606 1142.8L608.7 1143.9L608.9 1144L611.5 1145L614.3 1146.2L615.5 1146.7L617 1147.4L619.8 1148.7L621.4 1149.5L622.6 1150.1L625.3 1151.5L626.8 1152.3L628.1 1153L630.9 1154.6L631.6 1155L633.7 1156.2L636.2 1157.8L636.4 1157.9L639.2 1159.7L640.4 1160.6L642 1161.6L644.4 1163.3L644.7 1163.6L647.5 1165.6" fill="none" stroke="#000" stroke-width="1.05"/>
<path d="M364 1492.5L363.2 1489.7L362.4 1487L362.2 1486.3L361.7 1484.2L361 1481.4L360.3 1478.7L359.6 1475.9L359.4 1475.2L359 1473.1L358.4 1470.4L357.9 1467.6L357.4 1464.8L356.8 1462.1L356.7 1461L356.4 1459.3L356 1456.5L355.6 1453.8L355.2 1451L354.9 1448.2L354.6 1445.5L354.3 1442.7L354 1439.9L353.9 1438.6L353.8 1437.2L353.6 1434.4L353.5 1431.6L353.3 1428.9L353.2 1426.1L353.1 1423.3L353.1 1420.6L353 1417.8L353 1415L353.1 1412.3L353.1 1409.5L353.2 1406.7L353.3 1404L353.4 1401.2L353.6 1398.4L353.7 1395.7L353.9 1393.4L353.9 1392.9L354.2 1390.2L354.5 1387.4L354.8 1384.6L355.1 1381.9L355.4 1379.1L355.8 1376.3L356.2 1373.6L356.6 1370.8L356.7 1370.2L357 1368L357.5 1365.3L358.1 1362.5L358.6 1359.7L359.1 1357L359.4 1355.3L359.7 1354.2L360.3 1351.4L361 1348.7L361.6 1345.9L362.2 1343.5L362.3 1343.1L363.1 1340.4L363.8 1337.6L364.6 1334.8L365 1333.4L365.4 1332.1L366.3 1329.3L367.1 1326.5L367.8 1324.5L368 1323.8L369 1321L369.9 1318.2L370.5 1316.5L370.9 1315.5L371.9 1312.7L373 1309.9L373.3 1309.1L374.1 1307.2L375.2 1304.4L376.1 1302.3L376.3 1301.6L377.6 1298.9L378.8 1296.1L378.8 1295.9L380.1 1293.3L381.3 1290.6L381.6 1290L382.7 1287.8L384 1285L384.4 1284.4L385.5 1282.3L386.9 1279.5L387.1 1279.1L388.4 1276.7L389.9 1274L389.9 1274L391.5 1271.2L392.7 1269.2L393.1 1268.4L394.8 1265.7L395.4 1264.6L396.5 1262.9L398.2 1260.2L398.3 1260.1L400.1 1257.4L401 1256L402 1254.6L403.8 1252L403.8 1251.8L405.8 1249.1L406.5 1248.1L407.9 1246.3L409.3 1244.4L409.9 1243.5L412.1 1240.8L412.1 1240.8L414.3 1238L414.8 1237.3L416.6 1235.2L417.6 1234L418.9 1232.5L420.4 1230.8L421.4 1229.7L423.1 1227.7L423.9 1226.9L425.9 1224.7L426.4 1224.2L428.7 1221.8L429.1 1221.4L431.5 1219L431.9 1218.6L434.2 1216.4L434.7 1215.9L437 1213.8L437.7 1213.1L439.8 1211.3L440.8 1210.3L442.5 1208.9L444 1207.6L445.3 1206.5L447.4 1204.8L448.1 1204.3L450.8 1202.1L450.8 1202L453.6 1200L454.6 1199.3L456.4 1198L458.4 1196.5L459.2 1196L461.9 1194.1L462.5 1193.8L464.7 1192.3L466.8 1191L467.5 1190.6L470.2 1188.9L471.4 1188.2L473 1187.3L475.8 1185.7L476.2 1185.5L478.5 1184.3L481.3 1182.8L481.5 1182.7L484.1 1181.5L486.9 1180.1L487.4 1179.9L489.6 1178.9L492.4 1177.7L493.8 1177.2L495.2 1176.6L497.9 1175.6L500.7 1174.5L501.1 1174.4L503.5 1173.6L506.2 1172.7L509 1171.9L509.9 1171.6L511.8 1171.1L514.6 1170.4L517.3 1169.7L520.1 1169.1L521.2 1168.9L522.9 1168.5L525.6 1168.1L528.4 1167.6L531.2 1167.2L533.9 1166.9L536.7 1166.6L539.5 1166.3L542.2 1166.1L543.4 1166.1L545 1166L547.8 1166L550.6 1166L553.3 1166L556.1 1166.1L556.1 1166.1L558.9 1166.3L561.6 1166.5L564.4 1166.8L567.2 1167.1L569.9 1167.5L572.7 1167.9L575.5 1168.4L577.7 1168.9L578.3 1169L581 1169.6L583.8 1170.3L586.6 1171.1L588.5 1171.6L589.3 1171.9L592.1 1172.8L594.9 1173.7L596.7 1174.4L597.6 1174.7L600.4 1175.8L603.2 1177L603.6 1177.2L606 1178.2L608.7 1179.5L609.6 1179.9L611.5 1180.9L614.3 1182.3L614.9 1182.7L617 1183.9L619.8 1185.4L619.8 1185.5L622.6 1187.2L624.2 1188.2L625.3 1189L628.1 1190.8L628.4 1191L630.9 1192.8L632.2 1193.8L633.7 1194.9L635.8 1196.5L636.4 1197L639.2 1199.3L639.2 1199.3L642 1201.7L642.4 1202.1L644.7 1204.2L645.4 1204.8L647.5 1206.8" fill="none" stroke="#000" stroke-width="1.05"/>
<path d="M647.5 1486L647 1487L645.4 1489.7L644.7 1490.9L643.9 1492.5M400.7 1492.5L399.5 1489.7L398.5 1487L398.2 1486.2L397.4 1484.2L396.4 1481.4L395.6 1478.7L395.4 1478.3L394.6 1475.9L393.8 1473.1L393 1470.4L392.7 1469.2L392.2 1467.6L391.5 1464.8L390.8 1462.1L390.2 1459.3L389.9 1457.8L389.6 1456.5L389.1 1453.8L388.5 1451L388.1 1448.2L387.6 1445.5L387.3 1442.7L387.1 1441.7L386.9 1439.9L386.5 1437.2L386.2 1434.4L386 1431.6L385.7 1428.9L385.5 1426.1L385.4 1423.3L385.3 1420.6L385.2 1417.8L385.1 1415L385.1 1412.3L385.1 1409.5L385.2 1406.7L385.2 1404L385.3 1401.2L385.5 1398.4L385.6 1395.7L385.9 1392.9L386.1 1390.2L386.4 1387.4L386.7 1384.6L387.1 1381.9L387.1 1381.3L387.4 1379.1L387.8 1376.3L388.2 1373.6L388.7 1370.8L389.2 1368L389.8 1365.3L389.9 1364.5L390.3 1362.5L390.9 1359.7L391.5 1357L392.2 1354.2L392.7 1352.3L392.9 1351.4L393.6 1348.7L394.4 1345.9L395.2 1343.1L395.4 1342.4L396 1340.4L396.9 1337.6L397.8 1334.8L398.2 1333.8L398.8 1332.1L399.7 1329.3L400.8 1326.5L401 1326.1L401.9 1323.8L403 1321L403.8 1319.2L404.1 1318.2L405.3 1315.5L406.5 1312.9L406.6 1312.7L407.8 1309.9L409.2 1307.2L409.3 1307L410.5 1304.4L412 1301.6L412.1 1301.5L413.4 1298.9L414.8 1296.3L415 1296.1L416.5 1293.3L417.6 1291.4L418.1 1290.6L419.8 1287.8L420.4 1286.9L421.5 1285L423.1 1282.6L423.3 1282.3L425.2 1279.5L425.9 1278.4L427.1 1276.7L428.7 1274.5L429.1 1274L431.2 1271.2L431.5 1270.8L433.3 1268.4L434.2 1267.2L435.5 1265.7L437 1263.8L437.8 1262.9L439.8 1260.6L440.2 1260.1L442.5 1257.5L442.7 1257.4L445.2 1254.6L445.3 1254.5L447.9 1251.8L448.1 1251.7L450.7 1249.1L450.8 1248.9L453.6 1246.3L453.6 1246.3L456.4 1243.8L456.7 1243.5L459.2 1241.4L459.9 1240.8L461.9 1239L463.2 1238L464.7 1236.8L466.8 1235.2L467.5 1234.8L470.2 1232.8L470.6 1232.5L473 1230.8L474.6 1229.7L475.8 1228.9L478.5 1227.2L479 1226.9L481.3 1225.5L483.7 1224.2L484.1 1223.9L486.9 1222.4L488.7 1221.4L489.6 1221L492.4 1219.6L494.4 1218.6L495.2 1218.3L497.9 1217L500.7 1215.9L500.9 1215.9L503.5 1214.8L506.2 1213.8L508.4 1213.1L509 1212.9L511.8 1212L514.6 1211.2L517.3 1210.5L518 1210.3L520.1 1209.8L522.9 1209.2L525.6 1208.7L528.4 1208.2L531.2 1207.8L533.5 1207.6L533.9 1207.5L536.7 1207.2L539.5 1207L542.2 1206.9L545 1206.8L547.8 1206.8L550.6 1206.9L553.3 1207.1L556.1 1207.3L558.8 1207.6L558.9 1207.6L561.6 1207.9L564.4 1208.3L567.2 1208.8L569.9 1209.4L572.7 1210L573.9 1210.3L575.5 1210.7L578.3 1211.5L581 1212.4L583 1213.1L583.8 1213.4L586.6 1214.4L589.3 1215.5L590.1 1215.9L592.1 1216.7L594.9 1218L596.1 1218.6L597.6 1219.4L600.4 1220.9L601.3 1221.4L603.2 1222.5L605.9 1224.2L606 1224.2L608.7 1226L610.1 1226.9L611.5 1227.9L614 1229.7L614.3 1229.9L617 1232.1L617.5 1232.5L619.8 1234.3L620.9 1235.2L622.6 1236.7L624 1238L625.3 1239.3L626.9 1240.8L628.1 1242L629.7 1243.5L630.9 1244.8L632.3 1246.3L633.7 1247.9L634.7 1249.1L636.4 1251.1L637 1251.8L639.2 1254.6L639.2 1254.6L641.4 1257.4L642 1258.2L643.4 1260.1L644.7 1262.1L645.3 1262.9L647.1 1265.7L647.5 1266.3" fill="none" stroke="#000" stroke-width="1.05"/>
<path d="M647.5 1392.8L647.5 1392.9L647.2 1395.7L646.8 1398.4L646.4 1401.2L646 1404L645.6 1406.7L645.2 1409.5L644.8 1412.3L644.7 1412.5L644.1 1415L643.5 1417.8L642.9 1420.6L642.3 1423.3L642 1424.7L641.6 1426.1L640.7 1428.9L639.9 1431.6L639.2 1434.4L639.2 1434.5L638.2 1437.2L637.2 1439.9L636.4 1442.6L636.4 1442.7L635.2 1445.5L634.2 1448.2L633.7 1449.6L633 1451L631.8 1453.8L630.9 1456.1L630.7 1456.5L629.3 1459.3L628.1 1462L628.1 1462.1L626.5 1464.8L625.3 1467.3L625.2 1467.6L623.5 1470.4L622.6 1472.1L622 1473.1L620.3 1475.9L619.8 1476.7L618.5 1478.7L617 1481.1L616.8 1481.4L614.9 1484.2L614.3 1485.1L612.9 1487L611.5 1488.9L610.9 1489.7L608.8 1492.5M435.9 1492.5L434.2 1490L434.1 1489.7L432.6 1487L431.5 1485L431 1484.2L429.7 1481.4L428.7 1479.6L428.3 1478.7L427.1 1475.9L425.9 1473.5L425.8 1473.1L424.7 1470.4L423.6 1467.6L423.1 1466.5L422.6 1464.8L421.7 1462.1L420.7 1459.3L420.4 1458.2L419.9 1456.5L419.2 1453.8L418.5 1451L417.7 1448.2L417.6 1447.8L417.2 1445.5L416.6 1442.7L416.1 1439.9L415.6 1437.2L415.1 1434.4L414.8 1432.7L414.7 1431.6L414.4 1428.9L414.2 1426.1L413.9 1423.3L413.7 1420.6L413.6 1417.8L413.4 1415L413.4 1412.3L413.3 1409.5L413.3 1406.7L413.3 1404L413.4 1401.2L413.5 1398.4L413.7 1395.7L413.9 1392.9L414.1 1390.2L414.4 1387.4L414.6 1384.6L414.8 1382.8L415 1381.9L415.4 1379.1L415.9 1376.3L416.4 1373.6L416.9 1370.8L417.4 1368L417.6 1367L418 1365.3L418.7 1362.5L419.4 1359.7L420.1 1357L420.4 1355.8L420.9 1354.2L421.8 1351.4L422.6 1348.7L423.1 1346.7L423.4 1345.9L424.5 1343.1L425.4 1340.4L425.9 1339L426.5 1337.6L427.7 1334.8L428.7 1332.1L428.7 1332L430 1329.3L431.2 1326.5L431.5 1325.9L432.6 1323.8L433.9 1321L434.2 1320.3L435.4 1318.2L436.8 1315.5L437 1315L438.4 1312.7L439.8 1310.2L439.9 1309.9L441.7 1307.2L442.5 1305.8L443.5 1304.4L445.2 1301.6L445.3 1301.5L447.2 1298.9L448.1 1297.6L449.2 1296.1L450.8 1293.8L451.2 1293.3L453.4 1290.6L453.6 1290.3L455.7 1287.8L456.4 1287L458.2 1285L459.2 1283.9L460.7 1282.3L461.9 1280.9L463.3 1279.5L464.7 1278.1L466.1 1276.7L467.5 1275.4L469 1274L470.2 1272.9L472.1 1271.2L473 1270.4L475.3 1268.4L475.8 1268.1L478.5 1265.9L478.8 1265.7L481.3 1263.9L482.7 1262.9L484.1 1262L486.7 1260.1L486.9 1260L489.6 1258.4L491.3 1257.4L492.4 1256.8L495.2 1255.2L496.2 1254.6L497.9 1253.8L500.7 1252.4L501.9 1251.8L503.5 1251.2L506.2 1250L508.4 1249.1L509 1248.9L511.8 1248L514.6 1247L516.7 1246.3L517.3 1246.1L520.1 1245.5L522.9 1244.9L525.6 1244.3L528.4 1243.7L529.3 1243.5L531.2 1243.3L533.9 1243L536.7 1242.8L539.5 1242.7L542.2 1242.6L545 1242.6L547.8 1242.7L550.6 1242.9L553.3 1243.1L556.1 1243.4L557 1243.5L558.9 1243.9L561.6 1244.5L564.4 1245.1L567.2 1245.8L569.1 1246.3L569.9 1246.6L572.7 1247.6L575.5 1248.6L576.9 1249.1L578.3 1249.7L581 1250.9L583.1 1251.8L583.8 1252.2L586.6 1253.7L588.2 1254.6L589.3 1255.3L592.1 1257L592.7 1257.4L594.9 1258.9L596.7 1260.1L597.6 1260.8L600.4 1262.8L600.5 1262.9L603.2 1265.2L603.7 1265.7L606 1267.7L606.7 1268.4L608.7 1270.3L609.6 1271.2L611.5 1273.2L612.2 1274L614.3 1276.2L614.7 1276.7L617 1279.4L617.1 1279.5L619.2 1282.3L619.8 1283.1L621.2 1285L622.6 1286.9L623.2 1287.8L625 1290.6L625.3 1291.1L626.6 1293.3L628.1 1295.7L628.4 1296.1L629.8 1298.9L630.9 1300.8L631.3 1301.6L632.6 1304.4L633.7 1306.4L634 1307.2L635.1 1309.9L636.4 1312.7L636.4 1312.7L637.4 1315.5L638.4 1318.2L639.2 1320.2L639.5 1321L640.3 1323.8L641.1 1326.5L642 1329L642 1329.3L642.7 1332.1L643.3 1334.8L644 1337.6L644.7 1340.4L644.7 1340.5L645.2 1343.1L645.6 1345.9L646 1348.7L646.4 1351.4L646.8 1354.2L647.2 1357L647.5 1359.5" fill="none" stroke="#000" stroke-width="1.05"/>
<path d="M528.4 1296.1L531.2 1295.6L533.9 1295.3L536.7 1295.1L539.5 1295.1L542.2 1295.2L545 1295.4L547.8 1295.8L549.2 1296.1L550.6 1296.3L553.3 1296.9L556.1 1297.7L558.9 1298.7L559.2 1298.9L561.6 1299.8L564.4 1301.1L565.5 1301.6L567.2 1302.5L569.9 1304.2L570.3 1304.4L572.7 1305.9L574.4 1307.2L575.5 1308L577.8 1309.9L578.3 1310.3L580.8 1312.7L581 1312.9L583.5 1315.5L583.8 1315.8L586 1318.2L586.6 1319L588.2 1321L589.3 1322.6L590.2 1323.8L592 1326.5L592.1 1326.8L593.7 1329.3L594.9 1331.5L595.2 1332.1L596.6 1334.8L597.6 1337.1L597.9 1337.6L599.1 1340.4L600.2 1343.1L600.4 1343.8L601.2 1345.9L602.1 1348.7L602.8 1351.4L603.2 1352.7L603.6 1354.2L604.3 1357L604.8 1359.7L605.3 1362.5L605.7 1365.3L606 1367.3L606 1368L606.4 1370.8L606.6 1373.6L606.8 1376.3L606.9 1379.1L606.9 1381.9L606.8 1384.6L606.7 1387.4L606.6 1390.2L606.3 1392.9L606 1395.7L606 1396.2L605.7 1398.4L605.3 1401.2L604.9 1404L604.3 1406.7L603.7 1409.5L603.2 1411.6L603 1412.3L602.3 1415L601.5 1417.8L600.6 1420.6L600.4 1421.2L599.7 1423.3L598.7 1426.1L597.6 1428.7L597.6 1428.9L596.5 1431.6L595.2 1434.4L594.9 1435.1L593.9 1437.2L592.5 1439.9L592.1 1440.6L591 1442.7L589.3 1445.4L589.3 1445.5L587.7 1448.2L586.6 1449.9L585.8 1451L583.8 1453.8L583.8 1453.8L581.8 1456.5L581 1457.5L579.5 1459.3L578.3 1460.8L577.1 1462.1L575.5 1463.8L574.5 1464.8L572.7 1466.7L571.7 1467.6L569.9 1469.2L568.7 1470.4L567.2 1471.6L565.3 1473.1L564.4 1473.8L561.6 1475.8L561.5 1475.9L558.9 1477.7L557.3 1478.7L556.1 1479.4L553.3 1480.9L552.3 1481.4L550.6 1482.3L547.8 1483.6L546.2 1484.2L545 1484.7L542.2 1485.7L539.5 1486.5L537.6 1487L536.7 1487.2L533.9 1487.8L531.2 1488.3L528.4 1488.6L525.6 1488.8L522.9 1488.9L520.1 1488.9L517.3 1488.7L514.6 1488.4L511.8 1487.9L509 1487.3L507.9 1487L506.2 1486.5L503.5 1485.7L500.7 1484.6L499.8 1484.2L497.9 1483.4L495.2 1482L494.1 1481.4L492.4 1480.5L489.7 1478.7L489.6 1478.6L486.9 1476.7L485.8 1475.9L484.1 1474.5L482.5 1473.1L481.3 1472.1L479.6 1470.4L478.5 1469.3L477 1467.6L475.8 1466.2L474.6 1464.8L473 1462.7L472.5 1462.1L470.6 1459.3L470.2 1458.8L468.8 1456.5L467.5 1454.2L467.2 1453.8L465.7 1451L464.7 1449L464.3 1448.2L463 1445.5L462 1442.7L461.9 1442.6L460.8 1439.9L459.9 1437.2L459.2 1434.6L459.1 1434.4L458.3 1431.6L457.5 1428.9L457 1426.1L456.4 1423.3L456.4 1423L455.9 1420.6L455.5 1417.8L455.2 1415L454.9 1412.3L454.7 1409.5L454.6 1406.7L454.5 1404L454.5 1401.2L454.6 1398.4L454.7 1395.7L454.9 1392.9L455.1 1390.2L455.4 1387.4L455.8 1384.6L456.3 1381.9L456.4 1381.2L456.7 1379.1L457.3 1376.3L457.9 1373.6L458.6 1370.8L459.2 1368.8L459.4 1368L460.1 1365.3L461 1362.5L461.9 1360L462 1359.7L463 1357L464.1 1354.2L464.7 1352.9L465.3 1351.4L466.6 1348.7L467.5 1346.9L468 1345.9L469.4 1343.1L470.2 1341.7L471 1340.4L472.6 1337.6L473 1337L474.3 1334.8L475.8 1332.7L476.2 1332.1L478.3 1329.3L478.5 1328.9L480.4 1326.5L481.3 1325.4L482.7 1323.8L484.1 1322.1L485.1 1321L486.9 1319.2L487.8 1318.2L489.6 1316.5L490.7 1315.5L492.4 1313.9L493.9 1312.7L495.2 1311.6L497.4 1309.9L497.9 1309.5L500.7 1307.5L501.3 1307.2L503.5 1305.7L505.8 1304.4L506.2 1304.1L509 1302.6L511 1301.6L511.8 1301.3L514.6 1300L517.3 1299L517.8 1298.9L520.1 1298L522.9 1297.2L525.6 1296.6L528.3 1296.1Z" fill="none" stroke="#000" stroke-width="1.05"/>
</g>
<g transform="translate(0 1050.714) scale(1 1.11028)">
<text x="0.00" y="38.90" font-family="Liberation Sans" font-size="10.10" fill="#000" textLength="126.60" lengthAdjust="spacing">Design-Expert® Software</text>
<text x="0.00" y="50.40" font-family="Liberation Sans" font-size="10.10" fill="#000" textLength="109.50" lengthAdjust="spacing">Factor Coding: Actual</text>
<text x="0.00" y="62.00" font-family="Liberation Sans" font-size="10.10" fill="#000" textLength="74.80" lengthAdjust="spacing">In recovery (%)</text>
<rect x="3.5" y="66.5" width="6.5" height="30" fill="url(#gbar)" stroke="#111" stroke-width="1"/>
<text x="13.20" y="74.30" font-family="Liberation Sans" font-size="10.10" fill="#ff0000" textLength="18.30" lengthAdjust="spacing">100</text>
<text x="13.50" y="97.60" font-family="Liberation Sans" font-size="10.10" fill="#0000ff" textLength="12.30" lengthAdjust="spacing">14</text>
<text x="0.00" y="121.20" font-family="Liberation Sans" font-size="10.10" fill="#000" textLength="108.60" lengthAdjust="spacing">X1 = A: FeSO4.7H2O</text>
<text x="0.00" y="132.70" font-family="Liberation Sans" font-size="10.10" fill="#000" textLength="84.60" lengthAdjust="spacing">X2 = D: Initial pH</text>
<text x="0.00" y="156.50" font-family="Liberation Sans" font-size="10.10" fill="#000" textLength="73.30" lengthAdjust="spacing">Actual Factors</text>
<text x="0.00" y="168.00" font-family="Liberation Sans" font-size="10.10" fill="#000" textLength="58.20" lengthAdjust="spacing">B: S = 5.00</text>
<text x="0.00" y="179.30" font-family="Liberation Sans" font-size="10.10" fill="#000" textLength="119.30" lengthAdjust="spacing">C: Pulp density = 13.00</text>
<text transform="translate(454.40 49.80) scale(1.0850 1)" font-family="Liberation Serif" font-size="19.40" text-anchor="middle" fill="#000">In recovery (%)</text>
<rect x="268.5" y="57.0" width="373.0" height="335.5" fill="none" stroke="#222" stroke-width="1"/>
<line x1="268.50" y1="392.5" x2="268.50" y2="402.0" stroke="#222" stroke-width="1"/>
<text transform="translate(268.50 419.20) scale(1.0500 1)" font-family="Liberation Serif" font-size="16.40" text-anchor="middle" fill="#000">0.0</text>
<line x1="361.75" y1="392.5" x2="361.75" y2="402.0" stroke="#222" stroke-width="1"/>
<text transform="translate(361.75 419.20) scale(1.0500 1)" font-family="Liberation Serif" font-size="16.40" text-anchor="middle" fill="#000">8.8</text>
<line x1="455.00" y1="392.5" x2="455.00" y2="402.0" stroke="#222" stroke-width="1"/>
<text transform="translate(455.00 419.20) scale(1.0500 1)" font-family="Liberation Serif" font-size="16.40" text-anchor="middle" fill="#000">17.5</text>
<line x1="548.25" y1="392.5" x2="548.25" y2="402.0" stroke="#222" stroke-width="1"/>
<text transform="translate(548.25 419.20) scale(1.0500 1)" font-family="Liberation Serif" font-size="16.40" text-anchor="middle" fill="#000">26.3</text>
<line x1="641.50" y1="392.5" x2="641.50" y2="402.0" stroke="#222" stroke-width="1"/>
<text transform="translate(641.50 419.20) scale(1.0500 1)" font-family="Liberation Serif" font-size="16.40" text-anchor="middle" fill="#000">35.0</text>
<line x1="258.5" y1="392.50" x2="268.5" y2="392.50" stroke="#222" stroke-width="1"/>
<text transform="translate(254.30 397.60) scale(1.0500 1)" font-family="Liberation Serif" font-size="16.40" text-anchor="end" fill="#000">1.0</text>
<line x1="258.5" y1="325.40" x2="268.5" y2="325.40" stroke="#222" stroke-width="1"/>
<text transform="translate(254.30 330.50) scale(1.0500 1)" font-family="Liberation Serif" font-size="16.40" text-anchor="end" fill="#000">1.6</text>
<line x1="258.5" y1="258.30" x2="268.5" y2="258.30" stroke="#222" stroke-width="1"/>
<text transform="translate(254.30 263.40) scale(1.0500 1)" font-family="Liberation Serif" font-size="16.40" text-anchor="end" fill="#000">2.2</text>
<line x1="258.5" y1="191.20" x2="268.5" y2="191.20" stroke="#222" stroke-width="1"/>
<text transform="translate(254.30 196.30) scale(1.0500 1)" font-family="Liberation Serif" font-size="16.40" text-anchor="end" fill="#000">2.8</text>
<line x1="258.5" y1="124.10" x2="268.5" y2="124.10" stroke="#222" stroke-width="1"/>
<text transform="translate(254.30 129.20) scale(1.0500 1)" font-family="Liberation Serif" font-size="16.40" text-anchor="end" fill="#000">3.4</text>
<line x1="258.5" y1="57.00" x2="268.5" y2="57.00" stroke="#222" stroke-width="1"/>
<text transform="translate(254.30 62.10) scale(1.0500 1)" font-family="Liberation Serif" font-size="16.40" text-anchor="end" fill="#000">4.0</text>
<text transform="translate(453.30 465.90) scale(1.0800 1)" font-family="Liberation Serif" font-size="20.50" text-anchor="middle" fill="#000">A: FeSO4.7H2O  (g/L)</text>
<text transform="translate(210.6 224) scale(1.13 1) rotate(-90)" font-family="Liberation Serif" font-size="20.3" text-anchor="middle">D: Initial pH</text>
</g>
<rect x="288.70" y="1138.10" width="10.40" height="14.60" fill="#fff" stroke="#1a1a1a" stroke-width="1"/>
<text x="291.70" y="1150.40" font-family="Liberation Serif" font-size="14.6" textLength="6.4" lengthAdjust="spacingAndGlyphs" stroke="#000" stroke-width="0.35">5</text>
<rect x="301.75" y="1169.20" width="16.60" height="14.60" fill="#fff" stroke="#1a1a1a" stroke-width="1"/>
<text x="304.65" y="1181.50" font-family="Liberation Serif" font-size="14.6" textLength="12.7" lengthAdjust="spacingAndGlyphs" stroke="#000" stroke-width="0.35">23</text>
<rect x="323.50" y="1241.20" width="16.60" height="14.60" fill="#fff" stroke="#1a1a1a" stroke-width="1"/>
<text x="326.40" y="1253.50" font-family="Liberation Serif" font-size="14.6" textLength="12.7" lengthAdjust="spacingAndGlyphs" stroke="#000" stroke-width="0.35">50</text>
<rect x="390.60" y="1198.60" width="16.60" height="14.60" fill="#fff" stroke="#1a1a1a" stroke-width="1"/>
<text x="393.50" y="1210.90" font-family="Liberation Serif" font-size="14.6" textLength="12.7" lengthAdjust="spacingAndGlyphs" stroke="#000" stroke-width="0.35">65</text>
<rect x="411.20" y="1217.20" width="16.60" height="14.60" fill="#fff" stroke="#1a1a1a" stroke-width="1"/>
<text x="414.10" y="1229.50" font-family="Liberation Serif" font-size="14.6" textLength="12.7" lengthAdjust="spacingAndGlyphs" stroke="#000" stroke-width="0.35">75</text>
<rect x="434.90" y="1242.35" width="16.60" height="14.60" fill="#fff" stroke="#1a1a1a" stroke-width="1"/>
<text x="437.80" y="1254.65" font-family="Liberation Serif" font-size="14.6" textLength="12.7" lengthAdjust="spacingAndGlyphs" stroke="#000" stroke-width="0.35">85</text>
<rect x="462.70" y="1256.70" width="16.60" height="14.60" fill="#fff" stroke="#1a1a1a" stroke-width="1"/>
<text x="465.60" y="1269.00" font-family="Liberation Serif" font-size="14.6" textLength="12.7" lengthAdjust="spacingAndGlyphs" stroke="#000" stroke-width="0.35">93</text>
<rect x="529.30" y="1279.90" width="23.00" height="14.60" fill="#fff" stroke="#1a1a1a" stroke-width="1"/>
<text x="532.90" y="1292.20" font-family="Liberation Serif" font-size="14.6" textLength="18.4" lengthAdjust="spacingAndGlyphs" stroke="#000" stroke-width="0.35">100</text>
<rect x="620.90" y="1441.60" width="16.60" height="14.60" fill="#fff" stroke="#1a1a1a" stroke-width="1"/>
<text x="623.80" y="1453.90" font-family="Liberation Serif" font-size="14.6" textLength="12.7" lengthAdjust="spacingAndGlyphs" stroke="#000" stroke-width="0.35">93</text>
<text transform="translate(180.90 17.30) scale(0.9000 1)" font-family="Liberation Sans" font-size="31.50" text-anchor="start" fill="#000" font-weight="bold">a</text>
<text transform="translate(186.60 532.20) scale(1.0000 1)" font-family="Liberation Sans" font-size="31.50" text-anchor="start" fill="#000" font-weight="bold">b</text>
<text transform="translate(187.90 1068.00) scale(1.0000 1)" font-family="Liberation Sans" font-size="31.50" text-anchor="start" fill="#000" font-weight="bold">c</text>
</svg>
</body></html>
